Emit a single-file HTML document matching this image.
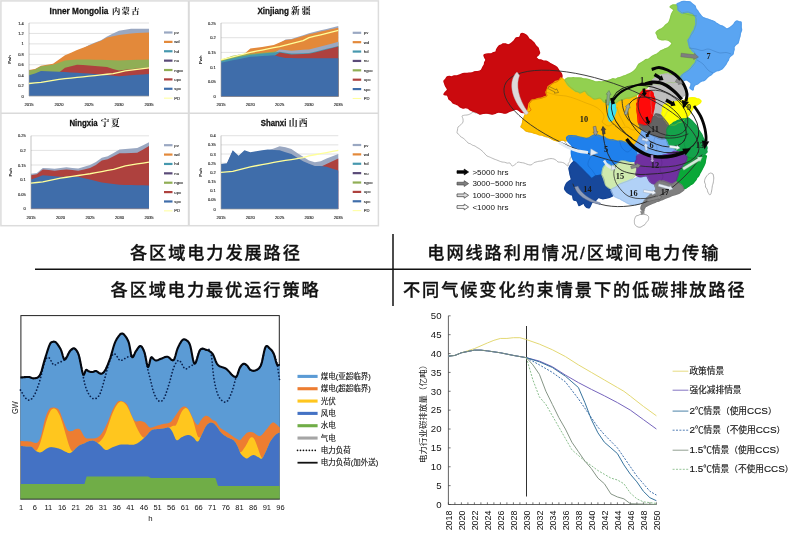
<!DOCTYPE html>
<html lang="zh"><head><meta charset="utf-8"><title>电力发展路径</title>
<style>
html,body{margin:0;padding:0;background:#fff;}
body{width:800px;height:549px;overflow:hidden;position:relative;font-family:"Liberation Sans", "Noto Sans CJK SC", sans-serif;}
svg{position:absolute;left:0;top:0;display:block;}
text{font-family:"Liberation Sans", "Noto Sans CJK SC", sans-serif;}
.ser{font-family:"Liberation Serif", "Noto Serif CJK SC", serif;}
</style></head><body>
<svg width="800" height="549" viewBox="0 0 800 549">
<rect x="0.9" y="0.9" width="377.5" height="224.8" fill="#fff" stroke="#dcdcdc" stroke-width="1.5"/>
<line x1="188.8" y1="0.9" x2="188.8" y2="225.7" stroke="#dadada" stroke-width="2"/>
<line x1="0.9" y1="113.2" x2="378.4" y2="113.2" stroke="#dadada" stroke-width="1.6"/>
<text x="49.6" y="13.7" font-size="9.3" font-weight="bold" fill="#111" stroke="#111" stroke-width="0.28" textLength="58.7" lengthAdjust="spacingAndGlyphs">Inner Mongolia</text>
<text class="ser" x="112" y="13.7" font-size="8.3" font-weight="bold" fill="#111" letter-spacing="1.3">内蒙古</text>
<line x1="29" y1="96" x2="149" y2="96" stroke="#cfcfcf" stroke-width="0.6"/>
<text x="23.7" y="97.5" text-anchor="end" font-size="4" fill="#222" stroke="#222" stroke-width="0.12">0</text>
<line x1="29" y1="85.57" x2="149" y2="85.57" stroke="#cfcfcf" stroke-width="0.6"/>
<text x="23.7" y="87.07" text-anchor="end" font-size="4" fill="#222" stroke="#222" stroke-width="0.12">0.2</text>
<line x1="29" y1="75.14" x2="149" y2="75.14" stroke="#cfcfcf" stroke-width="0.6"/>
<text x="23.7" y="76.64" text-anchor="end" font-size="4" fill="#222" stroke="#222" stroke-width="0.12">0.4</text>
<line x1="29" y1="64.71" x2="149" y2="64.71" stroke="#cfcfcf" stroke-width="0.6"/>
<text x="23.7" y="66.21" text-anchor="end" font-size="4" fill="#222" stroke="#222" stroke-width="0.12">0.6</text>
<line x1="29" y1="54.29" x2="149" y2="54.29" stroke="#cfcfcf" stroke-width="0.6"/>
<text x="23.7" y="55.79" text-anchor="end" font-size="4" fill="#222" stroke="#222" stroke-width="0.12">0.8</text>
<line x1="29" y1="43.86" x2="149" y2="43.86" stroke="#cfcfcf" stroke-width="0.6"/>
<text x="23.7" y="45.36" text-anchor="end" font-size="4" fill="#222" stroke="#222" stroke-width="0.12">1</text>
<line x1="29" y1="33.43" x2="149" y2="33.43" stroke="#cfcfcf" stroke-width="0.6"/>
<text x="23.7" y="34.93" text-anchor="end" font-size="4" fill="#222" stroke="#222" stroke-width="0.12">1.2</text>
<line x1="29" y1="23" x2="149" y2="23" stroke="#cfcfcf" stroke-width="0.6"/>
<text x="23.7" y="24.5" text-anchor="end" font-size="4" fill="#222" stroke="#222" stroke-width="0.12">1.4</text>
<polygon points="29,96 29,70.73 35,69.69 41,66.56 47,65.51 53,64.47 59,60.3 65,56.13 71,53.52 77,50.91 83,48.57 89,44.9 95,42.55 101,40.21 107,36.56 113,33.43 119,30.82 125,29.78 131,28.74 137,28.74 143,28.74 149,28.74 149,96" fill="#9AA8C2"/>
<polygon points="29,96 29,69.93 35,68.89 41,65.76 47,64.71 53,63.67 59,59.5 65,55.33 71,52.72 77,50.11 83,47.77 89,45.42 95,43.07 101,40.73 107,37.6 113,36.3 119,34.99 125,34.21 131,33.43 137,33.08 143,32.73 149,32.39 149,96" fill="#E3893A"/>
<polygon points="29,96 29,70.45 35,69.41 41,66.28 47,65.5 53,64.71 59,62.63 65,60.54 71,60.02 77,59.5 83,59.5 89,59.5 95,59.67 101,59.85 107,60.02 113,60.28 119,60.54 125,60.28 131,60.02 137,59.85 143,59.67 149,59.5 149,96" fill="#90AE55"/>
<polygon points="29,96 29,75.94 35,74.38 41,71.77 47,72.03 53,72.29 59,72.55 65,67.84 71,66.28 77,64.71 83,65.11 89,65.5 95,66.02 101,66.54 107,67.06 113,68.89 119,70.45 125,69.8 131,69.15 137,68.57 143,68 149,67.43 149,96" fill="#AE413E"/>
<polygon points="29,96 29,75.14 35,73.58 41,70.97 47,71.23 53,71.49 59,71.75 65,72.01 71,72.41 77,72.8 83,73.19 89,73.58 95,74.1 101,74.62 107,75.14 113,75.66 119,76.19 125,75.66 131,75.14 137,74.8 143,74.45 149,74.1 149,96" fill="#3F6DAA"/>
<line x1="29" y1="23" x2="29" y2="96" stroke="#9a9a9a" stroke-width="0.6"/>
<line x1="29" y1="96" x2="149" y2="96" stroke="#9a9a9a" stroke-width="0.6"/>
<polyline points="29,83.49 35,82.96 41,82.44 47,81.4 53,80.36 59,79.31 65,78.69 71,78.06 77,77.44 83,76.81 89,76.19 95,75.53 101,74.88 107,74.23 113,73.58 119,72.28 125,70.97 131,70.19 137,69.41 143,68.62 149,67.84" fill="none" stroke="#FFFF99" stroke-width="1.3" stroke-linejoin="round"/>
<text x="29" y="105.7" text-anchor="middle" font-size="4.1" fill="#222" stroke="#222" stroke-width="0.12">2015</text>
<text x="59" y="105.7" text-anchor="middle" font-size="4.1" fill="#222" stroke="#222" stroke-width="0.12">2020</text>
<text x="89" y="105.7" text-anchor="middle" font-size="4.1" fill="#222" stroke="#222" stroke-width="0.12">2025</text>
<text x="119" y="105.7" text-anchor="middle" font-size="4.1" fill="#222" stroke="#222" stroke-width="0.12">2030</text>
<text x="149" y="105.7" text-anchor="middle" font-size="4.1" fill="#222" stroke="#222" stroke-width="0.12">2035</text>
<text transform="translate(11,59.5) rotate(-90)" text-anchor="middle" font-size="4.2" font-weight="bold" fill="#111">Pwh</text>
<line x1="164" y1="32.5" x2="172.5" y2="32.5" stroke="#9AA8C2" stroke-width="2.2"/>
<text x="174.3" y="34" font-size="4.2" fill="#222" stroke="#222" stroke-width="0.1">pv</text>
<line x1="164" y1="41.88" x2="172.5" y2="41.88" stroke="#E3893A" stroke-width="2.2"/>
<text x="174.3" y="43.38" font-size="4.2" fill="#222" stroke="#222" stroke-width="0.1">wd</text>
<line x1="164" y1="51.26" x2="172.5" y2="51.26" stroke="#4698AE" stroke-width="2.2"/>
<text x="174.3" y="52.76" font-size="4.2" fill="#222" stroke="#222" stroke-width="0.1">hd</text>
<line x1="164" y1="60.64" x2="172.5" y2="60.64" stroke="#5A4A78" stroke-width="2.2"/>
<text x="174.3" y="62.14" font-size="4.2" fill="#222" stroke="#222" stroke-width="0.1">nu</text>
<line x1="164" y1="70.02" x2="172.5" y2="70.02" stroke="#90AE55" stroke-width="2.2"/>
<text x="174.3" y="71.52" font-size="4.2" fill="#222" stroke="#222" stroke-width="0.1">ngcc</text>
<line x1="164" y1="79.4" x2="172.5" y2="79.4" stroke="#AE413E" stroke-width="2.2"/>
<text x="174.3" y="80.9" font-size="4.2" fill="#222" stroke="#222" stroke-width="0.1">upc</text>
<line x1="164" y1="88.78" x2="172.5" y2="88.78" stroke="#3F6DAA" stroke-width="2.2"/>
<text x="174.3" y="90.28" font-size="4.2" fill="#222" stroke="#222" stroke-width="0.1">spc</text>
<line x1="164" y1="98.16" x2="172.5" y2="98.16" stroke="#FFFF99" stroke-width="1"/>
<text x="174.3" y="99.66" font-size="4.2" fill="#222" stroke="#222" stroke-width="0.1">PD</text>
<text x="257.4" y="13.5" font-size="9.3" font-weight="bold" fill="#111" stroke="#111" stroke-width="0.28" textLength="31.5" lengthAdjust="spacingAndGlyphs">Xinjiang</text>
<text class="ser" x="291" y="13.5" font-size="8.8" font-weight="bold" fill="#111" letter-spacing="1.9">新疆</text>
<line x1="221" y1="96.5" x2="338.3" y2="96.5" stroke="#cfcfcf" stroke-width="0.6"/>
<text x="215.7" y="98" text-anchor="end" font-size="4" fill="#222" stroke="#222" stroke-width="0.12">0</text>
<line x1="221" y1="81.8" x2="338.3" y2="81.8" stroke="#cfcfcf" stroke-width="0.6"/>
<text x="215.7" y="83.3" text-anchor="end" font-size="4" fill="#222" stroke="#222" stroke-width="0.12">0.05</text>
<line x1="221" y1="67.1" x2="338.3" y2="67.1" stroke="#cfcfcf" stroke-width="0.6"/>
<text x="215.7" y="68.6" text-anchor="end" font-size="4" fill="#222" stroke="#222" stroke-width="0.12">0.1</text>
<line x1="221" y1="52.4" x2="338.3" y2="52.4" stroke="#cfcfcf" stroke-width="0.6"/>
<text x="215.7" y="53.9" text-anchor="end" font-size="4" fill="#222" stroke="#222" stroke-width="0.12">0.15</text>
<line x1="221" y1="37.7" x2="338.3" y2="37.7" stroke="#cfcfcf" stroke-width="0.6"/>
<text x="215.7" y="39.2" text-anchor="end" font-size="4" fill="#222" stroke="#222" stroke-width="0.12">0.2</text>
<line x1="221" y1="23" x2="338.3" y2="23" stroke="#cfcfcf" stroke-width="0.6"/>
<text x="215.7" y="24.5" text-anchor="end" font-size="4" fill="#222" stroke="#222" stroke-width="0.12">0.25</text>
<polygon points="221,96.5 221,60.55 226.87,58.49 232.73,56.43 238.59,54.46 244.46,54.67 250.32,49.38 256.19,48.64 262.06,47.91 267.92,46.88 273.79,45.85 279.65,43.35 285.51,39.46 291.38,38.88 297.25,37.01 303.11,35.15 308.98,33.29 314.84,31.82 320.71,30.35 326.57,28.88 332.44,27.41 338.3,25.94 338.3,96.5" fill="#9AA8C2"/>
<polygon points="221,96.5 221,60.55 226.87,58.49 232.73,56.43 238.59,55.85 244.46,53.87 250.32,48.58 256.19,47.84 262.06,47.11 267.92,46.08 273.79,45.05 279.65,42.55 285.51,40.05 291.38,39.46 297.25,37.7 303.11,35.94 308.98,34.17 314.84,32.88 320.71,31.58 326.57,30.29 332.44,29 338.3,27.7 338.3,96.5" fill="#E3893A"/>
<polygon points="221,96.5 221,59.75 226.87,57.69 232.73,55.63 238.59,55.05 244.46,54.46 250.32,53.87 256.19,53.36 262.06,52.84 267.92,52.33 273.79,51.81 279.65,50.26 285.51,50.85 291.38,51.44 297.25,51.04 303.11,50.65 308.98,50.26 314.84,48.79 320.71,47.32 326.57,45.75 332.44,44.18 338.3,42.62 338.3,96.5" fill="#90AE55"/>
<polygon points="221,96.5 221,62.02 226.87,60.55 232.73,59.08 238.59,57.9 244.46,56.73 250.32,55.55 256.19,54.96 262.06,54.38 267.92,53.79 273.79,53.2 279.65,49.46 285.51,50.05 291.38,50.64 297.25,50.24 303.11,49.85 308.98,49.46 314.84,47.99 320.71,46.52 326.57,44.95 332.44,43.38 338.3,41.82 338.3,96.5" fill="#9AA8C2"/>
<polygon points="221,96.5 221,61.22 226.87,59.75 232.73,58.28 238.59,57.1 244.46,55.93 250.32,54.75 256.19,54.16 262.06,53.58 267.92,52.99 273.79,52.4 279.65,51.81 285.51,52.69 291.38,53.58 297.25,53.38 303.11,53.18 308.98,52.99 314.84,51.66 320.71,50.34 326.57,48.87 332.44,47.4 338.3,45.93 338.3,96.5" fill="#4698AE"/>
<polygon points="221,96.5 221,63.49 226.87,62.31 232.73,61.14 238.59,59.96 244.46,58.79 250.32,57.61 256.19,57.24 262.06,56.88 267.92,56.51 273.79,56.14 279.65,52.4 285.51,53.43 291.38,54.46 297.25,54.26 303.11,54.07 308.98,53.87 314.84,52.4 320.71,50.93 326.57,49.46 332.44,47.99 338.3,46.52 338.3,96.5" fill="#AE413E"/>
<polygon points="221,96.5 221,62.69 226.87,61.51 232.73,60.34 238.59,59.16 244.46,57.99 250.32,56.81 256.19,56.44 262.06,56.07 267.92,55.71 273.79,55.34 279.65,56.66 285.51,57.99 291.38,58.06 297.25,58.13 303.11,58.21 308.98,58.28 314.84,58.28 320.71,58.28 326.57,58.28 332.44,58.28 338.3,58.28 338.3,96.5" fill="#3F6DAA"/>
<line x1="221" y1="23" x2="221" y2="96.5" stroke="#9a9a9a" stroke-width="0.6"/>
<line x1="221" y1="96.5" x2="338.3" y2="96.5" stroke="#9a9a9a" stroke-width="0.6"/>
<polyline points="221,59.75 226.87,58.28 232.73,56.81 238.59,55.34 244.46,53.87 250.32,52.4 256.19,51.22 262.06,50.05 267.92,48.87 273.79,47.7 279.65,46.52 285.51,45.05 291.38,43.58 297.25,42.11 303.11,40.64 308.98,37.7 314.84,36.23 320.71,34.76 326.57,33.29 332.44,31.82 338.3,30.35" fill="none" stroke="#FFFF99" stroke-width="1.3" stroke-linejoin="round"/>
<text x="221" y="106.2" text-anchor="middle" font-size="4.1" fill="#222" stroke="#222" stroke-width="0.12">2015</text>
<text x="250.32" y="106.2" text-anchor="middle" font-size="4.1" fill="#222" stroke="#222" stroke-width="0.12">2020</text>
<text x="279.65" y="106.2" text-anchor="middle" font-size="4.1" fill="#222" stroke="#222" stroke-width="0.12">2025</text>
<text x="308.98" y="106.2" text-anchor="middle" font-size="4.1" fill="#222" stroke="#222" stroke-width="0.12">2030</text>
<text x="338.3" y="106.2" text-anchor="middle" font-size="4.1" fill="#222" stroke="#222" stroke-width="0.12">2035</text>
<text transform="translate(202,59.75) rotate(-90)" text-anchor="middle" font-size="4.2" font-weight="bold" fill="#111">Pwh</text>
<line x1="352.7" y1="32.8" x2="361.2" y2="32.8" stroke="#9AA8C2" stroke-width="2.2"/>
<text x="363.8" y="34.3" font-size="4.2" fill="#222" stroke="#222" stroke-width="0.1">pv</text>
<line x1="352.7" y1="42.18" x2="361.2" y2="42.18" stroke="#E3893A" stroke-width="2.2"/>
<text x="363.8" y="43.68" font-size="4.2" fill="#222" stroke="#222" stroke-width="0.1">wd</text>
<line x1="352.7" y1="51.56" x2="361.2" y2="51.56" stroke="#4698AE" stroke-width="2.2"/>
<text x="363.8" y="53.06" font-size="4.2" fill="#222" stroke="#222" stroke-width="0.1">hd</text>
<line x1="352.7" y1="60.94" x2="361.2" y2="60.94" stroke="#5A4A78" stroke-width="2.2"/>
<text x="363.8" y="62.44" font-size="4.2" fill="#222" stroke="#222" stroke-width="0.1">nu</text>
<line x1="352.7" y1="70.32" x2="361.2" y2="70.32" stroke="#90AE55" stroke-width="2.2"/>
<text x="363.8" y="71.82" font-size="4.2" fill="#222" stroke="#222" stroke-width="0.1">ngcc</text>
<line x1="352.7" y1="79.7" x2="361.2" y2="79.7" stroke="#AE413E" stroke-width="2.2"/>
<text x="363.8" y="81.2" font-size="4.2" fill="#222" stroke="#222" stroke-width="0.1">upc</text>
<line x1="352.7" y1="89.08" x2="361.2" y2="89.08" stroke="#3F6DAA" stroke-width="2.2"/>
<text x="363.8" y="90.58" font-size="4.2" fill="#222" stroke="#222" stroke-width="0.1">spc</text>
<line x1="352.7" y1="98.46" x2="361.2" y2="98.46" stroke="#FFFF99" stroke-width="1"/>
<text x="363.8" y="99.96" font-size="4.2" fill="#222" stroke="#222" stroke-width="0.1">PD</text>
<text x="69.4" y="126.1" font-size="9.3" font-weight="bold" fill="#111" stroke="#111" stroke-width="0.28" textLength="28.3" lengthAdjust="spacingAndGlyphs">Ningxia</text>
<text class="ser" x="100.8" y="126.1" font-size="8.6" font-weight="bold" fill="#111" letter-spacing="1.5">宁夏</text>
<line x1="31" y1="208.8" x2="149" y2="208.8" stroke="#cfcfcf" stroke-width="0.6"/>
<text x="25.7" y="210.3" text-anchor="end" font-size="4" fill="#222" stroke="#222" stroke-width="0.12">0</text>
<line x1="31" y1="194.2" x2="149" y2="194.2" stroke="#cfcfcf" stroke-width="0.6"/>
<text x="25.7" y="195.7" text-anchor="end" font-size="4" fill="#222" stroke="#222" stroke-width="0.12">0.05</text>
<line x1="31" y1="179.6" x2="149" y2="179.6" stroke="#cfcfcf" stroke-width="0.6"/>
<text x="25.7" y="181.1" text-anchor="end" font-size="4" fill="#222" stroke="#222" stroke-width="0.12">0.1</text>
<line x1="31" y1="165" x2="149" y2="165" stroke="#cfcfcf" stroke-width="0.6"/>
<text x="25.7" y="166.5" text-anchor="end" font-size="4" fill="#222" stroke="#222" stroke-width="0.12">0.15</text>
<line x1="31" y1="150.4" x2="149" y2="150.4" stroke="#cfcfcf" stroke-width="0.6"/>
<text x="25.7" y="151.9" text-anchor="end" font-size="4" fill="#222" stroke="#222" stroke-width="0.12">0.2</text>
<line x1="31" y1="135.8" x2="149" y2="135.8" stroke="#cfcfcf" stroke-width="0.6"/>
<text x="25.7" y="137.3" text-anchor="end" font-size="4" fill="#222" stroke="#222" stroke-width="0.12">0.25</text>
<polygon points="31,208.8 31,173.76 36.9,172.88 42.8,167.92 48.7,168.36 54.6,168.8 60.5,168.07 66.4,167.34 72.3,167.92 78.2,168.5 84.1,166.75 90,165 95.9,162.08 101.8,157.7 107.7,156.24 113.6,152.88 119.5,149.52 125.4,149.04 131.3,148.55 137.2,148.06 143.1,145.14 149,142.22 149,208.8" fill="#9AA8C2"/>
<polygon points="31,208.8 31,175.22 36.9,174.34 42.8,169.38 48.7,170.11 54.6,170.84 60.5,170.11 66.4,169.38 72.3,170.11 78.2,170.84 84.1,169.38 90,167.92 95.9,165 101.8,160.62 107.7,159.16 113.6,156.24 119.5,153.32 125.4,153.13 131.3,152.93 137.2,152.74 143.1,149.38 149,146.02 149,208.8" fill="#AE413E"/>
<polygon points="31,208.8 31,179.6 36.9,177.41 42.8,175.22 48.7,175.71 54.6,176.19 60.5,176.68 66.4,176.68 72.3,176.68 78.2,176.68 84.1,178.14 90,179.6 95.9,181.06 101.8,182.52 107.7,183.3 113.6,184.08 119.5,184.86 125.4,184.97 131.3,185.09 137.2,185.21 143.1,185.32 149,185.44 149,208.8" fill="#3F6DAA"/>
<line x1="31" y1="135.8" x2="31" y2="208.8" stroke="#9a9a9a" stroke-width="0.6"/>
<line x1="31" y1="208.8" x2="149" y2="208.8" stroke="#9a9a9a" stroke-width="0.6"/>
<polyline points="31,183.1 36.9,182.52 42.8,181.94 48.7,180.67 54.6,179.41 60.5,178.14 66.4,177.26 72.3,176.39 78.2,175.51 84.1,174.64 90,173.76 95.9,172.67 101.8,171.57 107.7,170.48 113.6,169.38 119.5,167.63 125.4,165.88 131.3,164.93 137.2,163.98 143.1,163.03 149,162.08" fill="none" stroke="#FFFF99" stroke-width="1.3" stroke-linejoin="round"/>
<text x="31" y="218.5" text-anchor="middle" font-size="4.1" fill="#222" stroke="#222" stroke-width="0.12">2015</text>
<text x="60.5" y="218.5" text-anchor="middle" font-size="4.1" fill="#222" stroke="#222" stroke-width="0.12">2020</text>
<text x="90" y="218.5" text-anchor="middle" font-size="4.1" fill="#222" stroke="#222" stroke-width="0.12">2025</text>
<text x="119.5" y="218.5" text-anchor="middle" font-size="4.1" fill="#222" stroke="#222" stroke-width="0.12">2030</text>
<text x="149" y="218.5" text-anchor="middle" font-size="4.1" fill="#222" stroke="#222" stroke-width="0.12">2035</text>
<text transform="translate(12,172.3) rotate(-90)" text-anchor="middle" font-size="4.2" font-weight="bold" fill="#111">Pwh</text>
<line x1="164" y1="145.2" x2="172.5" y2="145.2" stroke="#9AA8C2" stroke-width="2.2"/>
<text x="174.3" y="146.7" font-size="4.2" fill="#222" stroke="#222" stroke-width="0.1">pv</text>
<line x1="164" y1="154.58" x2="172.5" y2="154.58" stroke="#E3893A" stroke-width="2.2"/>
<text x="174.3" y="156.08" font-size="4.2" fill="#222" stroke="#222" stroke-width="0.1">wd</text>
<line x1="164" y1="163.96" x2="172.5" y2="163.96" stroke="#4698AE" stroke-width="2.2"/>
<text x="174.3" y="165.46" font-size="4.2" fill="#222" stroke="#222" stroke-width="0.1">hd</text>
<line x1="164" y1="173.34" x2="172.5" y2="173.34" stroke="#5A4A78" stroke-width="2.2"/>
<text x="174.3" y="174.84" font-size="4.2" fill="#222" stroke="#222" stroke-width="0.1">nu</text>
<line x1="164" y1="182.72" x2="172.5" y2="182.72" stroke="#90AE55" stroke-width="2.2"/>
<text x="174.3" y="184.22" font-size="4.2" fill="#222" stroke="#222" stroke-width="0.1">ngcc</text>
<line x1="164" y1="192.1" x2="172.5" y2="192.1" stroke="#AE413E" stroke-width="2.2"/>
<text x="174.3" y="193.6" font-size="4.2" fill="#222" stroke="#222" stroke-width="0.1">upc</text>
<line x1="164" y1="201.48" x2="172.5" y2="201.48" stroke="#3F6DAA" stroke-width="2.2"/>
<text x="174.3" y="202.98" font-size="4.2" fill="#222" stroke="#222" stroke-width="0.1">spc</text>
<line x1="164" y1="210.86" x2="172.5" y2="210.86" stroke="#FFFF99" stroke-width="1"/>
<text x="174.3" y="212.36" font-size="4.2" fill="#222" stroke="#222" stroke-width="0.1">PD</text>
<text x="260.8" y="126.1" font-size="9.3" font-weight="bold" fill="#111" stroke="#111" stroke-width="0.28" textLength="25.5" lengthAdjust="spacingAndGlyphs">Shanxi</text>
<text class="ser" x="288.7" y="126.1" font-size="8.8" font-weight="bold" fill="#111" letter-spacing="1.2">山西</text>
<line x1="221" y1="209" x2="338.3" y2="209" stroke="#cfcfcf" stroke-width="0.6"/>
<text x="215.7" y="210.5" text-anchor="end" font-size="4" fill="#222" stroke="#222" stroke-width="0.12">0</text>
<line x1="221" y1="199.84" x2="338.3" y2="199.84" stroke="#cfcfcf" stroke-width="0.6"/>
<text x="215.7" y="201.34" text-anchor="end" font-size="4" fill="#222" stroke="#222" stroke-width="0.12">0.05</text>
<line x1="221" y1="190.68" x2="338.3" y2="190.68" stroke="#cfcfcf" stroke-width="0.6"/>
<text x="215.7" y="192.18" text-anchor="end" font-size="4" fill="#222" stroke="#222" stroke-width="0.12">0.1</text>
<line x1="221" y1="181.51" x2="338.3" y2="181.51" stroke="#cfcfcf" stroke-width="0.6"/>
<text x="215.7" y="183.01" text-anchor="end" font-size="4" fill="#222" stroke="#222" stroke-width="0.12">0.15</text>
<line x1="221" y1="172.35" x2="338.3" y2="172.35" stroke="#cfcfcf" stroke-width="0.6"/>
<text x="215.7" y="173.85" text-anchor="end" font-size="4" fill="#222" stroke="#222" stroke-width="0.12">0.2</text>
<line x1="221" y1="163.19" x2="338.3" y2="163.19" stroke="#cfcfcf" stroke-width="0.6"/>
<text x="215.7" y="164.69" text-anchor="end" font-size="4" fill="#222" stroke="#222" stroke-width="0.12">0.25</text>
<line x1="221" y1="154.03" x2="338.3" y2="154.03" stroke="#cfcfcf" stroke-width="0.6"/>
<text x="215.7" y="155.53" text-anchor="end" font-size="4" fill="#222" stroke="#222" stroke-width="0.12">0.3</text>
<line x1="221" y1="144.86" x2="338.3" y2="144.86" stroke="#cfcfcf" stroke-width="0.6"/>
<text x="215.7" y="146.36" text-anchor="end" font-size="4" fill="#222" stroke="#222" stroke-width="0.12">0.35</text>
<line x1="221" y1="135.7" x2="338.3" y2="135.7" stroke="#cfcfcf" stroke-width="0.6"/>
<text x="215.7" y="137.2" text-anchor="end" font-size="4" fill="#222" stroke="#222" stroke-width="0.12">0.4</text>
<polygon points="221,209 221,164.9 226.87,163.99 232.73,151.16 238.59,156.66 244.46,151.16 250.32,152.99 256.19,152.08 262.06,151.16 267.92,150.24 273.79,148.53 279.65,146.33 285.51,147.24 291.38,149.08 297.25,152.93 303.11,156.77 308.98,160.44 314.84,162.27 320.71,161.35 326.57,158.61 332.44,156.32 338.3,154.03 338.3,209" fill="#9AA8C2"/>
<polygon points="221,209 221,164.9 226.87,163.99 232.73,151.16 238.59,156.66 244.46,151.16 250.32,152.99 256.19,152.08 262.06,151.16 267.92,150.24 273.79,150.7 279.65,151.16 285.51,152.99 291.38,154.82 297.25,158.49 303.11,162.16 308.98,164.45 314.84,166.74 320.71,166.74 326.57,164.1 332.44,161.35 338.3,158.61 338.3,209" fill="#AE413E"/>
<polygon points="221,209 221,164.1 226.87,163.19 232.73,150.36 238.59,155.86 244.46,150.36 250.32,152.19 256.19,151.28 262.06,150.36 267.92,149.44 273.79,149.9 279.65,150.36 285.51,152.19 291.38,154.03 297.25,157.69 303.11,161.35 308.98,163.65 314.84,165.94 320.71,165.94 326.57,166.85 332.44,168.69 338.3,170.52 338.3,209" fill="#3F6DAA"/>
<line x1="221" y1="135.7" x2="221" y2="209" stroke="#9a9a9a" stroke-width="0.6"/>
<line x1="221" y1="209" x2="338.3" y2="209" stroke="#9a9a9a" stroke-width="0.6"/>
<polyline points="221,172.35 226.87,171.89 232.73,171.43 238.59,169.91 244.46,168.38 250.32,166.85 256.19,165.75 262.06,164.65 267.92,163.55 273.79,162.45 279.65,161.35 285.51,160.44 291.38,159.52 297.25,158.61 303.11,157.69 308.98,155.86 314.84,154.76 320.71,153.66 326.57,152.56 332.44,151.46 338.3,150.36" fill="none" stroke="#FFFF99" stroke-width="1.3" stroke-linejoin="round"/>
<text x="221" y="218.7" text-anchor="middle" font-size="4.1" fill="#222" stroke="#222" stroke-width="0.12">2015</text>
<text x="250.32" y="218.7" text-anchor="middle" font-size="4.1" fill="#222" stroke="#222" stroke-width="0.12">2020</text>
<text x="279.65" y="218.7" text-anchor="middle" font-size="4.1" fill="#222" stroke="#222" stroke-width="0.12">2025</text>
<text x="308.98" y="218.7" text-anchor="middle" font-size="4.1" fill="#222" stroke="#222" stroke-width="0.12">2030</text>
<text x="338.3" y="218.7" text-anchor="middle" font-size="4.1" fill="#222" stroke="#222" stroke-width="0.12">2035</text>
<text transform="translate(202,172.35) rotate(-90)" text-anchor="middle" font-size="4.2" font-weight="bold" fill="#111">Pwh</text>
<line x1="352.7" y1="145" x2="361.2" y2="145" stroke="#9AA8C2" stroke-width="2.2"/>
<text x="363.8" y="146.5" font-size="4.2" fill="#222" stroke="#222" stroke-width="0.1">pv</text>
<line x1="352.7" y1="154.38" x2="361.2" y2="154.38" stroke="#E3893A" stroke-width="2.2"/>
<text x="363.8" y="155.88" font-size="4.2" fill="#222" stroke="#222" stroke-width="0.1">wd</text>
<line x1="352.7" y1="163.76" x2="361.2" y2="163.76" stroke="#4698AE" stroke-width="2.2"/>
<text x="363.8" y="165.26" font-size="4.2" fill="#222" stroke="#222" stroke-width="0.1">hd</text>
<line x1="352.7" y1="173.14" x2="361.2" y2="173.14" stroke="#5A4A78" stroke-width="2.2"/>
<text x="363.8" y="174.64" font-size="4.2" fill="#222" stroke="#222" stroke-width="0.1">nu</text>
<line x1="352.7" y1="182.52" x2="361.2" y2="182.52" stroke="#90AE55" stroke-width="2.2"/>
<text x="363.8" y="184.02" font-size="4.2" fill="#222" stroke="#222" stroke-width="0.1">ngcc</text>
<line x1="352.7" y1="191.9" x2="361.2" y2="191.9" stroke="#AE413E" stroke-width="2.2"/>
<text x="363.8" y="193.4" font-size="4.2" fill="#222" stroke="#222" stroke-width="0.1">upc</text>
<line x1="352.7" y1="201.28" x2="361.2" y2="201.28" stroke="#3F6DAA" stroke-width="2.2"/>
<text x="363.8" y="202.78" font-size="4.2" fill="#222" stroke="#222" stroke-width="0.1">spc</text>
<line x1="352.7" y1="210.66" x2="361.2" y2="210.66" stroke="#FFFF99" stroke-width="1"/>
<text x="363.8" y="212.16" font-size="4.2" fill="#222" stroke="#222" stroke-width="0.1">PD</text>
<g id="map">
<path d="M473,112C472.52,112.05 471.61,113.05 471.16,113.33C470.72,113.61 469.7,114.23 469.21,114.43C468.73,114.62 467.56,114.91 467,115C466.44,115.09 465.03,115.11 464.45,115.23C463.86,115.35 462.17,115.57 462,116C461.83,116.43 462.87,118.22 462.99,118.92C463.11,119.62 463.16,121.41 463,122C462.84,122.59 461.97,123.53 461.61,123.95C461.26,124.37 460.34,125.23 459.92,125.58C459.5,125.94 458.28,126.49 458,127C457.72,127.51 457.6,129.3 457.48,130C457.36,130.7 456.82,132.46 457,133C457.18,133.54 458.63,134.17 459.05,134.6C459.48,135.04 460.21,136.33 460.67,136.73C461.13,137.12 462.52,137.67 463,138C463.48,138.33 464.39,139.17 464.79,139.54C465.2,139.91 466.1,140.79 466.47,141.2C466.85,141.6 467.54,142.7 468,143C468.46,143.3 469.89,143.54 470.42,143.8C470.95,144.06 472.03,144.98 472.57,145.23C473.1,145.49 474.49,145.75 475,146C475.51,146.25 476.48,147.1 476.95,147.4C477.43,147.7 478.6,148.26 479.07,148.56C479.54,148.87 480.53,149.61 481,150C481.47,150.39 482.66,151.41 483.12,151.88C483.59,152.34 484.56,153.51 485.01,153.99C485.47,154.47 486.49,155.66 487,156C487.51,156.34 488.83,156.68 489.37,156.91C489.92,157.14 491.14,157.73 491.68,157.98C492.22,158.22 493.42,158.77 494,159C494.58,159.23 496.05,159.74 496.67,159.98C497.29,160.22 498.69,160.83 499.31,161.07C499.93,161.31 501.37,161.86 502,162C502.63,162.14 504.06,162.13 504.68,162.27C505.29,162.4 506.65,163.05 507.28,163.13C507.9,163.22 509.45,162.67 510,163C510.55,163.33 511.5,165.76 512,166C512.5,166.24 513.79,165.36 514.27,165.08C514.76,164.79 515.71,163.91 516.15,163.55C516.58,163.19 517.44,162.11 518,162C518.56,161.89 520.29,162.47 520.99,162.58C521.69,162.7 523.31,162.81 524,163C524.69,163.19 526.24,163.95 526.94,164.18C527.64,164.41 529.39,164.97 530,165C530.61,165.03 531.76,164.68 532.2,164.41C532.65,164.14 533.4,162.97 533.85,162.69C534.29,162.41 535.4,162.17 536,162C536.6,161.83 538.26,161.35 538.96,161.23C539.66,161.12 541.3,161.15 542,161C542.7,160.85 544.28,160.19 544.98,159.95C545.68,159.72 547.3,159.16 548,159C548.7,158.84 550.3,158.55 551,158.55C551.7,158.55 553.4,158.8 554,159C554.6,159.2 555.71,159.91 556.18,160.26C556.64,160.61 557.43,161.78 558,162C558.57,162.22 560.35,162.07 561.05,162.18C561.75,162.3 563.43,162.72 564,163C564.57,163.28 565.46,164.25 565.93,164.6C566.39,164.95 567.73,166.12 568,166C568.27,165.88 568.01,164.07 568.22,163.54C568.43,163.01 569.61,162 569.82,161.47C570.03,160.94 569.85,159.56 570,159C570.15,158.44 570.87,157.25 571.11,156.71C571.35,156.17 571.83,154.9 572.05,154.35C572.27,153.8 573.06,152.51 573,152C572.94,151.49 571.9,150.43 571.55,149.96C571.2,149.5 570.45,148.49 570,148C569.55,147.51 568.17,146.32 567.71,145.73C567.24,145.15 566.38,143.49 566,143C565.62,142.51 564.81,141.89 564.46,141.54C564.11,141.19 563.45,140.07 563,140C562.55,139.93 561.17,140.82 560.59,140.94C560,141.05 558.62,141.1 558,141C557.38,140.9 555.93,140.31 555.29,140.11C554.66,139.91 553.17,139.56 552.55,139.31C551.93,139.06 550.61,138.25 550,138C549.39,137.75 547.93,137.31 547.28,137.14C546.64,136.96 545.09,136.76 544.48,136.51C543.86,136.26 542.59,135.3 542,135C541.41,134.7 540.06,134.07 539.43,133.93C538.81,133.78 537.28,133.86 536.65,133.75C536.01,133.64 534.61,133.19 534,133C533.39,132.81 532.02,132.23 531.39,132.11C530.76,132 529.21,132.15 528.58,132.02C527.95,131.89 526.6,131.34 526,131C525.4,130.66 524.03,129.54 523.44,129.07C522.86,128.6 521.22,127.52 521,127C520.78,126.48 521.36,125.17 521.54,124.63C521.72,124.09 522.36,122.93 522.53,122.39C522.7,121.85 522.88,120.59 523,120C523.12,119.41 523.35,117.91 523.58,117.33C523.81,116.75 524.68,115.55 525,115C525.32,114.45 526.12,113.22 526.35,112.64C526.59,112.06 527.28,110.28 527,110C526.72,109.72 524.65,110.11 523.95,110.23C523.25,110.34 521.64,111.01 521,111C520.36,110.99 519.03,110.36 518.45,110.13C517.86,109.9 516.62,108.97 516,109C515.38,109.03 513.82,110.12 513.12,110.36C512.42,110.59 510.7,110.75 510,111C509.3,111.25 507.85,112.22 507.15,112.46C506.45,112.69 504.71,113.05 504,113C503.29,112.95 501.79,112.11 501.09,111.99C500.39,111.87 498.71,111.89 498,112C497.29,112.11 495.67,112.69 494.97,112.92C494.27,113.15 492.7,113.9 492,114C491.3,114.1 489.65,113.93 488.95,113.81C488.25,113.7 486.7,113.06 486,113C485.3,112.94 483.66,113.16 482.96,113.27C482.26,113.39 480.62,113.99 480,114C479.38,114.01 478.21,113.5 477.65,113.37C477.1,113.25 475.81,113.06 475.27,112.9C474.72,112.73 473.48,111.95 473,112Z" fill="#ffffff" stroke="#9a9a9a" stroke-width="0.7" stroke-linejoin="round"/>
<path d="M523,33.6C523.58,33.72 525.44,34.63 526,35C526.56,35.37 527.41,36.34 527.76,36.81C528.11,37.27 528.54,38.54 529,39C529.46,39.46 531.13,40.27 531.71,40.73C532.3,41.2 533.54,42.41 534,43C534.46,43.59 535.22,45.17 535.69,45.75C536.16,46.33 537.64,47.45 538,48C538.36,48.55 538.62,49.91 538.81,50.5C538.99,51.08 539.69,52.45 539.6,53C539.51,53.55 538.48,54.76 538.06,55.23C537.64,55.7 536.1,56.58 536,57C535.9,57.42 536.85,58.45 537.2,58.8C537.55,59.15 538.52,59.85 539,60C539.48,60.15 540.82,59.96 541.34,60.11C541.86,60.26 542.92,61.15 543.44,61.26C543.97,61.38 545.31,61.02 545.84,61.11C546.37,61.19 547.49,61.71 548,62C548.51,62.29 549.63,63.3 550.17,63.62C550.71,63.94 552.05,64.48 552.62,64.76C553.18,65.03 554.52,65.71 555,66C555.48,66.29 556.38,66.92 556.73,67.27C557.08,67.62 557.71,68.54 558,69C558.29,69.46 558.84,70.77 559.19,71.23C559.54,71.7 560.69,72.51 561,73C561.31,73.49 561.77,74.85 561.84,75.44C561.91,76.02 561.84,77.53 561.6,78C561.36,78.47 560.22,79.15 559.8,79.5C559.38,79.85 558.43,80.69 558,81C557.57,81.31 556.55,81.94 556.07,82.14C555.59,82.35 554.36,82.55 553.88,82.76C553.41,82.98 552.45,83.67 552,84C551.55,84.33 550.52,85.22 550.05,85.57C549.59,85.92 548.37,86.55 548,87C547.63,87.45 547.11,88.87 546.87,89.45C546.64,90.03 546.04,91.47 546,92C545.96,92.53 546.4,93.53 546.52,94C546.63,94.46 547.23,95.63 547,96C546.77,96.37 545.15,96.93 544.57,97.16C543.98,97.4 542.59,97.83 542,98C541.41,98.17 540.11,98.54 539.53,98.65C538.94,98.75 537.57,98.81 536.98,98.92C536.4,99.03 535.09,99.43 534.51,99.56C533.93,99.69 532.45,99.7 532,100C531.55,100.3 530.97,101.62 530.62,102.09C530.27,102.56 529.12,103.41 529,104C528.88,104.59 529.39,106.42 529.63,107.12C529.86,107.82 531.11,109.45 531,110C530.89,110.55 529.3,111.5 528.71,111.85C528.13,112.2 526.61,112.92 526,113C525.39,113.08 524.07,112.67 523.49,112.55C522.91,112.43 521.56,112.28 521,112C520.44,111.72 519.27,110.53 518.69,110.18C518.11,109.83 516.66,109 516,109C515.34,109 513.76,109.94 513.06,110.18C512.36,110.41 510.69,110.73 510,111C509.31,111.27 507.87,112.27 507.17,112.51C506.47,112.74 504.71,113.03 504,113C503.29,112.97 501.75,112.34 501.05,112.22C500.35,112.11 498.69,111.87 498,112C497.31,112.13 495.81,113.08 495.11,113.32C494.41,113.55 492.71,114.01 492,114C491.29,113.99 489.75,113.33 489.05,113.21C488.35,113.1 486.71,112.98 486,113C485.29,113.02 483.68,113.26 482.98,113.38C482.28,113.5 480.61,114.07 480,114C479.39,113.93 478.3,113.02 477.76,112.77C477.22,112.53 475.94,112.1 475.38,111.89C474.82,111.68 473.6,111.23 473,111C472.4,110.77 470.82,110.29 470.24,109.94C469.65,109.59 468.55,108.27 468,108C467.45,107.73 466.08,107.62 465.5,107.62C464.92,107.62 463.61,108.09 463,108C462.39,107.91 460.85,107.23 460.27,106.88C459.69,106.53 458.55,105.35 458,105C457.45,104.65 456.13,104.11 455.55,103.87C454.97,103.64 453.49,103.37 453,103C452.51,102.63 451.79,101.14 451.33,100.67C450.86,100.21 449.35,99.45 449,99C448.65,98.55 448.55,97.31 448.31,96.84C448.08,96.38 447.5,95.29 447,95C446.5,94.71 444.16,94.75 444,94.4C443.84,94.05 445.18,92.55 445.6,92.04C446.02,91.53 447.45,90.49 447.6,90C447.75,89.51 447.09,88.34 446.86,87.87C446.62,87.4 445.85,86.51 445.6,86C445.35,85.49 444.88,84.12 444.7,83.53C444.51,82.95 443.88,81.51 444,81C444.12,80.49 445.37,79.63 445.72,79.16C446.07,78.7 446.58,77.32 447,77C447.42,76.68 448.74,76.43 449.3,76.42C449.85,76.4 451.2,76.92 451.74,76.87C452.29,76.83 453.38,76.11 454,76C454.62,75.89 456.38,76.07 457.08,75.95C457.78,75.83 459.31,75.27 460,75C460.69,74.73 462.3,73.77 463,73.6C463.7,73.43 465.31,73.6 466.01,73.55C466.71,73.49 468.3,73.21 469,73.14C469.7,73.08 471.35,73.15 472,73C472.65,72.85 473.92,71.99 474.54,71.83C475.16,71.67 476.69,71.73 477.33,71.64C477.96,71.54 479.47,71.27 480,71C480.53,70.73 481.55,69.77 481.9,69.3C482.25,68.84 482.72,67.52 483,67C483.28,66.48 484.13,65.37 484.34,64.81C484.54,64.26 484.56,62.79 484.75,62.23C484.95,61.67 486,60.54 486,60C486,59.46 485.02,58.17 484.79,57.58C484.56,57 483.81,55.4 484,55C484.19,54.6 485.85,54.28 486.43,54.16C487.02,54.04 488.41,54.04 489,54C489.59,53.96 490.93,53.98 491.47,53.81C492.01,53.63 493.1,52.74 493.63,52.53C494.16,52.32 495.66,52.32 496,52C496.34,51.68 496.36,50.26 496.55,49.77C496.74,49.29 497.36,48.26 497.64,47.82C497.93,47.38 498.6,46.31 499,46C499.4,45.69 500.63,45.42 501.09,45.18C501.56,44.95 502.47,44.14 503,44C503.53,43.86 505.01,43.9 505.6,44.01C506.18,44.13 507.45,44.99 508,45C508.55,45.01 509.81,44.4 510.3,44.12C510.79,43.85 511.77,43 512.2,42.64C512.64,42.28 513.56,41.54 514,41C514.44,40.46 515.53,38.38 516,38C516.47,37.62 517.58,37.82 518.05,37.7C518.52,37.59 519.66,37.43 520,37C520.34,36.57 520.65,34.4 521,34C521.35,33.6 522.42,33.48 523,33.6Z" fill="#CB0A0E" stroke="#CB0A0E" stroke-width="1.4" stroke-linejoin="round"/>
<path d="M561,78C561.47,77.99 563.19,79.19 563.77,79.66C564.36,80.13 565.47,81.46 566,82C566.53,82.54 567.85,83.66 568.32,84.24C568.79,84.83 569.54,86.55 570,87C570.46,87.45 571.84,87.75 572.3,88.1C572.77,88.45 573.57,89.67 574,90C574.43,90.33 575.57,90.7 576.02,90.96C576.47,91.23 577.4,92.03 577.86,92.27C578.33,92.51 579.45,93.01 580,93C580.55,92.99 581.98,92.4 582.57,92.16C583.15,91.93 584.5,90.93 585,91C585.5,91.07 586.5,92.27 586.85,92.74C587.2,93.21 587.65,94.56 588,95C588.35,95.44 589.43,96.18 589.87,96.53C590.3,96.89 591.26,97.77 591.74,98.05C592.22,98.34 593.38,98.91 594,99C594.62,99.09 596.35,98.93 597.05,98.82C597.75,98.7 599.39,97.9 600,98C600.61,98.1 601.85,99.22 602.32,99.68C602.78,100.15 603.51,101.67 604,102C604.49,102.33 605.92,102.39 606.5,102.5C607.08,102.62 608.36,103.06 609,103C609.64,102.94 611.41,102.07 612,102C612.59,101.93 613.55,102.32 614.01,102.44C614.48,102.56 615.63,103.12 616,103C616.37,102.88 616.87,101.7 617.22,101.41C617.57,101.12 618.49,100.65 619,100.5C619.51,100.35 621.03,100.32 621.62,100.14C622.2,99.97 623.45,99.18 624,99C624.55,98.82 625.81,98.73 626.35,98.57C626.88,98.41 628.04,97.74 628.58,97.62C629.13,97.49 630.41,97.58 631,97.5C631.59,97.42 633.08,97.14 633.66,96.91C634.25,96.67 635.62,95.41 636,95.5C636.38,95.59 636.72,97.18 636.89,97.7C637.07,98.23 637.44,99.5 637.5,100C637.56,100.5 637.44,101.55 637.38,102.02C637.32,102.48 637,103.48 637,104C637,104.52 637.3,105.91 637.36,106.49C637.41,107.07 637.49,108.4 637.48,108.99C637.47,109.57 637.27,110.92 637.27,111.51C637.27,112.09 637.4,113.42 637.5,114C637.6,114.58 638.06,115.88 638.15,116.46C638.25,117.04 638.28,118.4 638.31,118.99C638.35,119.58 638.39,120.94 638.47,121.52C638.55,122.11 638.82,123.48 639,124C639.18,124.52 639.77,125.53 640.02,125.99C640.26,126.45 640.88,127.48 641.11,127.94C641.35,128.41 642.05,129.5 642,130C641.95,130.5 640.92,131.66 640.68,132.2C640.45,132.74 640.15,134.09 639.96,134.65C639.76,135.21 639.29,136.44 639,137C638.71,137.56 637.81,138.89 637.46,139.47C637.11,140.06 636.33,141.4 636,142C635.67,142.6 634.98,143.99 634.63,144.58C634.28,145.16 633.47,146.96 633,147C632.53,147.04 631.19,145.28 630.56,144.89C629.93,144.49 628.23,143.91 627.6,143.6C626.97,143.29 625.74,142.44 625.14,142.21C624.53,141.98 623.05,141.76 622.42,141.62C621.78,141.48 620.37,141.12 619.7,141C619.03,140.88 617.41,140.61 616.71,140.55C616.01,140.48 614.39,140.48 613.69,140.42C612.99,140.36 611.33,140.12 610.7,140C610.07,139.88 608.82,139.6 608.29,139.4C607.75,139.2 606.61,138.56 606.11,138.28C605.61,138 604.51,137.21 604,137C603.49,136.79 602.26,136.61 601.72,136.52C601.18,136.42 599.93,136.31 599.4,136.19C598.87,136.07 597.68,135.68 597.17,135.49C596.66,135.31 595.47,134.54 595,134.6C594.53,134.66 593.62,135.73 593.16,136.02C592.71,136.32 591.62,136.88 591.14,137.11C590.65,137.34 589.54,137.9 589,138C588.46,138.1 587.07,137.98 586.48,137.95C585.89,137.91 584.56,137.8 583.98,137.72C583.4,137.64 582.08,137.33 581.5,137.25C580.92,137.17 579.58,137.1 579,137C578.42,136.9 577.12,136.44 576.54,136.39C575.95,136.35 574.56,136.6 573.97,136.58C573.38,136.57 572.05,136.37 571.47,136.26C570.89,136.16 569.41,135.43 569,135.7C568.59,135.97 568.27,137.97 567.92,138.59C567.57,139.2 566.57,140.84 566,141C565.43,141.16 563.65,140.09 563,140C562.35,139.91 561.03,140.13 560.45,140.25C559.87,140.37 558.62,140.98 558,141C557.38,141.02 555.81,140.62 555.17,140.43C554.54,140.23 553.15,139.6 552.55,139.32C551.94,139.04 550.59,138.32 550,138C549.41,137.68 548.11,136.81 547.49,136.58C546.87,136.34 545.31,136.17 544.67,135.99C544.03,135.81 542.64,135.13 542,135C541.36,134.87 539.83,134.99 539.21,134.84C538.59,134.68 537.28,133.85 536.67,133.64C536.07,133.43 534.62,133.17 534,133C533.38,132.83 532,132.31 531.38,132.14C530.76,131.97 529.33,131.65 528.7,131.52C528.08,131.38 526.57,131.34 526,131C525.43,130.66 524.39,129.08 523.81,128.62C523.22,128.15 521.19,127.44 521,127C520.81,126.56 521.96,125.34 522.16,124.81C522.35,124.27 522.55,122.98 522.64,122.42C522.74,121.86 522.81,120.56 523,120C523.19,119.44 524.06,118.2 524.29,117.62C524.53,117.03 524.72,115.58 525,115C525.28,114.42 526.35,113.2 526.7,112.62C527.05,112.04 527.78,110.65 528,110C528.22,109.35 528.44,107.71 528.55,107.01C528.67,106.31 528.78,104.59 529,104C529.22,103.41 530.12,102.45 530.47,101.98C530.82,101.51 531.52,100.26 532,100C532.48,99.74 533.97,99.9 534.56,99.79C535.14,99.67 536.43,99.16 537,99.01C537.58,98.85 538.91,98.58 539.49,98.46C540.08,98.35 541.42,98.19 542,98C542.58,97.81 543.85,97.07 544.44,96.84C545.02,96.61 546.75,96.33 547,96C547.25,95.67 546.68,94.45 546.57,93.98C546.45,93.52 545.93,92.51 546,92C546.07,91.49 546.95,90.16 547.18,89.57C547.41,88.99 547.68,87.48 548,87C548.32,86.52 549.47,85.77 549.94,85.42C550.41,85.07 551.53,84.29 552,84C552.47,83.71 553.51,83.19 553.95,82.9C554.39,82.61 555.28,81.73 555.76,81.51C556.23,81.29 557.54,81.21 558,81C558.46,80.79 559.36,80.06 559.71,79.71C560.06,79.36 560.53,78.01 561,78Z" fill="#FFC000" stroke="#FFC000" stroke-width="1.4" stroke-linejoin="round"/>
<path d="M673,5C672.42,5.23 670.11,6.6 670,7C669.89,7.4 671.62,8.04 672.08,8.39C672.55,8.74 673.92,9.59 674,10C674.08,10.41 673.04,11.44 672.78,11.89C672.51,12.34 671.93,13.38 671.72,13.86C671.51,14.34 671.18,15.39 671,16C670.82,16.61 670.45,18.37 670.22,19.07C669.99,19.77 669.33,21.46 669,22C668.67,22.54 667.8,23.36 667.39,23.72C666.98,24.09 665.88,24.77 665.48,25.15C665.09,25.53 664.45,26.58 664,27C663.55,27.42 662.23,28.39 661.64,28.74C661.06,29.09 659.52,29.72 659,30C658.48,30.28 657.5,30.8 657.15,31.15C656.8,31.5 655.99,32.56 656,33C656.01,33.44 657,34.42 657.19,34.9C657.39,35.39 657.43,36.7 657.64,37.18C657.85,37.66 658.5,38.7 659,39C659.5,39.3 661.25,39.71 661.95,39.78C662.65,39.85 664.3,39.56 665.01,39.58C665.72,39.61 667.41,39.79 668,40C668.59,40.21 669.63,41.02 670.1,41.37C670.57,41.72 671.91,42.54 672,43C672.09,43.46 671.24,44.83 670.89,45.29C670.54,45.76 669.44,46.66 669,47C668.56,47.34 667.57,47.98 667.11,48.21C666.64,48.44 665.46,48.75 664.98,48.96C664.5,49.17 663.5,49.77 663,50C662.5,50.23 661.18,50.6 660.71,50.9C660.23,51.19 659.36,52.19 658.93,52.56C658.49,52.92 657.51,53.7 657,54C656.49,54.3 655.12,54.86 654.55,55.14C653.99,55.41 652.69,56.03 652.16,56.36C651.63,56.7 650.46,57.64 650,58C649.54,58.36 648.71,59.26 648.23,59.45C647.74,59.65 646.32,59.47 645.83,59.65C645.33,59.83 644.5,60.66 644,61C643.5,61.34 642.13,62.22 641.54,62.57C640.96,62.92 639.47,63.54 639,64C638.53,64.46 637.82,65.9 637.47,66.48C637.12,67.07 636.44,68.45 636,69C635.56,69.55 634.26,70.75 633.68,71.22C633.09,71.69 631.57,72.65 631,73C630.43,73.35 629.3,73.96 628.76,74.22C628.22,74.47 626.96,74.95 626.4,75.16C625.85,75.37 624.62,75.76 624,76C623.38,76.24 621.78,77 621.08,77.23C620.38,77.47 618.66,77.77 618,78C617.34,78.23 616.1,79.09 615.46,79.19C614.83,79.28 613.18,78.74 612.54,78.83C611.9,78.93 610.61,79.79 610,80C609.39,80.21 607.94,80.45 607.32,80.62C606.71,80.8 605.33,81.35 604.71,81.51C604.09,81.67 602.67,81.97 602,82C601.33,82.03 599.7,81.81 599,81.81C598.3,81.81 596.7,82.1 596,82C595.3,81.9 593.72,81.16 593.02,80.93C592.32,80.69 590.7,80.21 590,80C589.3,79.79 587.76,79.25 587.06,79.13C586.36,79.01 584.66,79.12 584,79C583.34,78.88 582.02,78.25 581.4,78.13C580.78,78.01 579.34,78.01 578.71,78C578.08,77.98 576.63,78.04 576,78C575.37,77.96 573.96,77.64 573.33,77.64C572.71,77.64 571.29,77.96 570.67,78C570.04,78.04 568.66,77.77 568,78C567.34,78.23 565.23,79.53 565,80C564.77,80.47 565.68,81.45 566,82C566.32,82.55 567.24,84.15 567.7,84.74C568.17,85.32 569.51,86.55 570,87C570.49,87.45 571.48,88.22 571.94,88.57C572.41,88.92 573.55,89.67 574,90C574.45,90.33 575.33,91.17 575.81,91.37C576.3,91.57 577.66,91.52 578.14,91.71C578.63,91.9 579.5,92.98 580,93C580.5,93.02 581.87,92.12 582.45,91.89C583.04,91.65 584.53,90.87 585,91C585.47,91.13 586.14,92.54 586.49,93.01C586.84,93.47 587.57,94.65 588,95C588.43,95.35 589.72,95.74 590.21,96.02C590.69,96.3 591.73,97.06 592.18,97.4C592.62,97.75 593.44,98.86 594,99C594.56,99.14 596.31,98.69 597.01,98.57C597.71,98.46 599.4,97.85 600,98C600.6,98.15 601.69,99.38 602.15,99.85C602.62,100.31 603.5,101.67 604,102C604.5,102.33 605.88,102.55 606.47,102.66C607.05,102.78 608.35,103.08 609,103C609.65,102.92 611.42,102.04 612,102C612.58,101.96 613.49,102.56 613.96,102.67C614.42,102.79 615.59,103.11 616,103C616.41,102.89 617.11,101.99 617.46,101.7C617.81,101.4 618.53,100.73 619,100.5C619.47,100.27 620.91,99.9 621.49,99.73C622.08,99.55 623.45,99.2 624,99C624.55,98.8 625.67,98.07 626.22,97.98C626.77,97.9 628.17,98.33 628.73,98.28C629.28,98.22 630.45,97.72 631,97.5C631.55,97.28 632.88,96.63 633.46,96.4C634.04,96.17 635.47,95.75 636,95.5C636.53,95.25 637.55,94.56 638.01,94.27C638.48,93.98 639.58,93.42 640,93C640.42,92.58 641.19,91.12 641.66,90.66C642.12,90.19 643.4,89.31 644,89C644.6,88.69 646.2,88.32 646.78,87.97C647.36,87.62 648.45,86.34 649,86C649.55,85.66 650.94,85.3 651.53,85.06C652.11,84.83 653.36,84.07 654,84C654.64,83.93 656.31,84.35 657.01,84.46C657.71,84.58 659.34,85.02 660,85C660.66,84.98 662.04,84.47 662.66,84.31C663.28,84.16 664.71,83.83 665.34,83.67C665.96,83.52 667.38,83.15 668,83C668.62,82.85 670,82.39 670.63,82.37C671.26,82.35 672.77,82.86 673.39,82.81C674.02,82.77 675.39,82.1 676,82C676.61,81.9 678,82.04 678.58,81.92C679.17,81.81 680.63,81.45 681,81C681.37,80.55 681.63,78.74 681.75,78.04C681.87,77.34 681.77,75.57 682,75C682.23,74.43 683.25,73.47 683.71,73.12C684.18,72.77 685.41,72.32 686,72C686.59,71.68 688.22,70.85 688.8,70.38C689.39,69.91 690.47,68.54 691,68C691.53,67.46 692.86,66.34 693.32,65.76C693.79,65.18 694.68,63.61 695,63C695.32,62.39 695.86,61.12 696.09,60.54C696.33,59.95 697.02,58.58 697,58C696.98,57.42 696.11,56.13 695.88,55.55C695.65,54.96 695.29,53.57 695,53C694.71,52.43 693.85,51.09 693.38,50.62C692.91,50.15 691.43,49.4 691,49C690.57,48.6 689.93,47.62 689.69,47.15C689.46,46.69 689.11,45.55 689,45C688.89,44.45 688.83,43.04 688.71,42.46C688.59,41.87 687.89,40.57 688,40C688.11,39.43 689.27,38.15 689.62,37.57C689.97,36.99 690.61,35.56 691,35C691.39,34.44 692.59,33.35 692.94,32.77C693.29,32.18 693.7,30.65 694,30C694.3,29.35 695.28,27.87 695.51,27.17C695.74,26.47 695.9,24.72 696,24C696.1,23.28 696.37,21.7 696.37,21C696.37,20.3 696.27,18.55 696,18C695.73,17.45 694.44,16.77 694.09,16.31C693.74,15.84 693.41,14.41 693,14C692.59,13.59 691.15,13.07 690.57,12.83C689.98,12.6 688.65,12.07 688,12C687.35,11.93 685.66,12.14 684.96,12.26C684.26,12.38 682.55,13.12 682,13C681.45,12.88 680.68,11.56 680.21,11.21C679.75,10.86 678.3,10.44 678,10C677.7,9.56 677.78,8.05 677.67,7.47C677.55,6.88 677.31,5.28 677,5C676.69,4.72 675.47,5.06 675,5.06C674.53,5.06 673.58,4.77 673,5Z" fill="#92D050" stroke="#92D050" stroke-width="1.4" stroke-linejoin="round"/>
<path d="M677,4C677.2,3.53 678.97,3.2 679.56,2.92C680.14,2.64 681.4,1.76 682,1.6C682.6,1.44 684.05,1.5 684.68,1.52C685.3,1.54 686.72,1.74 687.34,1.8C687.96,1.86 689.4,1.74 690,2C690.6,2.26 691.9,3.55 692.48,4.02C693.07,4.49 694.61,5.47 695,6C695.39,6.53 695.56,8.05 695.87,8.6C696.18,9.15 697.25,10.18 697.62,10.69C697.99,11.21 698.67,12.51 699,13C699.33,13.49 700.11,14.44 700.46,14.87C700.81,15.3 701.59,16.3 702,16.67C702.41,17.03 703.41,17.73 704,18C704.59,18.27 706.31,18.72 707.01,18.96C707.71,19.19 709.4,19.79 710,20C710.6,20.21 711.64,20.54 712.14,20.72C712.63,20.9 713.78,21.26 714.23,21.53C714.69,21.8 715.57,22.7 716,23C716.43,23.3 717.49,23.84 717.94,24.12C718.39,24.39 719.35,25.13 719.82,25.35C720.3,25.57 721.45,25.75 722,26C722.55,26.25 723.95,27.1 724.53,27.45C725.11,27.8 726.4,28.96 727,29C727.6,29.04 729.08,28.13 729.67,27.78C730.25,27.43 731.53,26.4 732,26C732.47,25.6 733.37,24.82 733.72,24.39C734.07,23.96 734.6,22.71 734.99,22.32C735.37,21.92 736.54,21.06 737,21C737.46,20.94 738.45,21.72 738.91,21.84C739.38,21.96 740.73,21.67 741,22C741.27,22.33 741.18,24.04 741.2,24.67C741.22,25.29 741.11,26.73 741.16,27.35C741.21,27.97 741.68,29.35 741.6,30C741.52,30.65 740.65,32.21 740.47,32.91C740.28,33.61 740.14,35.37 740,36C739.86,36.63 739.42,37.77 739.27,38.32C739.12,38.86 738.84,40.13 738.7,40.67C738.55,41.22 738.35,42.53 738,43C737.65,43.47 736.17,44.24 735.7,44.7C735.24,45.17 734.19,46.45 734,47C733.81,47.55 734.17,48.85 734.11,49.4C734.05,49.94 733.6,51.15 733.47,51.69C733.34,52.22 733.31,53.52 733,54C732.69,54.48 731.28,55.35 730.82,55.82C730.35,56.28 729.3,57.5 729,58C728.7,58.5 728.49,59.66 728.26,60.13C728.03,60.6 727.31,61.57 727.05,62.03C726.79,62.48 726.35,63.47 726,64C725.65,64.53 724.54,65.97 724.07,66.55C723.6,67.14 722.58,68.57 722,69C721.42,69.43 719.78,70.01 719.08,70.25C718.38,70.48 716.68,70.71 716,71C715.32,71.29 713.86,72.25 713.27,72.72C712.69,73.18 711.6,74.55 711,75C710.4,75.45 708.75,76.12 708.17,76.59C707.59,77.05 706.46,78.55 706,79C705.54,79.45 704.69,80.22 704.22,80.44C703.75,80.66 702.43,80.7 701.94,80.88C701.45,81.06 700.49,81.65 700,82C699.51,82.35 698.29,83.49 697.7,83.84C697.12,84.19 695.49,84.6 695,85C694.51,85.4 693.75,86.72 693.52,87.31C693.29,87.89 693.41,89.92 693,90C692.59,90.08 690.25,88.52 690,88C689.75,87.48 690.75,86.16 690.87,85.57C690.99,84.99 691.21,83.48 691,83C690.79,82.52 689.53,81.77 689.06,81.42C688.59,81.07 687.48,80.15 687,80C686.52,79.85 685.37,80.02 684.91,80.13C684.44,80.25 683.57,81.13 683,81C682.43,80.87 680.26,79.48 680,79C679.74,78.52 680.55,77.36 680.78,76.89C681.01,76.42 681.63,75.4 682,75C682.37,74.6 683.51,73.82 683.98,73.47C684.45,73.12 685.46,72.38 686,72C686.54,71.62 688.06,70.65 688.64,70.18C689.23,69.71 690.51,68.56 691,68C691.49,67.44 692.4,65.97 692.86,65.39C693.33,64.81 694.64,63.57 695,63C695.36,62.43 695.71,61.06 695.94,60.48C696.18,59.89 696.99,58.58 697,58C697.01,57.42 696.26,56.07 696.03,55.49C695.79,54.91 695.39,53.49 695,53C694.61,52.51 693.15,51.78 692.68,51.32C692.22,50.85 691.36,49.48 691,49C690.64,48.52 689.8,47.68 689.57,47.22C689.34,46.75 689.13,45.55 689,45C688.87,44.45 688.55,43.1 688.43,42.51C688.31,41.93 687.84,40.57 688,40C688.16,39.43 689.43,38.25 689.78,37.67C690.13,37.09 690.7,35.61 691,35C691.3,34.39 692.04,33.02 692.39,32.44C692.74,31.85 693.7,30.64 694,30C694.3,29.36 694.71,27.68 694.94,26.98C695.18,26.28 695.9,24.7 696,24C696.1,23.3 695.84,21.7 695.84,21C695.84,20.3 696.11,18.62 696,18C695.89,17.38 695.24,16.17 694.89,15.71C694.54,15.24 693.52,14.31 693,14C692.48,13.69 691.05,13.32 690.46,13.09C689.88,12.86 688.64,12.07 688,12C687.36,11.93 685.7,12.38 685,12.5C684.3,12.61 682.59,13.11 682,13C681.41,12.89 680.4,11.94 679.93,11.59C679.47,11.24 678.24,10.54 678,10C677.76,9.46 677.99,7.64 677.88,6.94C677.76,6.24 676.8,4.47 677,4Z" fill="#5AA5F2" stroke="#5AA5F2" stroke-width="1.4" stroke-linejoin="round"/>
<path d="M609,103C609.32,102.61 611.41,101.99 612,102C612.59,102.01 613.69,102.75 614.1,103.1C614.5,103.45 615.35,104.48 615.5,105C615.65,105.52 615.29,106.96 615.35,107.54C615.41,108.12 615.99,109.42 616,110C616.01,110.58 615.6,111.97 615.42,112.55C615.25,113.14 614.74,114.43 614.5,115C614.26,115.57 613.61,116.87 613.38,117.45C613.15,118.04 612.95,119.59 612.5,120C612.05,120.41 609.95,121.17 609.5,121C609.05,120.83 608.81,119.12 608.64,118.53C608.46,117.95 607.98,116.64 608,116C608.02,115.36 608.72,113.74 608.78,113.04C608.84,112.34 608.46,110.62 608.5,110C608.54,109.38 609.07,108.24 609.16,107.7C609.25,107.16 609.31,105.91 609.29,105.37C609.27,104.82 608.68,103.39 609,103Z" fill="#3FE3F2" stroke="#3FE3F2" stroke-width="1.4" stroke-linejoin="round"/>
<path d="M653,79.7C653.48,79.12 654.68,78.44 655.15,78.01C655.62,77.58 656.5,76.32 657,76C657.5,75.68 658.88,75.38 659.46,75.24C660.04,75.1 661.36,74.91 662,74.8C662.64,74.69 664.29,74.41 664.99,74.31C665.69,74.22 667.43,73.9 668,74C668.57,74.1 669.39,74.98 669.85,75.17C670.32,75.35 671.51,75.56 672,75.6C672.49,75.64 673.56,75.5 674.03,75.54C674.49,75.59 675.53,75.78 676,76C676.47,76.22 677.59,77.07 678.06,77.42C678.53,77.77 679.42,78.58 680,79C680.58,79.42 682.77,80.35 683,81C683.23,81.65 681.99,83.99 682,84.6C682.01,85.21 682.85,85.85 683.08,86.25C683.32,86.65 683.71,87.58 684,88C684.29,88.42 685.22,89.41 685.53,89.88C685.85,90.34 686.76,91.4 686.7,92C686.64,92.6 685.4,94.52 685,95C684.6,95.48 683.62,95.78 683.27,96.09C682.92,96.41 682.37,97.37 682,97.7C681.63,98.03 680.53,98.68 680.06,98.95C679.59,99.22 678.59,99.76 678,100C677.41,100.24 675.57,100.68 675,101C674.43,101.32 673.62,102.36 673.16,102.71C672.69,103.06 671.35,103.6 671,104C670.65,104.4 670.43,105.63 670.2,106.1C669.96,106.57 669.22,107.52 669,108C668.78,108.48 668.58,109.71 668.34,110.17C668.11,110.64 667.31,111.48 667,112C666.69,112.52 666.02,114.02 665.67,114.6C665.32,115.19 664.54,116.72 664,117C663.46,117.28 661.7,117.03 661,117.03C660.3,117.03 658.56,117.18 658,117C657.44,116.82 656.69,115.78 656.24,115.53C655.78,115.28 654.57,115.03 654.07,114.85C653.58,114.67 652.31,114.42 652,114C651.69,113.58 651.44,111.93 651.4,111.28C651.36,110.64 651.7,109.13 651.68,108.48C651.66,107.84 651.27,106.39 651.19,105.76C651.11,105.12 651.02,103.6 651,103C650.98,102.4 651.07,101.16 651.05,100.61C651.02,100.06 650.93,98.8 650.8,98.27C650.68,97.73 650.11,96.58 650,96C649.89,95.42 649.85,93.96 649.9,93.33C649.96,92.71 650.47,91.29 650.48,90.67C650.49,90.04 650.02,88.61 650,88C649.98,87.39 650.21,86.05 650.32,85.46C650.44,84.88 650.69,83.67 651,83C651.31,82.33 652.52,80.28 653,79.7Z" fill="#BFBFBF" stroke="#BFBFBF" stroke-width="1.4" stroke-linejoin="round"/>
<path d="M644,90C644.48,89.93 645.9,90.36 646.48,90.42C647.07,90.47 648.44,90.4 649,90.5C649.56,90.6 650.82,91 651.28,91.29C651.75,91.59 652.76,92.49 653,93C653.24,93.51 653.14,95.05 653.31,95.63C653.49,96.21 654.33,97.43 654.5,98C654.67,98.57 654.73,99.91 654.79,100.5C654.85,101.08 655.07,102.42 655,103C654.93,103.58 654.29,104.85 654.18,105.44C654.06,106.02 654.07,107.47 654,108C653.93,108.53 653.68,109.55 653.57,110.02C653.45,110.48 653.1,111.48 653,112C652.9,112.52 652.74,113.91 652.68,114.49C652.62,115.08 652.61,116.42 652.5,117C652.39,117.58 651.84,118.86 651.73,119.45C651.61,120.03 651.67,121.53 651.5,122C651.33,122.47 650.56,123.16 650.27,123.51C649.97,123.86 649.5,124.76 649,125C648.5,125.24 646.58,125.57 646,125.6C645.42,125.63 644.48,125.31 644.01,125.24C643.54,125.17 642.58,125.14 642,125C641.42,124.86 639.44,124.4 639,124C638.56,123.6 638.34,122.14 638.22,121.56C638.1,120.97 638.05,119.59 638,119C637.95,118.41 637.86,117.08 637.8,116.49C637.74,115.91 637.58,114.58 637.5,114C637.42,113.42 637.15,112.1 637.09,111.52C637.03,110.93 636.99,109.59 637,109C637.01,108.41 637.18,107.07 637.14,106.48C637.11,105.9 636.65,104.51 636.7,104C636.75,103.49 637.52,102.57 637.62,102.1C637.71,101.64 637.37,100.46 637.5,100C637.63,99.54 638.53,98.64 638.71,98.17C638.88,97.71 638.87,96.47 639,96C639.13,95.53 639.56,94.54 639.79,94.13C640.03,93.72 640.7,92.86 641,92.5C641.3,92.14 641.98,91.34 642.33,91.05C642.68,90.76 643.52,90.07 644,90Z" fill="#FF0A0A" stroke="#FF0A0A" stroke-width="1.4" stroke-linejoin="round"/>
<path d="M664,105C664.37,104.68 665.62,104.4 666.08,104.17C666.55,103.93 667.55,103.24 668,103C668.45,102.76 669.45,102.27 669.91,102.15C670.38,102.03 671.4,102.02 672,102C672.6,101.98 674.39,102.13 675.09,102.02C675.79,101.9 677.37,101.13 678,101C678.63,100.87 679.92,100.86 680.5,100.86C681.08,100.86 682.49,101.12 683,101C683.51,100.88 684.44,100.04 684.9,99.8C685.37,99.57 686.41,99.21 687,99C687.59,98.79 689.36,98.14 690,98C690.64,97.86 691.92,97.77 692.5,97.77C693.08,97.77 694.49,97.87 695,98C695.51,98.13 696.44,98.76 696.9,98.88C697.37,99 698.52,98.75 699,99C699.48,99.25 700.88,100.53 701,101C701.12,101.47 700.47,102.53 700,103C699.53,103.47 697.7,104.53 697,105C696.3,105.47 694.58,106.42 694,107C693.42,107.58 692.35,109.42 692,110C691.65,110.58 691.35,111.42 691,112C690.65,112.58 689.47,114.42 689,115C688.53,115.58 687.43,116.61 687,117C686.57,117.39 685.66,117.96 685.31,118.31C684.96,118.66 684.36,119.61 684,120C683.64,120.39 682.73,121.38 682.26,121.67C681.8,121.96 680.53,122.34 680,122.5C679.47,122.66 678.23,122.79 677.76,123.02C677.29,123.25 676.43,124.25 676,124.5C675.57,124.75 674.52,125.11 674.05,125.17C673.59,125.22 672.54,125.02 672,125C671.46,124.98 669.99,125.08 669.41,124.97C668.82,124.85 667.42,124.38 667,124C666.58,123.62 666.2,122.21 665.85,121.74C665.5,121.27 664.26,120.45 664,120C663.74,119.55 663.79,118.33 663.62,117.86C663.44,117.4 662.69,116.57 662.5,116C662.31,115.43 661.99,113.58 662,113C662.01,112.42 662.56,111.51 662.61,111.05C662.67,110.58 662.47,109.49 662.5,109C662.53,108.51 662.73,107.34 662.91,106.87C663.08,106.4 663.63,105.32 664,105Z" fill="#FFFF00" stroke="#FFFF00" stroke-width="1.4" stroke-linejoin="round"/>
<path d="M639,124C639.23,123.9 641.42,124.81 642,125C642.58,125.19 643.49,125.54 643.95,125.61C644.42,125.68 645.41,125.67 646,125.6C646.59,125.53 648.47,125.21 649,125C649.53,124.79 650.29,124.12 650.58,123.77C650.87,123.42 651.31,122.5 651.5,122C651.69,121.5 652.03,120.07 652.2,119.49C652.38,118.9 652.73,117.44 653,117C653.27,116.56 654.23,116.05 654.53,115.7C654.84,115.35 655.08,114.14 655.6,114C656.12,113.86 658.25,114.21 659,114.5C659.75,114.79 661.42,115.97 662,116.5C662.58,117.03 663.53,118.42 664,119C664.47,119.58 665.53,120.92 666,121.5C666.47,122.08 667.68,123.36 668,124C668.32,124.64 668.82,126.42 668.7,127C668.58,127.58 667.32,128.53 667,129C666.68,129.47 666,130.42 666,131C666,131.58 666.88,133.3 667,134C667.12,134.7 667.23,136.42 667,137C666.77,137.58 665.58,138.71 665,139C664.42,139.29 662.58,139.51 662,139.5C661.42,139.49 660.5,138.99 660.03,138.87C659.57,138.76 658.52,138.72 658,138.5C657.48,138.28 656.09,137.26 655.6,137C655.11,136.74 654.2,136.47 653.78,136.3C653.36,136.12 652.56,135.79 652,135.5C651.44,135.21 649.57,134.13 649,133.8C648.43,133.47 647.58,132.86 647.11,132.65C646.64,132.44 645.54,132.25 645,132C644.46,131.75 643.08,130.97 642.5,130.5C641.92,130.03 640.29,128.54 640,128C639.71,127.46 640.15,126.33 640.03,125.87C639.91,125.4 638.77,124.1 639,124Z" fill="#636363" stroke="#636363" stroke-width="1.4" stroke-linejoin="round"/>
<path d="M667,129C667.26,128.36 668.42,126.58 669,126C669.58,125.42 671.44,124.41 672,124C672.56,123.59 673.35,122.75 673.82,122.46C674.29,122.17 675.53,121.74 676,121.5C676.47,121.26 677.41,120.6 677.88,120.43C678.35,120.25 679.53,120.15 680,120C680.47,119.85 681.44,119.26 681.91,119.14C682.38,119.02 683.52,119.06 684,119C684.48,118.94 685.56,118.71 686.02,118.59C686.49,118.48 687.42,117.84 688,118C688.58,118.16 690.42,119.53 691,120C691.58,120.47 692.58,121.57 693,122C693.42,122.43 694.24,123.26 694.59,123.67C694.94,124.08 695.68,125.11 696,125.5C696.32,125.89 697.12,126.64 697.35,127.05C697.58,127.46 697.69,128.42 698,129C698.31,129.58 699.53,131.3 700,132C700.47,132.7 701.67,134.38 702,135C702.33,135.62 702.59,136.8 702.82,137.33C703.05,137.85 703.74,138.99 704,139.5C704.26,140.01 704.81,141.21 705.04,141.73C705.27,142.26 705.83,143.5 706,144C706.17,144.5 706.41,145.53 706.53,145.99C706.65,146.46 707,147.53 707,148C707,148.47 706.57,149.53 706.57,150C706.57,150.47 707.15,151.55 707,152C706.85,152.45 705.62,153.36 705.27,153.82C704.92,154.29 704.41,155.52 704,156C703.59,156.48 702.33,157.56 701.75,157.91C701.16,158.26 699.67,158.99 699,159C698.33,159.01 696.66,158.11 696,158C695.34,157.89 693.93,158.1 693.3,158.1C692.67,158.1 691.34,158.13 690.6,158C689.87,157.87 687.65,157.33 687,157C686.35,156.67 685.51,155.53 685.01,155.14C684.51,154.76 683.23,154.07 682.7,153.7C682.17,153.33 681.01,152.31 680.46,151.94C679.91,151.56 678.53,150.73 678,150.5C677.47,150.27 676.4,150.1 675.94,149.92C675.47,149.75 674.45,149.25 674,149C673.55,148.75 672.59,147.99 672.12,147.76C671.65,147.53 670.48,147.32 670,147C669.52,146.68 668.35,145.58 668,145C667.65,144.42 667.23,142.76 667,142C666.77,141.24 666.1,139.18 666,138.5C665.9,137.82 666.02,136.69 666.14,136.17C666.26,135.64 666.93,134.54 667,134C667.07,133.46 666.74,132.08 666.74,131.5C666.74,130.92 666.74,129.64 667,129Z" fill="#14A24B" stroke="#14A24B" stroke-width="1.4" stroke-linejoin="round"/>
<path d="M687,157C687.48,156.77 689.87,157.86 690.6,158C691.34,158.14 692.67,158.17 693.3,158.17C693.93,158.17 695.34,157.9 696,158C696.66,158.1 698.34,159.03 699,159C699.66,158.97 701.08,158.13 701.67,157.78C702.25,157.43 703.45,156.21 704,156C704.55,155.79 706.18,155.77 706.4,156C706.62,156.23 705.98,157.52 705.87,157.98C705.77,158.45 705.6,159.41 705.5,160C705.4,160.59 705.23,162.24 705,163C704.77,163.76 703.85,165.74 703.5,166.5C703.15,167.26 702.3,168.95 702,169.5C701.7,170.05 701.2,170.82 700.97,171.23C700.74,171.64 700.29,172.44 700,173C699.71,173.56 698.86,175.47 698.5,176C698.14,176.53 697.24,177.12 696.94,177.53C696.65,177.94 696.34,178.98 696,179.5C695.66,180.02 694.38,181.53 694,182C693.62,182.47 693.1,183.26 692.75,183.55C692.4,183.84 691.51,184.17 691,184.5C690.49,184.83 688.98,185.99 688.4,186.4C687.82,186.81 686.52,187.74 686,188C685.48,188.26 684.23,188.77 683.9,188.6C683.57,188.43 683.4,186.97 683.14,186.55C682.87,186.13 682.08,185.41 681.6,185C681.12,184.59 679.6,183.47 679,183C678.4,182.53 676.73,181.58 676.5,181C676.27,180.42 676.83,178.7 677,178C677.17,177.3 677.77,175.76 678,175C678.23,174.24 678.71,172.27 679,171.5C679.29,170.73 680.09,169.1 680.5,168.4C680.91,167.7 681.98,166.16 682.5,165.5C683.02,164.84 684.53,163.34 685,162.7C685.47,162.06 686.27,160.66 686.5,160C686.73,159.34 686.52,157.23 687,157Z" fill="#0AA838" stroke="#0AA838" stroke-width="1.4" stroke-linejoin="round"/>
<path d="M633,147C633.02,146.51 634.35,145.25 634.77,144.73C635.19,144.2 636.24,143.08 636.6,142.5C636.96,141.92 637.6,140.43 637.88,139.78C638.16,139.14 638.7,137.55 639,137C639.3,136.45 640.21,135.54 640.46,135.05C640.71,134.55 640.97,133.26 641.15,132.73C641.33,132.2 641.55,130.59 642,130.5C642.45,130.41 644.39,131.77 645,132C645.61,132.23 646.72,132.27 647.19,132.48C647.66,132.69 648.44,133.45 649,133.8C649.56,134.15 651.45,135.19 652,135.5C652.55,135.81 653.3,136.26 653.72,136.44C654.14,136.61 655.1,136.76 655.6,137C656.1,137.24 657.48,138.28 658,138.5C658.52,138.72 659.56,138.76 660.03,138.88C660.5,138.99 661.42,139.49 662,139.5C662.58,139.51 664.42,138.71 665,139C665.58,139.29 666.65,141.3 667,142C667.35,142.7 667.65,144.42 668,145C668.35,145.58 669.55,146.61 670,147C670.45,147.39 671.35,148.14 671.82,148.37C672.28,148.6 673.51,148.63 674,149C674.49,149.37 676.01,151.17 676,151.5C675.99,151.83 674.42,151.68 673.95,151.8C673.48,151.91 672.58,152.28 672,152.5C671.42,152.72 669.63,153.45 669,153.7C668.37,153.95 667.15,154.47 666.57,154.63C665.99,154.78 664.52,154.85 664,155C663.48,155.15 662.57,155.81 662.11,155.92C661.64,156.04 660.54,155.99 660,156C659.46,156.01 658.08,156.04 657.5,156.04C656.92,156.04 655.52,156 655,156C654.48,156 653.47,156.06 653,156.06C652.53,156.06 651.51,156.12 651,156C650.49,155.88 649.17,155.19 648.59,155.07C648,154.95 646.55,155.03 646,155C645.45,154.97 644.31,154.97 643.85,154.82C643.38,154.67 642.57,153.74 642,153.7C641.43,153.66 639.63,154.29 639,154.5C638.37,154.71 636.94,155.64 636.6,155.5C636.26,155.36 636.11,153.81 636.04,153.28C635.97,152.76 636.16,151.51 636,151C635.84,150.49 634.99,149.36 634.64,148.89C634.29,148.43 632.98,147.49 633,147Z" fill="#77ACF2" stroke="#77ACF2" stroke-width="1.4" stroke-linejoin="round"/>
<path d="M569,135.7C569.58,135.43 570.93,135.66 571.51,135.7C572.09,135.73 573.41,135.94 574,136C574.59,136.06 575.97,136.14 576.55,136.25C577.13,136.37 578.42,136.85 579,137C579.58,137.15 580.91,137.39 581.5,137.51C582.08,137.63 583.42,137.88 584,138C584.58,138.12 585.92,138.52 586.5,138.52C587.08,138.52 588.36,138.29 589,138C589.64,137.71 591.3,136.4 592,136C592.7,135.6 594.41,134.72 595,134.6C595.59,134.48 596.56,134.83 597.02,134.94C597.49,135.04 598.48,135.33 599,135.5C599.52,135.67 600.86,136.25 601.45,136.43C602.03,136.6 603.35,136.7 604,137C604.65,137.3 606.22,138.65 607,139C607.78,139.35 610.01,139.9 610.7,140C611.39,140.1 612.39,139.81 612.89,139.87C613.4,139.93 614.49,140.34 615,140.5C615.51,140.66 616.75,141.2 617.3,141.26C617.84,141.32 619.16,141 619.7,141C620.24,141 621.41,141.12 621.91,141.24C622.41,141.35 623.54,141.83 624,142C624.46,142.17 625.44,142.48 625.86,142.67C626.28,142.85 627.12,143.33 627.6,143.6C628.08,143.87 629.37,144.6 630,145C630.63,145.4 632.48,146.53 633,147C633.52,147.47 634.09,148.58 634.44,149.04C634.79,149.51 635.75,150.46 636,151C636.25,151.54 636.53,153 636.6,153.7C636.67,154.4 636.73,156.21 636.6,157C636.47,157.79 635.88,159.98 635.5,160.5C635.12,161.02 633.88,161.37 633.36,161.48C632.83,161.6 631.67,161.49 631,161.5C630.33,161.51 628.31,161.7 627.6,161.6C626.89,161.5 625.54,160.75 624.88,160.62C624.23,160.5 622.63,160.34 622,160.5C621.37,160.66 620.02,161.6 619.5,162C618.98,162.4 618.08,163.55 617.5,163.9C616.92,164.25 615.15,164.75 614.5,165C613.85,165.25 612.54,166.06 611.9,166C611.26,165.94 609.69,164.75 609,164.5C608.31,164.25 606.58,163.72 606,163.9C605.42,164.08 604.36,165.47 604,166C603.64,166.53 603.13,167.82 602.9,168.4C602.67,168.98 602.14,170.35 602,171C601.86,171.65 602.05,173.47 601.7,174C601.35,174.53 599.66,175.27 599,175.5C598.34,175.73 596.58,175.82 596,176C595.42,176.18 594.51,176.71 594,177C593.49,177.29 592.18,178.62 591.6,178.5C591.02,178.38 589.54,176.53 589,176C588.46,175.47 587.52,174.53 587,174C586.48,173.47 585.01,172.03 584.5,171.5C583.99,170.97 583.12,170.03 582.6,169.5C582.08,168.97 580.54,167.53 580,167C579.46,166.47 578.52,165.53 578,165C577.48,164.47 576.01,163.03 575.5,162.5C574.99,161.97 574.01,161.14 573.6,160.5C573.19,159.86 572.26,157.79 572,157C571.74,156.21 571.46,154.52 571.4,153.7C571.34,152.88 571.37,150.78 571.5,150C571.63,149.22 572.62,147.7 572.5,147C572.38,146.3 571.02,144.65 570.5,144C569.98,143.35 568.47,142.1 568,141.4C567.53,140.7 566.38,138.66 566.5,138C566.62,137.34 568.42,135.97 569,135.7Z" fill="#1F80EC" stroke="#1F80EC" stroke-width="1.4" stroke-linejoin="round"/>
<path d="M573.6,161.6C574.08,161.44 574.99,162.1 575.5,162.5C576.01,162.9 577.48,164.47 578,165C578.52,165.53 579.46,166.47 580,167C580.54,167.53 582.08,168.97 582.6,169.5C583.12,170.03 583.99,170.97 584.5,171.5C585.01,172.03 586.48,173.47 587,174C587.52,174.53 588.46,175.47 589,176C589.54,176.53 591.02,178.38 591.6,178.5C592.18,178.62 593.49,177.29 594,177C594.51,176.71 595.42,176.18 596,176C596.58,175.82 598.34,175.62 599,175.5C599.66,175.38 601.23,174.82 601.7,175C602.17,175.18 602.73,176.46 603,177C603.27,177.54 603.83,179.02 604,179.6C604.17,180.18 604.38,181.37 604.5,182C604.62,182.63 604.8,184.46 605,185C605.2,185.54 605.84,186.33 606.19,186.62C606.54,186.91 607.47,187.14 608,187.5C608.53,187.86 610.23,189.12 610.7,189.7C611.17,190.28 611.73,191.84 612,192.5C612.27,193.16 613.17,194.9 613,195.4C612.83,195.9 611.02,196.54 610.5,196.8C609.98,197.06 609.08,197.42 608.5,197.6C607.92,197.78 606.15,198.17 605.5,198.3C604.85,198.43 603.48,198.73 602.9,198.7C602.32,198.66 601.02,198.13 600.5,198C599.98,197.87 598.87,197.42 598.4,197.6C597.93,197.78 596.9,199.1 596.5,199.5C596.1,199.9 595.37,200.71 595,201C594.63,201.29 593.7,201.77 593.3,202C592.9,202.23 591.93,202.59 591.6,203C591.27,203.41 590.76,204.95 590.5,205.5C590.24,206.05 589.75,207.47 589.4,207.7C589.05,207.93 587.9,207.63 587.5,207.5C587.1,207.37 586.33,206.89 586,206.6C585.67,206.31 584.97,205.42 584.7,205C584.43,204.58 584.1,203.06 583.7,203C583.3,202.94 581.85,204.21 581.3,204.5C580.75,204.79 579.38,205.68 579,205.5C578.62,205.32 578.23,203.53 578,203C577.77,202.47 577.32,201.31 577,201C576.68,200.69 575.7,200.43 575.3,200.3C574.9,200.17 573.87,200.23 573.6,199.9C573.33,199.57 573.13,198.03 573,197.5C572.87,196.97 572.82,195.77 572.5,195.4C572.18,195.03 570.82,194.58 570.3,194.3C569.77,194.02 568.5,193.38 568,193C567.5,192.62 566.4,191.51 566,191C565.6,190.49 564.66,189.24 564.6,188.6C564.54,187.96 565.23,186.15 565.5,185.5C565.77,184.85 566.49,183.49 566.9,183C567.31,182.51 568.48,181.7 569,181.3C569.52,180.9 571.19,180.1 571.4,179.6C571.61,179.1 570.96,177.65 570.8,177C570.64,176.35 570.15,174.7 570,174C569.85,173.3 569.62,171.65 569.5,171C569.38,170.35 568.94,168.98 569,168.4C569.06,167.82 569.72,166.53 570,166C570.28,165.47 570.98,164.41 571.4,163.9C571.82,163.39 573.12,161.76 573.6,161.6Z" fill="#17489B" stroke="#17489B" stroke-width="1.4" stroke-linejoin="round"/>
<path d="M617.5,163.9C618.08,163.49 618.98,162.34 619.5,162C620.02,161.66 621.36,161.08 622,161C622.64,160.92 624.35,161.18 625,161.3C625.65,161.42 626.9,161.82 627.6,162C628.3,162.18 630.21,162.58 631,162.8C631.79,163.02 633.84,163.53 634.4,163.9C634.96,164.27 635.54,165.47 635.8,166C636.06,166.53 636.54,167.7 636.6,168.4C636.66,169.1 636.43,171.23 636.3,172C636.17,172.77 635.83,174.36 635.5,175C635.17,175.64 634.02,176.96 633.5,177.5C632.98,178.04 631.64,179.19 631,179.6C630.36,180.01 628.65,180.73 628,181C627.35,181.27 626.04,181.67 625.4,181.9C624.76,182.13 623.16,182.75 622.5,183C621.84,183.25 620.31,183.67 619.7,184C619.09,184.33 617.85,185.39 617.3,185.8C616.75,186.21 615.5,187.21 615,187.5C614.5,187.79 613.5,188.17 613,188.3C612.5,188.43 611.28,188.72 610.7,188.6C610.12,188.48 608.57,187.72 608,187.3C607.43,186.88 606.17,185.58 605.8,185C605.43,184.42 605.01,182.93 604.8,182.3C604.59,181.67 604.21,180.22 604,179.6C603.79,178.98 603.23,177.57 603,177C602.77,176.43 602.08,175.34 602,174.7C601.92,174.06 602.18,172.23 602.3,171.5C602.42,170.77 602.74,169.04 603,168.4C603.26,167.76 604.07,166.51 604.5,166C604.93,165.49 606.14,164.14 606.7,164C607.26,163.86 608.69,164.5 609.3,164.8C609.91,165.1 611.29,166.52 611.9,166.6C612.51,166.68 613.85,165.81 614.5,165.5C615.15,165.19 616.92,164.31 617.5,163.9Z" fill="#CFEAAE" stroke="#CFEAAE" stroke-width="1.4" stroke-linejoin="round"/>
<path d="M615,187.5C615.53,187.2 616.75,186.21 617.3,185.8C617.85,185.39 619.09,184.33 619.7,184C620.31,183.67 621.84,183.25 622.5,183C623.16,182.75 624.76,182.13 625.4,181.9C626.04,181.67 627.35,181.27 628,181C628.65,180.73 630.38,179.8 631,179.6C631.62,179.4 632.82,179.44 633.35,179.29C633.87,179.13 635,178.53 635.5,178.3C636,178.07 637.12,177.45 637.65,177.35C638.17,177.24 639.32,177.5 640,177.4C640.68,177.3 642.72,176.66 643.5,176.5C644.28,176.34 646.12,175.71 646.7,176C647.28,176.29 648.12,178.31 648.5,179C648.88,179.69 649.59,181.38 650,181.9C650.41,182.43 651.46,183.14 652,183.5C652.54,183.86 654.19,184.56 654.6,185C655.01,185.44 655.37,186.75 655.5,187.3C655.63,187.85 655.93,189.15 655.7,189.7C655.47,190.25 654.05,191.5 653.5,192C652.95,192.5 651.52,193.56 651,194C650.48,194.44 649.5,195.38 649,195.8C648.5,196.22 647.17,197.13 646.7,197.6C646.23,198.07 645.38,199.29 645,199.8C644.62,200.31 643.92,201.58 643.4,202C642.88,202.42 641.16,203.12 640.5,203.4C639.84,203.68 638.42,204.26 637.7,204.4C636.98,204.54 635.08,204.6 634.3,204.6C633.52,204.6 631.74,204.54 631,204.4C630.26,204.26 628.65,203.68 628,203.4C627.35,203.12 626.04,202.34 625.4,202C624.76,201.66 623.16,200.88 622.5,200.5C621.84,200.12 620.37,199.05 619.7,198.7C619.04,198.35 617.46,197.81 616.8,197.5C616.13,197.19 614.52,196.53 614,196C613.48,195.47 612.65,193.7 612.3,193C611.95,192.3 610.95,190.54 611,190C611.05,189.46 612.3,188.67 612.77,188.38C613.24,188.09 614.47,187.8 615,187.5Z" fill="#B1D1F7" stroke="#B1D1F7" stroke-width="1.4" stroke-linejoin="round"/>
<path d="M636.6,156C636.88,155.43 638.37,154.77 639,154.5C639.63,154.23 641.42,153.71 642,153.7C642.58,153.69 643.51,154.28 643.97,154.44C644.44,154.59 645.48,154.85 646,155C646.52,155.15 647.87,155.6 648.46,155.72C649.04,155.83 650.47,155.94 651,156C651.53,156.06 652.53,156.22 653,156.22C653.47,156.22 654.48,155.97 655,156C655.52,156.03 656.92,156.51 657.5,156.51C658.08,156.51 659.48,156.13 660,156C660.52,155.87 661.51,155.52 661.98,155.41C662.44,155.29 663.47,155.11 664,155C664.53,154.89 665.94,154.59 666.52,154.43C667.11,154.28 668.36,153.93 669,153.7C669.64,153.47 671.43,152.75 672,152.5C672.57,152.25 673.41,151.64 673.88,151.52C674.35,151.4 675.4,151.41 676,151.5C676.6,151.59 678.45,152.09 679,152.3C679.55,152.51 680.32,153.1 680.75,153.27C681.18,153.43 682.2,153.5 682.7,153.7C683.2,153.9 684.5,154.62 685,155C685.5,155.38 686.83,156.42 687,157C687.17,157.58 686.73,159.34 686.5,160C686.27,160.66 685.47,162.06 685,162.7C684.53,163.34 683.02,164.84 682.5,165.5C681.98,166.16 680.91,167.7 680.5,168.4C680.09,169.1 679.29,170.73 679,171.5C678.71,172.27 678.23,174.24 678,175C677.77,175.76 677.23,177.34 677,178C676.77,178.66 676.38,180.17 676,180.7C675.62,181.22 674.23,182.12 673.7,182.5C673.18,182.88 672.11,183.94 671.5,184C670.89,184.06 669.15,183.25 668.5,183C667.85,182.75 666.54,182.13 665.9,181.9C665.26,181.67 663.69,181.14 663,181C662.31,180.86 660.7,180.55 660,180.7C659.3,180.85 657.63,181.92 657,182.3C656.37,182.69 655.18,183.88 654.6,184C654.02,184.12 652.54,183.55 652,183.3C651.46,183.06 650.43,182.4 650,181.9C649.57,181.4 648.68,179.69 648.3,179C647.91,178.31 647.28,176.31 646.7,176C646.12,175.69 644.08,176.22 643.3,176.3C642.52,176.38 640.64,176.73 640,176.7C639.36,176.66 638.27,176.2 637.8,176C637.33,175.8 636.15,175.53 636,175C635.85,174.47 636.39,172.27 636.5,171.5C636.61,170.73 636.96,169.1 636.9,168.4C636.84,167.7 636.22,166.13 636,165.5C635.78,164.87 635.02,163.53 635,163C634.98,162.47 635.61,161.42 635.8,161C635.99,160.58 636.51,159.98 636.6,159.4C636.69,158.82 636.32,156.57 636.6,156Z" fill="#7030A0" stroke="#7030A0" stroke-width="1.4" stroke-linejoin="round"/>
<path d="M654.6,185C654.77,184.44 656.37,183 657,182.5C657.63,182 659.3,180.88 660,180.7C660.7,180.52 662.31,180.86 663,181C663.69,181.14 665.26,181.67 665.9,181.9C666.54,182.13 667.85,182.75 668.5,183C669.15,183.25 670.89,183.98 671.5,184C672.11,184.02 673.18,183.44 673.7,183.2C674.23,182.95 675.38,181.89 676,181.9C676.62,181.91 678.35,182.94 679,183.3C679.65,183.66 681.13,184.53 681.6,185C682.07,185.47 682.73,186.75 683,187.3C683.27,187.85 684.04,189.21 683.9,189.7C683.76,190.19 682.32,191.12 681.8,191.5C681.27,191.88 680.08,192.67 679.4,193C678.72,193.33 676.79,194.02 676,194.3C675.21,194.58 673.32,195.14 672.6,195.4C671.88,195.66 670.45,196.24 669.8,196.5C669.15,196.76 667.68,197.33 667,197.6C666.32,197.87 664.65,198.53 664,198.8C663.35,199.07 662.04,199.64 661.4,199.9C660.76,200.16 659.16,200.75 658.5,201C657.84,201.25 656.37,201.74 655.7,202C655.04,202.26 653.46,202.92 652.8,203.2C652.13,203.48 650.6,204.13 650,204.4C649.4,204.67 648.21,205.24 647.7,205.5C647.19,205.76 645.97,206.27 645.6,206.6C645.23,206.93 644.76,207.84 644.5,208.3C644.24,208.76 643.72,210.3 643.4,210.5C643.08,210.7 642.08,210.19 641.8,210C641.52,209.81 641.06,209.31 641,208.9C640.94,208.49 641.15,207.03 641.3,206.5C641.45,205.97 642.05,204.83 642.3,204.4C642.55,203.97 643.24,203.2 643.48,202.8C643.71,202.41 643.92,201.56 644.3,201C644.68,200.44 646.15,198.58 646.7,198C647.25,197.42 648.5,196.47 649,196C649.5,195.53 650.48,194.47 651,194C651.52,193.53 652.95,192.5 653.5,192C654.05,191.5 655.47,190.25 655.7,189.7C655.93,189.15 655.63,187.85 655.5,187.3C655.37,186.75 654.43,185.56 654.6,185Z" fill="#7F7F7F" stroke="#7F7F7F" stroke-width="1.4" stroke-linejoin="round"/>
<path d="M636,216C636.42,215.53 637.63,215.67 638.09,215.5C638.56,215.32 639.49,214.62 640,214.5C640.51,214.38 641.92,214.45 642.5,214.45C643.08,214.45 644.48,214.42 645,214.5C645.52,214.58 646.57,214.87 646.98,215.1C647.39,215.33 648.3,216.1 648.5,216.5C648.7,216.9 648.71,218.08 648.65,218.55C648.6,219.02 648.27,220.06 648,220.5C647.73,220.94 646.67,221.9 646.32,222.36C645.97,222.83 645.39,224.11 645,224.5C644.61,224.89 643.44,225.42 642.97,225.71C642.51,226 641.47,226.82 641,227C640.53,227.18 639.4,227.32 638.94,227.26C638.47,227.21 637.42,226.73 637,226.5C636.58,226.27 635.67,225.66 635.38,225.31C635.08,224.96 634.62,223.94 634.5,223.5C634.38,223.06 634.38,221.97 634.38,221.5C634.38,221.03 634.31,220.14 634.5,219.5C634.69,218.86 635.58,216.47 636,216Z" fill="#ffffff" stroke="#8f8f8f" stroke-width="0.7" stroke-linejoin="round"/>
<path d="M710.5,173C711.08,172.94 712.65,173.65 713,174C713.35,174.35 713.39,175.52 713.48,175.98C713.58,176.45 713.79,177.47 713.8,178C713.81,178.53 713.61,179.92 713.54,180.5C713.47,181.09 713.33,182.39 713.2,183C713.07,183.61 712.52,185.06 712.38,185.7C712.24,186.34 712.09,187.88 712,188.5C711.91,189.12 711.69,190.43 711.58,191.02C711.46,191.6 711.21,193.04 711,193.5C710.79,193.96 710.17,195.18 709.8,195C709.43,194.82 708.11,192.67 707.8,192C707.49,191.33 707.41,189.86 707.14,189.27C706.87,188.69 705.69,187.57 705.5,187C705.31,186.43 705.61,184.98 705.5,184.4C705.38,183.82 704.57,182.59 704.5,182C704.43,181.41 704.68,179.97 704.86,179.38C705.03,178.8 705.63,177.57 706,177C706.37,176.43 707.48,174.97 708,174.5C708.52,174.03 709.92,173.06 710.5,173Z" fill="#ffffff" stroke="#8f8f8f" stroke-width="0.7" stroke-linejoin="round"/>
<path d="M523,33.6C523.58,33.72 525.44,34.63 526,35C526.56,35.37 527.41,36.34 527.76,36.81C528.11,37.27 528.54,38.54 529,39C529.46,39.46 531.13,40.27 531.71,40.73C532.3,41.2 533.54,42.41 534,43C534.46,43.59 535.22,45.17 535.69,45.75C536.16,46.33 537.64,47.45 538,48C538.36,48.55 538.62,49.91 538.81,50.5C538.99,51.08 539.69,52.45 539.6,53C539.51,53.55 538.48,54.76 538.06,55.23C537.64,55.7 536.1,56.58 536,57C535.9,57.42 536.85,58.45 537.2,58.8C537.55,59.15 538.52,59.85 539,60C539.48,60.15 540.82,59.96 541.34,60.11C541.86,60.26 542.92,61.15 543.44,61.26C543.97,61.38 545.31,61.02 545.84,61.11C546.37,61.19 547.49,61.71 548,62C548.51,62.29 549.63,63.3 550.17,63.62C550.71,63.94 552.05,64.48 552.62,64.76C553.18,65.03 554.52,65.71 555,66C555.48,66.29 556.38,66.92 556.73,67.27C557.08,67.62 557.71,68.54 558,69C558.29,69.46 558.84,70.77 559.19,71.23C559.54,71.7 560.69,72.51 561,73C561.31,73.49 561.77,74.85 561.84,75.44C561.91,76.02 561.84,77.53 561.6,78C561.36,78.47 560.22,79.15 559.8,79.5C559.38,79.85 558.43,80.69 558,81C557.57,81.31 556.55,81.94 556.07,82.14C555.59,82.35 554.36,82.55 553.88,82.76C553.41,82.98 552.45,83.67 552,84C551.55,84.33 550.52,85.22 550.05,85.57C549.59,85.92 548.37,86.55 548,87C547.63,87.45 547.11,88.87 546.87,89.45C546.64,90.03 546.04,91.47 546,92C545.96,92.53 546.4,93.53 546.52,94C546.63,94.46 547.23,95.63 547,96C546.77,96.37 545.15,96.93 544.57,97.16C543.98,97.4 542.59,97.83 542,98C541.41,98.17 540.11,98.54 539.53,98.65C538.94,98.75 537.57,98.81 536.98,98.92C536.4,99.03 535.09,99.43 534.51,99.56C533.93,99.69 532.45,99.7 532,100C531.55,100.3 530.97,101.62 530.62,102.09C530.27,102.56 529.12,103.41 529,104C528.88,104.59 529.39,106.42 529.63,107.12C529.86,107.82 531.11,109.45 531,110C530.89,110.55 529.3,111.5 528.71,111.85C528.13,112.2 526.61,112.92 526,113C525.39,113.08 524.07,112.67 523.49,112.55C522.91,112.43 521.56,112.28 521,112C520.44,111.72 519.27,110.53 518.69,110.18C518.11,109.83 516.66,109 516,109C515.34,109 513.76,109.94 513.06,110.18C512.36,110.41 510.69,110.73 510,111C509.31,111.27 507.87,112.27 507.17,112.51C506.47,112.74 504.71,113.03 504,113C503.29,112.97 501.75,112.34 501.05,112.22C500.35,112.11 498.69,111.87 498,112C497.31,112.13 495.81,113.08 495.11,113.32C494.41,113.55 492.71,114.01 492,114C491.29,113.99 489.75,113.33 489.05,113.21C488.35,113.1 486.71,112.98 486,113C485.29,113.02 483.68,113.26 482.98,113.38C482.28,113.5 480.61,114.07 480,114C479.39,113.93 478.3,113.02 477.76,112.77C477.22,112.53 475.94,112.1 475.38,111.89C474.82,111.68 473.6,111.23 473,111C472.4,110.77 470.82,110.29 470.24,109.94C469.65,109.59 468.55,108.27 468,108C467.45,107.73 466.08,107.62 465.5,107.62C464.92,107.62 463.61,108.09 463,108C462.39,107.91 460.85,107.23 460.27,106.88C459.69,106.53 458.55,105.35 458,105C457.45,104.65 456.13,104.11 455.55,103.87C454.97,103.64 453.49,103.37 453,103C452.51,102.63 451.79,101.14 451.33,100.67C450.86,100.21 449.35,99.45 449,99C448.65,98.55 448.55,97.31 448.31,96.84C448.08,96.38 447.5,95.29 447,95C446.5,94.71 444.16,94.75 444,94.4C443.84,94.05 445.18,92.55 445.6,92.04C446.02,91.53 447.45,90.49 447.6,90C447.75,89.51 447.09,88.34 446.86,87.87C446.62,87.4 445.85,86.51 445.6,86C445.35,85.49 444.88,84.12 444.7,83.53C444.51,82.95 443.88,81.51 444,81C444.12,80.49 445.37,79.63 445.72,79.16C446.07,78.7 446.58,77.32 447,77C447.42,76.68 448.74,76.43 449.3,76.42C449.85,76.4 451.2,76.92 451.74,76.87C452.29,76.83 453.38,76.11 454,76C454.62,75.89 456.38,76.07 457.08,75.95C457.78,75.83 459.31,75.27 460,75C460.69,74.73 462.3,73.77 463,73.6C463.7,73.43 465.31,73.6 466.01,73.55C466.71,73.49 468.3,73.21 469,73.14C469.7,73.08 471.35,73.15 472,73C472.65,72.85 473.92,71.99 474.54,71.83C475.16,71.67 476.69,71.73 477.33,71.64C477.96,71.54 479.47,71.27 480,71C480.53,70.73 481.55,69.77 481.9,69.3C482.25,68.84 482.72,67.52 483,67C483.28,66.48 484.13,65.37 484.34,64.81C484.54,64.26 484.56,62.79 484.75,62.23C484.95,61.67 486,60.54 486,60C486,59.46 485.02,58.17 484.79,57.58C484.56,57 483.81,55.4 484,55C484.19,54.6 485.85,54.28 486.43,54.16C487.02,54.04 488.41,54.04 489,54C489.59,53.96 490.93,53.98 491.47,53.81C492.01,53.63 493.1,52.74 493.63,52.53C494.16,52.32 495.66,52.32 496,52C496.34,51.68 496.36,50.26 496.55,49.77C496.74,49.29 497.36,48.26 497.64,47.82C497.93,47.38 498.6,46.31 499,46C499.4,45.69 500.63,45.42 501.09,45.18C501.56,44.95 502.47,44.14 503,44C503.53,43.86 505.01,43.9 505.6,44.01C506.18,44.13 507.45,44.99 508,45C508.55,45.01 509.81,44.4 510.3,44.12C510.79,43.85 511.77,43 512.2,42.64C512.64,42.28 513.56,41.54 514,41C514.44,40.46 515.53,38.38 516,38C516.47,37.62 517.58,37.82 518.05,37.7C518.52,37.59 519.66,37.43 520,37C520.34,36.57 520.65,34.4 521,34C521.35,33.6 522.42,33.48 523,33.6Z" fill="none" stroke="#B00008" stroke-width="0.45" stroke-linejoin="round" opacity="0.8"/>
<path d="M561,78C561.47,77.99 563.19,79.19 563.77,79.66C564.36,80.13 565.47,81.46 566,82C566.53,82.54 567.85,83.66 568.32,84.24C568.79,84.83 569.54,86.55 570,87C570.46,87.45 571.84,87.75 572.3,88.1C572.77,88.45 573.57,89.67 574,90C574.43,90.33 575.57,90.7 576.02,90.96C576.47,91.23 577.4,92.03 577.86,92.27C578.33,92.51 579.45,93.01 580,93C580.55,92.99 581.98,92.4 582.57,92.16C583.15,91.93 584.5,90.93 585,91C585.5,91.07 586.5,92.27 586.85,92.74C587.2,93.21 587.65,94.56 588,95C588.35,95.44 589.43,96.18 589.87,96.53C590.3,96.89 591.26,97.77 591.74,98.05C592.22,98.34 593.38,98.91 594,99C594.62,99.09 596.35,98.93 597.05,98.82C597.75,98.7 599.39,97.9 600,98C600.61,98.1 601.85,99.22 602.32,99.68C602.78,100.15 603.51,101.67 604,102C604.49,102.33 605.92,102.39 606.5,102.5C607.08,102.62 608.36,103.06 609,103C609.64,102.94 611.41,102.07 612,102C612.59,101.93 613.55,102.32 614.01,102.44C614.48,102.56 615.63,103.12 616,103C616.37,102.88 616.87,101.7 617.22,101.41C617.57,101.12 618.49,100.65 619,100.5C619.51,100.35 621.03,100.32 621.62,100.14C622.2,99.97 623.45,99.18 624,99C624.55,98.82 625.81,98.73 626.35,98.57C626.88,98.41 628.04,97.74 628.58,97.62C629.13,97.49 630.41,97.58 631,97.5C631.59,97.42 633.08,97.14 633.66,96.91C634.25,96.67 635.62,95.41 636,95.5C636.38,95.59 636.72,97.18 636.89,97.7C637.07,98.23 637.44,99.5 637.5,100C637.56,100.5 637.44,101.55 637.38,102.02C637.32,102.48 637,103.48 637,104C637,104.52 637.3,105.91 637.36,106.49C637.41,107.07 637.49,108.4 637.48,108.99C637.47,109.57 637.27,110.92 637.27,111.51C637.27,112.09 637.4,113.42 637.5,114C637.6,114.58 638.06,115.88 638.15,116.46C638.25,117.04 638.28,118.4 638.31,118.99C638.35,119.58 638.39,120.94 638.47,121.52C638.55,122.11 638.82,123.48 639,124C639.18,124.52 639.77,125.53 640.02,125.99C640.26,126.45 640.88,127.48 641.11,127.94C641.35,128.41 642.05,129.5 642,130C641.95,130.5 640.92,131.66 640.68,132.2C640.45,132.74 640.15,134.09 639.96,134.65C639.76,135.21 639.29,136.44 639,137C638.71,137.56 637.81,138.89 637.46,139.47C637.11,140.06 636.33,141.4 636,142C635.67,142.6 634.98,143.99 634.63,144.58C634.28,145.16 633.47,146.96 633,147C632.53,147.04 631.19,145.28 630.56,144.89C629.93,144.49 628.23,143.91 627.6,143.6C626.97,143.29 625.74,142.44 625.14,142.21C624.53,141.98 623.05,141.76 622.42,141.62C621.78,141.48 620.37,141.12 619.7,141C619.03,140.88 617.41,140.61 616.71,140.55C616.01,140.48 614.39,140.48 613.69,140.42C612.99,140.36 611.33,140.12 610.7,140C610.07,139.88 608.82,139.6 608.29,139.4C607.75,139.2 606.61,138.56 606.11,138.28C605.61,138 604.51,137.21 604,137C603.49,136.79 602.26,136.61 601.72,136.52C601.18,136.42 599.93,136.31 599.4,136.19C598.87,136.07 597.68,135.68 597.17,135.49C596.66,135.31 595.47,134.54 595,134.6C594.53,134.66 593.62,135.73 593.16,136.02C592.71,136.32 591.62,136.88 591.14,137.11C590.65,137.34 589.54,137.9 589,138C588.46,138.1 587.07,137.98 586.48,137.95C585.89,137.91 584.56,137.8 583.98,137.72C583.4,137.64 582.08,137.33 581.5,137.25C580.92,137.17 579.58,137.1 579,137C578.42,136.9 577.12,136.44 576.54,136.39C575.95,136.35 574.56,136.6 573.97,136.58C573.38,136.57 572.05,136.37 571.47,136.26C570.89,136.16 569.41,135.43 569,135.7C568.59,135.97 568.27,137.97 567.92,138.59C567.57,139.2 566.57,140.84 566,141C565.43,141.16 563.65,140.09 563,140C562.35,139.91 561.03,140.13 560.45,140.25C559.87,140.37 558.62,140.98 558,141C557.38,141.02 555.81,140.62 555.17,140.43C554.54,140.23 553.15,139.6 552.55,139.32C551.94,139.04 550.59,138.32 550,138C549.41,137.68 548.11,136.81 547.49,136.58C546.87,136.34 545.31,136.17 544.67,135.99C544.03,135.81 542.64,135.13 542,135C541.36,134.87 539.83,134.99 539.21,134.84C538.59,134.68 537.28,133.85 536.67,133.64C536.07,133.43 534.62,133.17 534,133C533.38,132.83 532,132.31 531.38,132.14C530.76,131.97 529.33,131.65 528.7,131.52C528.08,131.38 526.57,131.34 526,131C525.43,130.66 524.39,129.08 523.81,128.62C523.22,128.15 521.19,127.44 521,127C520.81,126.56 521.96,125.34 522.16,124.81C522.35,124.27 522.55,122.98 522.64,122.42C522.74,121.86 522.81,120.56 523,120C523.19,119.44 524.06,118.2 524.29,117.62C524.53,117.03 524.72,115.58 525,115C525.28,114.42 526.35,113.2 526.7,112.62C527.05,112.04 527.78,110.65 528,110C528.22,109.35 528.44,107.71 528.55,107.01C528.67,106.31 528.78,104.59 529,104C529.22,103.41 530.12,102.45 530.47,101.98C530.82,101.51 531.52,100.26 532,100C532.48,99.74 533.97,99.9 534.56,99.79C535.14,99.67 536.43,99.16 537,99.01C537.58,98.85 538.91,98.58 539.49,98.46C540.08,98.35 541.42,98.19 542,98C542.58,97.81 543.85,97.07 544.44,96.84C545.02,96.61 546.75,96.33 547,96C547.25,95.67 546.68,94.45 546.57,93.98C546.45,93.52 545.93,92.51 546,92C546.07,91.49 546.95,90.16 547.18,89.57C547.41,88.99 547.68,87.48 548,87C548.32,86.52 549.47,85.77 549.94,85.42C550.41,85.07 551.53,84.29 552,84C552.47,83.71 553.51,83.19 553.95,82.9C554.39,82.61 555.28,81.73 555.76,81.51C556.23,81.29 557.54,81.21 558,81C558.46,80.79 559.36,80.06 559.71,79.71C560.06,79.36 560.53,78.01 561,78Z" fill="none" stroke="#E0A000" stroke-width="0.45" stroke-linejoin="round" opacity="0.8"/>
<path d="M673,5C672.42,5.23 670.11,6.6 670,7C669.89,7.4 671.62,8.04 672.08,8.39C672.55,8.74 673.92,9.59 674,10C674.08,10.41 673.04,11.44 672.78,11.89C672.51,12.34 671.93,13.38 671.72,13.86C671.51,14.34 671.18,15.39 671,16C670.82,16.61 670.45,18.37 670.22,19.07C669.99,19.77 669.33,21.46 669,22C668.67,22.54 667.8,23.36 667.39,23.72C666.98,24.09 665.88,24.77 665.48,25.15C665.09,25.53 664.45,26.58 664,27C663.55,27.42 662.23,28.39 661.64,28.74C661.06,29.09 659.52,29.72 659,30C658.48,30.28 657.5,30.8 657.15,31.15C656.8,31.5 655.99,32.56 656,33C656.01,33.44 657,34.42 657.19,34.9C657.39,35.39 657.43,36.7 657.64,37.18C657.85,37.66 658.5,38.7 659,39C659.5,39.3 661.25,39.71 661.95,39.78C662.65,39.85 664.3,39.56 665.01,39.58C665.72,39.61 667.41,39.79 668,40C668.59,40.21 669.63,41.02 670.1,41.37C670.57,41.72 671.91,42.54 672,43C672.09,43.46 671.24,44.83 670.89,45.29C670.54,45.76 669.44,46.66 669,47C668.56,47.34 667.57,47.98 667.11,48.21C666.64,48.44 665.46,48.75 664.98,48.96C664.5,49.17 663.5,49.77 663,50C662.5,50.23 661.18,50.6 660.71,50.9C660.23,51.19 659.36,52.19 658.93,52.56C658.49,52.92 657.51,53.7 657,54C656.49,54.3 655.12,54.86 654.55,55.14C653.99,55.41 652.69,56.03 652.16,56.36C651.63,56.7 650.46,57.64 650,58C649.54,58.36 648.71,59.26 648.23,59.45C647.74,59.65 646.32,59.47 645.83,59.65C645.33,59.83 644.5,60.66 644,61C643.5,61.34 642.13,62.22 641.54,62.57C640.96,62.92 639.47,63.54 639,64C638.53,64.46 637.82,65.9 637.47,66.48C637.12,67.07 636.44,68.45 636,69C635.56,69.55 634.26,70.75 633.68,71.22C633.09,71.69 631.57,72.65 631,73C630.43,73.35 629.3,73.96 628.76,74.22C628.22,74.47 626.96,74.95 626.4,75.16C625.85,75.37 624.62,75.76 624,76C623.38,76.24 621.78,77 621.08,77.23C620.38,77.47 618.66,77.77 618,78C617.34,78.23 616.1,79.09 615.46,79.19C614.83,79.28 613.18,78.74 612.54,78.83C611.9,78.93 610.61,79.79 610,80C609.39,80.21 607.94,80.45 607.32,80.62C606.71,80.8 605.33,81.35 604.71,81.51C604.09,81.67 602.67,81.97 602,82C601.33,82.03 599.7,81.81 599,81.81C598.3,81.81 596.7,82.1 596,82C595.3,81.9 593.72,81.16 593.02,80.93C592.32,80.69 590.7,80.21 590,80C589.3,79.79 587.76,79.25 587.06,79.13C586.36,79.01 584.66,79.12 584,79C583.34,78.88 582.02,78.25 581.4,78.13C580.78,78.01 579.34,78.01 578.71,78C578.08,77.98 576.63,78.04 576,78C575.37,77.96 573.96,77.64 573.33,77.64C572.71,77.64 571.29,77.96 570.67,78C570.04,78.04 568.66,77.77 568,78C567.34,78.23 565.23,79.53 565,80C564.77,80.47 565.68,81.45 566,82C566.32,82.55 567.24,84.15 567.7,84.74C568.17,85.32 569.51,86.55 570,87C570.49,87.45 571.48,88.22 571.94,88.57C572.41,88.92 573.55,89.67 574,90C574.45,90.33 575.33,91.17 575.81,91.37C576.3,91.57 577.66,91.52 578.14,91.71C578.63,91.9 579.5,92.98 580,93C580.5,93.02 581.87,92.12 582.45,91.89C583.04,91.65 584.53,90.87 585,91C585.47,91.13 586.14,92.54 586.49,93.01C586.84,93.47 587.57,94.65 588,95C588.43,95.35 589.72,95.74 590.21,96.02C590.69,96.3 591.73,97.06 592.18,97.4C592.62,97.75 593.44,98.86 594,99C594.56,99.14 596.31,98.69 597.01,98.57C597.71,98.46 599.4,97.85 600,98C600.6,98.15 601.69,99.38 602.15,99.85C602.62,100.31 603.5,101.67 604,102C604.5,102.33 605.88,102.55 606.47,102.66C607.05,102.78 608.35,103.08 609,103C609.65,102.92 611.42,102.04 612,102C612.58,101.96 613.49,102.56 613.96,102.67C614.42,102.79 615.59,103.11 616,103C616.41,102.89 617.11,101.99 617.46,101.7C617.81,101.4 618.53,100.73 619,100.5C619.47,100.27 620.91,99.9 621.49,99.73C622.08,99.55 623.45,99.2 624,99C624.55,98.8 625.67,98.07 626.22,97.98C626.77,97.9 628.17,98.33 628.73,98.28C629.28,98.22 630.45,97.72 631,97.5C631.55,97.28 632.88,96.63 633.46,96.4C634.04,96.17 635.47,95.75 636,95.5C636.53,95.25 637.55,94.56 638.01,94.27C638.48,93.98 639.58,93.42 640,93C640.42,92.58 641.19,91.12 641.66,90.66C642.12,90.19 643.4,89.31 644,89C644.6,88.69 646.2,88.32 646.78,87.97C647.36,87.62 648.45,86.34 649,86C649.55,85.66 650.94,85.3 651.53,85.06C652.11,84.83 653.36,84.07 654,84C654.64,83.93 656.31,84.35 657.01,84.46C657.71,84.58 659.34,85.02 660,85C660.66,84.98 662.04,84.47 662.66,84.31C663.28,84.16 664.71,83.83 665.34,83.67C665.96,83.52 667.38,83.15 668,83C668.62,82.85 670,82.39 670.63,82.37C671.26,82.35 672.77,82.86 673.39,82.81C674.02,82.77 675.39,82.1 676,82C676.61,81.9 678,82.04 678.58,81.92C679.17,81.81 680.63,81.45 681,81C681.37,80.55 681.63,78.74 681.75,78.04C681.87,77.34 681.77,75.57 682,75C682.23,74.43 683.25,73.47 683.71,73.12C684.18,72.77 685.41,72.32 686,72C686.59,71.68 688.22,70.85 688.8,70.38C689.39,69.91 690.47,68.54 691,68C691.53,67.46 692.86,66.34 693.32,65.76C693.79,65.18 694.68,63.61 695,63C695.32,62.39 695.86,61.12 696.09,60.54C696.33,59.95 697.02,58.58 697,58C696.98,57.42 696.11,56.13 695.88,55.55C695.65,54.96 695.29,53.57 695,53C694.71,52.43 693.85,51.09 693.38,50.62C692.91,50.15 691.43,49.4 691,49C690.57,48.6 689.93,47.62 689.69,47.15C689.46,46.69 689.11,45.55 689,45C688.89,44.45 688.83,43.04 688.71,42.46C688.59,41.87 687.89,40.57 688,40C688.11,39.43 689.27,38.15 689.62,37.57C689.97,36.99 690.61,35.56 691,35C691.39,34.44 692.59,33.35 692.94,32.77C693.29,32.18 693.7,30.65 694,30C694.3,29.35 695.28,27.87 695.51,27.17C695.74,26.47 695.9,24.72 696,24C696.1,23.28 696.37,21.7 696.37,21C696.37,20.3 696.27,18.55 696,18C695.73,17.45 694.44,16.77 694.09,16.31C693.74,15.84 693.41,14.41 693,14C692.59,13.59 691.15,13.07 690.57,12.83C689.98,12.6 688.65,12.07 688,12C687.35,11.93 685.66,12.14 684.96,12.26C684.26,12.38 682.55,13.12 682,13C681.45,12.88 680.68,11.56 680.21,11.21C679.75,10.86 678.3,10.44 678,10C677.7,9.56 677.78,8.05 677.67,7.47C677.55,6.88 677.31,5.28 677,5C676.69,4.72 675.47,5.06 675,5.06C674.53,5.06 673.58,4.77 673,5Z" fill="none" stroke="#7DBB3C" stroke-width="0.45" stroke-linejoin="round" opacity="0.8"/>
<path d="M677,4C677.2,3.53 678.97,3.2 679.56,2.92C680.14,2.64 681.4,1.76 682,1.6C682.6,1.44 684.05,1.5 684.68,1.52C685.3,1.54 686.72,1.74 687.34,1.8C687.96,1.86 689.4,1.74 690,2C690.6,2.26 691.9,3.55 692.48,4.02C693.07,4.49 694.61,5.47 695,6C695.39,6.53 695.56,8.05 695.87,8.6C696.18,9.15 697.25,10.18 697.62,10.69C697.99,11.21 698.67,12.51 699,13C699.33,13.49 700.11,14.44 700.46,14.87C700.81,15.3 701.59,16.3 702,16.67C702.41,17.03 703.41,17.73 704,18C704.59,18.27 706.31,18.72 707.01,18.96C707.71,19.19 709.4,19.79 710,20C710.6,20.21 711.64,20.54 712.14,20.72C712.63,20.9 713.78,21.26 714.23,21.53C714.69,21.8 715.57,22.7 716,23C716.43,23.3 717.49,23.84 717.94,24.12C718.39,24.39 719.35,25.13 719.82,25.35C720.3,25.57 721.45,25.75 722,26C722.55,26.25 723.95,27.1 724.53,27.45C725.11,27.8 726.4,28.96 727,29C727.6,29.04 729.08,28.13 729.67,27.78C730.25,27.43 731.53,26.4 732,26C732.47,25.6 733.37,24.82 733.72,24.39C734.07,23.96 734.6,22.71 734.99,22.32C735.37,21.92 736.54,21.06 737,21C737.46,20.94 738.45,21.72 738.91,21.84C739.38,21.96 740.73,21.67 741,22C741.27,22.33 741.18,24.04 741.2,24.67C741.22,25.29 741.11,26.73 741.16,27.35C741.21,27.97 741.68,29.35 741.6,30C741.52,30.65 740.65,32.21 740.47,32.91C740.28,33.61 740.14,35.37 740,36C739.86,36.63 739.42,37.77 739.27,38.32C739.12,38.86 738.84,40.13 738.7,40.67C738.55,41.22 738.35,42.53 738,43C737.65,43.47 736.17,44.24 735.7,44.7C735.24,45.17 734.19,46.45 734,47C733.81,47.55 734.17,48.85 734.11,49.4C734.05,49.94 733.6,51.15 733.47,51.69C733.34,52.22 733.31,53.52 733,54C732.69,54.48 731.28,55.35 730.82,55.82C730.35,56.28 729.3,57.5 729,58C728.7,58.5 728.49,59.66 728.26,60.13C728.03,60.6 727.31,61.57 727.05,62.03C726.79,62.48 726.35,63.47 726,64C725.65,64.53 724.54,65.97 724.07,66.55C723.6,67.14 722.58,68.57 722,69C721.42,69.43 719.78,70.01 719.08,70.25C718.38,70.48 716.68,70.71 716,71C715.32,71.29 713.86,72.25 713.27,72.72C712.69,73.18 711.6,74.55 711,75C710.4,75.45 708.75,76.12 708.17,76.59C707.59,77.05 706.46,78.55 706,79C705.54,79.45 704.69,80.22 704.22,80.44C703.75,80.66 702.43,80.7 701.94,80.88C701.45,81.06 700.49,81.65 700,82C699.51,82.35 698.29,83.49 697.7,83.84C697.12,84.19 695.49,84.6 695,85C694.51,85.4 693.75,86.72 693.52,87.31C693.29,87.89 693.41,89.92 693,90C692.59,90.08 690.25,88.52 690,88C689.75,87.48 690.75,86.16 690.87,85.57C690.99,84.99 691.21,83.48 691,83C690.79,82.52 689.53,81.77 689.06,81.42C688.59,81.07 687.48,80.15 687,80C686.52,79.85 685.37,80.02 684.91,80.13C684.44,80.25 683.57,81.13 683,81C682.43,80.87 680.26,79.48 680,79C679.74,78.52 680.55,77.36 680.78,76.89C681.01,76.42 681.63,75.4 682,75C682.37,74.6 683.51,73.82 683.98,73.47C684.45,73.12 685.46,72.38 686,72C686.54,71.62 688.06,70.65 688.64,70.18C689.23,69.71 690.51,68.56 691,68C691.49,67.44 692.4,65.97 692.86,65.39C693.33,64.81 694.64,63.57 695,63C695.36,62.43 695.71,61.06 695.94,60.48C696.18,59.89 696.99,58.58 697,58C697.01,57.42 696.26,56.07 696.03,55.49C695.79,54.91 695.39,53.49 695,53C694.61,52.51 693.15,51.78 692.68,51.32C692.22,50.85 691.36,49.48 691,49C690.64,48.52 689.8,47.68 689.57,47.22C689.34,46.75 689.13,45.55 689,45C688.87,44.45 688.55,43.1 688.43,42.51C688.31,41.93 687.84,40.57 688,40C688.16,39.43 689.43,38.25 689.78,37.67C690.13,37.09 690.7,35.61 691,35C691.3,34.39 692.04,33.02 692.39,32.44C692.74,31.85 693.7,30.64 694,30C694.3,29.36 694.71,27.68 694.94,26.98C695.18,26.28 695.9,24.7 696,24C696.1,23.3 695.84,21.7 695.84,21C695.84,20.3 696.11,18.62 696,18C695.89,17.38 695.24,16.17 694.89,15.71C694.54,15.24 693.52,14.31 693,14C692.48,13.69 691.05,13.32 690.46,13.09C689.88,12.86 688.64,12.07 688,12C687.36,11.93 685.7,12.38 685,12.5C684.3,12.61 682.59,13.11 682,13C681.41,12.89 680.4,11.94 679.93,11.59C679.47,11.24 678.24,10.54 678,10C677.76,9.46 677.99,7.64 677.88,6.94C677.76,6.24 676.8,4.47 677,4Z" fill="none" stroke="#4A90DA" stroke-width="0.45" stroke-linejoin="round" opacity="0.8"/>
<path d="M609,103C609.32,102.61 611.41,101.99 612,102C612.59,102.01 613.69,102.75 614.1,103.1C614.5,103.45 615.35,104.48 615.5,105C615.65,105.52 615.29,106.96 615.35,107.54C615.41,108.12 615.99,109.42 616,110C616.01,110.58 615.6,111.97 615.42,112.55C615.25,113.14 614.74,114.43 614.5,115C614.26,115.57 613.61,116.87 613.38,117.45C613.15,118.04 612.95,119.59 612.5,120C612.05,120.41 609.95,121.17 609.5,121C609.05,120.83 608.81,119.12 608.64,118.53C608.46,117.95 607.98,116.64 608,116C608.02,115.36 608.72,113.74 608.78,113.04C608.84,112.34 608.46,110.62 608.5,110C608.54,109.38 609.07,108.24 609.16,107.7C609.25,107.16 609.31,105.91 609.29,105.37C609.27,104.82 608.68,103.39 609,103Z" fill="none" stroke="#30C0D0" stroke-width="0.45" stroke-linejoin="round" opacity="0.8"/>
<path d="M653,79.7C653.48,79.12 654.68,78.44 655.15,78.01C655.62,77.58 656.5,76.32 657,76C657.5,75.68 658.88,75.38 659.46,75.24C660.04,75.1 661.36,74.91 662,74.8C662.64,74.69 664.29,74.41 664.99,74.31C665.69,74.22 667.43,73.9 668,74C668.57,74.1 669.39,74.98 669.85,75.17C670.32,75.35 671.51,75.56 672,75.6C672.49,75.64 673.56,75.5 674.03,75.54C674.49,75.59 675.53,75.78 676,76C676.47,76.22 677.59,77.07 678.06,77.42C678.53,77.77 679.42,78.58 680,79C680.58,79.42 682.77,80.35 683,81C683.23,81.65 681.99,83.99 682,84.6C682.01,85.21 682.85,85.85 683.08,86.25C683.32,86.65 683.71,87.58 684,88C684.29,88.42 685.22,89.41 685.53,89.88C685.85,90.34 686.76,91.4 686.7,92C686.64,92.6 685.4,94.52 685,95C684.6,95.48 683.62,95.78 683.27,96.09C682.92,96.41 682.37,97.37 682,97.7C681.63,98.03 680.53,98.68 680.06,98.95C679.59,99.22 678.59,99.76 678,100C677.41,100.24 675.57,100.68 675,101C674.43,101.32 673.62,102.36 673.16,102.71C672.69,103.06 671.35,103.6 671,104C670.65,104.4 670.43,105.63 670.2,106.1C669.96,106.57 669.22,107.52 669,108C668.78,108.48 668.58,109.71 668.34,110.17C668.11,110.64 667.31,111.48 667,112C666.69,112.52 666.02,114.02 665.67,114.6C665.32,115.19 664.54,116.72 664,117C663.46,117.28 661.7,117.03 661,117.03C660.3,117.03 658.56,117.18 658,117C657.44,116.82 656.69,115.78 656.24,115.53C655.78,115.28 654.57,115.03 654.07,114.85C653.58,114.67 652.31,114.42 652,114C651.69,113.58 651.44,111.93 651.4,111.28C651.36,110.64 651.7,109.13 651.68,108.48C651.66,107.84 651.27,106.39 651.19,105.76C651.11,105.12 651.02,103.6 651,103C650.98,102.4 651.07,101.16 651.05,100.61C651.02,100.06 650.93,98.8 650.8,98.27C650.68,97.73 650.11,96.58 650,96C649.89,95.42 649.85,93.96 649.9,93.33C649.96,92.71 650.47,91.29 650.48,90.67C650.49,90.04 650.02,88.61 650,88C649.98,87.39 650.21,86.05 650.32,85.46C650.44,84.88 650.69,83.67 651,83C651.31,82.33 652.52,80.28 653,79.7Z" fill="none" stroke="#A8A8A8" stroke-width="0.45" stroke-linejoin="round" opacity="0.8"/>
<path d="M644,90C644.48,89.93 645.9,90.36 646.48,90.42C647.07,90.47 648.44,90.4 649,90.5C649.56,90.6 650.82,91 651.28,91.29C651.75,91.59 652.76,92.49 653,93C653.24,93.51 653.14,95.05 653.31,95.63C653.49,96.21 654.33,97.43 654.5,98C654.67,98.57 654.73,99.91 654.79,100.5C654.85,101.08 655.07,102.42 655,103C654.93,103.58 654.29,104.85 654.18,105.44C654.06,106.02 654.07,107.47 654,108C653.93,108.53 653.68,109.55 653.57,110.02C653.45,110.48 653.1,111.48 653,112C652.9,112.52 652.74,113.91 652.68,114.49C652.62,115.08 652.61,116.42 652.5,117C652.39,117.58 651.84,118.86 651.73,119.45C651.61,120.03 651.67,121.53 651.5,122C651.33,122.47 650.56,123.16 650.27,123.51C649.97,123.86 649.5,124.76 649,125C648.5,125.24 646.58,125.57 646,125.6C645.42,125.63 644.48,125.31 644.01,125.24C643.54,125.17 642.58,125.14 642,125C641.42,124.86 639.44,124.4 639,124C638.56,123.6 638.34,122.14 638.22,121.56C638.1,120.97 638.05,119.59 638,119C637.95,118.41 637.86,117.08 637.8,116.49C637.74,115.91 637.58,114.58 637.5,114C637.42,113.42 637.15,112.1 637.09,111.52C637.03,110.93 636.99,109.59 637,109C637.01,108.41 637.18,107.07 637.14,106.48C637.11,105.9 636.65,104.51 636.7,104C636.75,103.49 637.52,102.57 637.62,102.1C637.71,101.64 637.37,100.46 637.5,100C637.63,99.54 638.53,98.64 638.71,98.17C638.88,97.71 638.87,96.47 639,96C639.13,95.53 639.56,94.54 639.79,94.13C640.03,93.72 640.7,92.86 641,92.5C641.3,92.14 641.98,91.34 642.33,91.05C642.68,90.76 643.52,90.07 644,90Z" fill="none" stroke="#E00000" stroke-width="0.45" stroke-linejoin="round" opacity="0.8"/>
<path d="M664,105C664.37,104.68 665.62,104.4 666.08,104.17C666.55,103.93 667.55,103.24 668,103C668.45,102.76 669.45,102.27 669.91,102.15C670.38,102.03 671.4,102.02 672,102C672.6,101.98 674.39,102.13 675.09,102.02C675.79,101.9 677.37,101.13 678,101C678.63,100.87 679.92,100.86 680.5,100.86C681.08,100.86 682.49,101.12 683,101C683.51,100.88 684.44,100.04 684.9,99.8C685.37,99.57 686.41,99.21 687,99C687.59,98.79 689.36,98.14 690,98C690.64,97.86 691.92,97.77 692.5,97.77C693.08,97.77 694.49,97.87 695,98C695.51,98.13 696.44,98.76 696.9,98.88C697.37,99 698.52,98.75 699,99C699.48,99.25 700.88,100.53 701,101C701.12,101.47 700.47,102.53 700,103C699.53,103.47 697.7,104.53 697,105C696.3,105.47 694.58,106.42 694,107C693.42,107.58 692.35,109.42 692,110C691.65,110.58 691.35,111.42 691,112C690.65,112.58 689.47,114.42 689,115C688.53,115.58 687.43,116.61 687,117C686.57,117.39 685.66,117.96 685.31,118.31C684.96,118.66 684.36,119.61 684,120C683.64,120.39 682.73,121.38 682.26,121.67C681.8,121.96 680.53,122.34 680,122.5C679.47,122.66 678.23,122.79 677.76,123.02C677.29,123.25 676.43,124.25 676,124.5C675.57,124.75 674.52,125.11 674.05,125.17C673.59,125.22 672.54,125.02 672,125C671.46,124.98 669.99,125.08 669.41,124.97C668.82,124.85 667.42,124.38 667,124C666.58,123.62 666.2,122.21 665.85,121.74C665.5,121.27 664.26,120.45 664,120C663.74,119.55 663.79,118.33 663.62,117.86C663.44,117.4 662.69,116.57 662.5,116C662.31,115.43 661.99,113.58 662,113C662.01,112.42 662.56,111.51 662.61,111.05C662.67,110.58 662.47,109.49 662.5,109C662.53,108.51 662.73,107.34 662.91,106.87C663.08,106.4 663.63,105.32 664,105Z" fill="none" stroke="#E6E600" stroke-width="0.45" stroke-linejoin="round" opacity="0.8"/>
<path d="M639,124C639.23,123.9 641.42,124.81 642,125C642.58,125.19 643.49,125.54 643.95,125.61C644.42,125.68 645.41,125.67 646,125.6C646.59,125.53 648.47,125.21 649,125C649.53,124.79 650.29,124.12 650.58,123.77C650.87,123.42 651.31,122.5 651.5,122C651.69,121.5 652.03,120.07 652.2,119.49C652.38,118.9 652.73,117.44 653,117C653.27,116.56 654.23,116.05 654.53,115.7C654.84,115.35 655.08,114.14 655.6,114C656.12,113.86 658.25,114.21 659,114.5C659.75,114.79 661.42,115.97 662,116.5C662.58,117.03 663.53,118.42 664,119C664.47,119.58 665.53,120.92 666,121.5C666.47,122.08 667.68,123.36 668,124C668.32,124.64 668.82,126.42 668.7,127C668.58,127.58 667.32,128.53 667,129C666.68,129.47 666,130.42 666,131C666,131.58 666.88,133.3 667,134C667.12,134.7 667.23,136.42 667,137C666.77,137.58 665.58,138.71 665,139C664.42,139.29 662.58,139.51 662,139.5C661.42,139.49 660.5,138.99 660.03,138.87C659.57,138.76 658.52,138.72 658,138.5C657.48,138.28 656.09,137.26 655.6,137C655.11,136.74 654.2,136.47 653.78,136.3C653.36,136.12 652.56,135.79 652,135.5C651.44,135.21 649.57,134.13 649,133.8C648.43,133.47 647.58,132.86 647.11,132.65C646.64,132.44 645.54,132.25 645,132C644.46,131.75 643.08,130.97 642.5,130.5C641.92,130.03 640.29,128.54 640,128C639.71,127.46 640.15,126.33 640.03,125.87C639.91,125.4 638.77,124.1 639,124Z" fill="none" stroke="#555555" stroke-width="0.45" stroke-linejoin="round" opacity="0.8"/>
<path d="M667,129C667.26,128.36 668.42,126.58 669,126C669.58,125.42 671.44,124.41 672,124C672.56,123.59 673.35,122.75 673.82,122.46C674.29,122.17 675.53,121.74 676,121.5C676.47,121.26 677.41,120.6 677.88,120.43C678.35,120.25 679.53,120.15 680,120C680.47,119.85 681.44,119.26 681.91,119.14C682.38,119.02 683.52,119.06 684,119C684.48,118.94 685.56,118.71 686.02,118.59C686.49,118.48 687.42,117.84 688,118C688.58,118.16 690.42,119.53 691,120C691.58,120.47 692.58,121.57 693,122C693.42,122.43 694.24,123.26 694.59,123.67C694.94,124.08 695.68,125.11 696,125.5C696.32,125.89 697.12,126.64 697.35,127.05C697.58,127.46 697.69,128.42 698,129C698.31,129.58 699.53,131.3 700,132C700.47,132.7 701.67,134.38 702,135C702.33,135.62 702.59,136.8 702.82,137.33C703.05,137.85 703.74,138.99 704,139.5C704.26,140.01 704.81,141.21 705.04,141.73C705.27,142.26 705.83,143.5 706,144C706.17,144.5 706.41,145.53 706.53,145.99C706.65,146.46 707,147.53 707,148C707,148.47 706.57,149.53 706.57,150C706.57,150.47 707.15,151.55 707,152C706.85,152.45 705.62,153.36 705.27,153.82C704.92,154.29 704.41,155.52 704,156C703.59,156.48 702.33,157.56 701.75,157.91C701.16,158.26 699.67,158.99 699,159C698.33,159.01 696.66,158.11 696,158C695.34,157.89 693.93,158.1 693.3,158.1C692.67,158.1 691.34,158.13 690.6,158C689.87,157.87 687.65,157.33 687,157C686.35,156.67 685.51,155.53 685.01,155.14C684.51,154.76 683.23,154.07 682.7,153.7C682.17,153.33 681.01,152.31 680.46,151.94C679.91,151.56 678.53,150.73 678,150.5C677.47,150.27 676.4,150.1 675.94,149.92C675.47,149.75 674.45,149.25 674,149C673.55,148.75 672.59,147.99 672.12,147.76C671.65,147.53 670.48,147.32 670,147C669.52,146.68 668.35,145.58 668,145C667.65,144.42 667.23,142.76 667,142C666.77,141.24 666.1,139.18 666,138.5C665.9,137.82 666.02,136.69 666.14,136.17C666.26,135.64 666.93,134.54 667,134C667.07,133.46 666.74,132.08 666.74,131.5C666.74,130.92 666.74,129.64 667,129Z" fill="none" stroke="#0E8C3E" stroke-width="0.45" stroke-linejoin="round" opacity="0.8"/>
<path d="M687,157C687.48,156.77 689.87,157.86 690.6,158C691.34,158.14 692.67,158.17 693.3,158.17C693.93,158.17 695.34,157.9 696,158C696.66,158.1 698.34,159.03 699,159C699.66,158.97 701.08,158.13 701.67,157.78C702.25,157.43 703.45,156.21 704,156C704.55,155.79 706.18,155.77 706.4,156C706.62,156.23 705.98,157.52 705.87,157.98C705.77,158.45 705.6,159.41 705.5,160C705.4,160.59 705.23,162.24 705,163C704.77,163.76 703.85,165.74 703.5,166.5C703.15,167.26 702.3,168.95 702,169.5C701.7,170.05 701.2,170.82 700.97,171.23C700.74,171.64 700.29,172.44 700,173C699.71,173.56 698.86,175.47 698.5,176C698.14,176.53 697.24,177.12 696.94,177.53C696.65,177.94 696.34,178.98 696,179.5C695.66,180.02 694.38,181.53 694,182C693.62,182.47 693.1,183.26 692.75,183.55C692.4,183.84 691.51,184.17 691,184.5C690.49,184.83 688.98,185.99 688.4,186.4C687.82,186.81 686.52,187.74 686,188C685.48,188.26 684.23,188.77 683.9,188.6C683.57,188.43 683.4,186.97 683.14,186.55C682.87,186.13 682.08,185.41 681.6,185C681.12,184.59 679.6,183.47 679,183C678.4,182.53 676.73,181.58 676.5,181C676.27,180.42 676.83,178.7 677,178C677.17,177.3 677.77,175.76 678,175C678.23,174.24 678.71,172.27 679,171.5C679.29,170.73 680.09,169.1 680.5,168.4C680.91,167.7 681.98,166.16 682.5,165.5C683.02,164.84 684.53,163.34 685,162.7C685.47,162.06 686.27,160.66 686.5,160C686.73,159.34 686.52,157.23 687,157Z" fill="none" stroke="#089030" stroke-width="0.45" stroke-linejoin="round" opacity="0.8"/>
<path d="M633,147C633.02,146.51 634.35,145.25 634.77,144.73C635.19,144.2 636.24,143.08 636.6,142.5C636.96,141.92 637.6,140.43 637.88,139.78C638.16,139.14 638.7,137.55 639,137C639.3,136.45 640.21,135.54 640.46,135.05C640.71,134.55 640.97,133.26 641.15,132.73C641.33,132.2 641.55,130.59 642,130.5C642.45,130.41 644.39,131.77 645,132C645.61,132.23 646.72,132.27 647.19,132.48C647.66,132.69 648.44,133.45 649,133.8C649.56,134.15 651.45,135.19 652,135.5C652.55,135.81 653.3,136.26 653.72,136.44C654.14,136.61 655.1,136.76 655.6,137C656.1,137.24 657.48,138.28 658,138.5C658.52,138.72 659.56,138.76 660.03,138.88C660.5,138.99 661.42,139.49 662,139.5C662.58,139.51 664.42,138.71 665,139C665.58,139.29 666.65,141.3 667,142C667.35,142.7 667.65,144.42 668,145C668.35,145.58 669.55,146.61 670,147C670.45,147.39 671.35,148.14 671.82,148.37C672.28,148.6 673.51,148.63 674,149C674.49,149.37 676.01,151.17 676,151.5C675.99,151.83 674.42,151.68 673.95,151.8C673.48,151.91 672.58,152.28 672,152.5C671.42,152.72 669.63,153.45 669,153.7C668.37,153.95 667.15,154.47 666.57,154.63C665.99,154.78 664.52,154.85 664,155C663.48,155.15 662.57,155.81 662.11,155.92C661.64,156.04 660.54,155.99 660,156C659.46,156.01 658.08,156.04 657.5,156.04C656.92,156.04 655.52,156 655,156C654.48,156 653.47,156.06 653,156.06C652.53,156.06 651.51,156.12 651,156C650.49,155.88 649.17,155.19 648.59,155.07C648,154.95 646.55,155.03 646,155C645.45,154.97 644.31,154.97 643.85,154.82C643.38,154.67 642.57,153.74 642,153.7C641.43,153.66 639.63,154.29 639,154.5C638.37,154.71 636.94,155.64 636.6,155.5C636.26,155.36 636.11,153.81 636.04,153.28C635.97,152.76 636.16,151.51 636,151C635.84,150.49 634.99,149.36 634.64,148.89C634.29,148.43 632.98,147.49 633,147Z" fill="none" stroke="#5E96E0" stroke-width="0.45" stroke-linejoin="round" opacity="0.8"/>
<path d="M569,135.7C569.58,135.43 570.93,135.66 571.51,135.7C572.09,135.73 573.41,135.94 574,136C574.59,136.06 575.97,136.14 576.55,136.25C577.13,136.37 578.42,136.85 579,137C579.58,137.15 580.91,137.39 581.5,137.51C582.08,137.63 583.42,137.88 584,138C584.58,138.12 585.92,138.52 586.5,138.52C587.08,138.52 588.36,138.29 589,138C589.64,137.71 591.3,136.4 592,136C592.7,135.6 594.41,134.72 595,134.6C595.59,134.48 596.56,134.83 597.02,134.94C597.49,135.04 598.48,135.33 599,135.5C599.52,135.67 600.86,136.25 601.45,136.43C602.03,136.6 603.35,136.7 604,137C604.65,137.3 606.22,138.65 607,139C607.78,139.35 610.01,139.9 610.7,140C611.39,140.1 612.39,139.81 612.89,139.87C613.4,139.93 614.49,140.34 615,140.5C615.51,140.66 616.75,141.2 617.3,141.26C617.84,141.32 619.16,141 619.7,141C620.24,141 621.41,141.12 621.91,141.24C622.41,141.35 623.54,141.83 624,142C624.46,142.17 625.44,142.48 625.86,142.67C626.28,142.85 627.12,143.33 627.6,143.6C628.08,143.87 629.37,144.6 630,145C630.63,145.4 632.48,146.53 633,147C633.52,147.47 634.09,148.58 634.44,149.04C634.79,149.51 635.75,150.46 636,151C636.25,151.54 636.53,153 636.6,153.7C636.67,154.4 636.73,156.21 636.6,157C636.47,157.79 635.88,159.98 635.5,160.5C635.12,161.02 633.88,161.37 633.36,161.48C632.83,161.6 631.67,161.49 631,161.5C630.33,161.51 628.31,161.7 627.6,161.6C626.89,161.5 625.54,160.75 624.88,160.62C624.23,160.5 622.63,160.34 622,160.5C621.37,160.66 620.02,161.6 619.5,162C618.98,162.4 618.08,163.55 617.5,163.9C616.92,164.25 615.15,164.75 614.5,165C613.85,165.25 612.54,166.06 611.9,166C611.26,165.94 609.69,164.75 609,164.5C608.31,164.25 606.58,163.72 606,163.9C605.42,164.08 604.36,165.47 604,166C603.64,166.53 603.13,167.82 602.9,168.4C602.67,168.98 602.14,170.35 602,171C601.86,171.65 602.05,173.47 601.7,174C601.35,174.53 599.66,175.27 599,175.5C598.34,175.73 596.58,175.82 596,176C595.42,176.18 594.51,176.71 594,177C593.49,177.29 592.18,178.62 591.6,178.5C591.02,178.38 589.54,176.53 589,176C588.46,175.47 587.52,174.53 587,174C586.48,173.47 585.01,172.03 584.5,171.5C583.99,170.97 583.12,170.03 582.6,169.5C582.08,168.97 580.54,167.53 580,167C579.46,166.47 578.52,165.53 578,165C577.48,164.47 576.01,163.03 575.5,162.5C574.99,161.97 574.01,161.14 573.6,160.5C573.19,159.86 572.26,157.79 572,157C571.74,156.21 571.46,154.52 571.4,153.7C571.34,152.88 571.37,150.78 571.5,150C571.63,149.22 572.62,147.7 572.5,147C572.38,146.3 571.02,144.65 570.5,144C569.98,143.35 568.47,142.1 568,141.4C567.53,140.7 566.38,138.66 566.5,138C566.62,137.34 568.42,135.97 569,135.7Z" fill="none" stroke="#176AD0" stroke-width="0.45" stroke-linejoin="round" opacity="0.8"/>
<path d="M573.6,161.6C574.08,161.44 574.99,162.1 575.5,162.5C576.01,162.9 577.48,164.47 578,165C578.52,165.53 579.46,166.47 580,167C580.54,167.53 582.08,168.97 582.6,169.5C583.12,170.03 583.99,170.97 584.5,171.5C585.01,172.03 586.48,173.47 587,174C587.52,174.53 588.46,175.47 589,176C589.54,176.53 591.02,178.38 591.6,178.5C592.18,178.62 593.49,177.29 594,177C594.51,176.71 595.42,176.18 596,176C596.58,175.82 598.34,175.62 599,175.5C599.66,175.38 601.23,174.82 601.7,175C602.17,175.18 602.73,176.46 603,177C603.27,177.54 603.83,179.02 604,179.6C604.17,180.18 604.38,181.37 604.5,182C604.62,182.63 604.8,184.46 605,185C605.2,185.54 605.84,186.33 606.19,186.62C606.54,186.91 607.47,187.14 608,187.5C608.53,187.86 610.23,189.12 610.7,189.7C611.17,190.28 611.73,191.84 612,192.5C612.27,193.16 613.17,194.9 613,195.4C612.83,195.9 611.02,196.54 610.5,196.8C609.98,197.06 609.08,197.42 608.5,197.6C607.92,197.78 606.15,198.17 605.5,198.3C604.85,198.43 603.48,198.73 602.9,198.7C602.32,198.66 601.02,198.13 600.5,198C599.98,197.87 598.87,197.42 598.4,197.6C597.93,197.78 596.9,199.1 596.5,199.5C596.1,199.9 595.37,200.71 595,201C594.63,201.29 593.7,201.77 593.3,202C592.9,202.23 591.93,202.59 591.6,203C591.27,203.41 590.76,204.95 590.5,205.5C590.24,206.05 589.75,207.47 589.4,207.7C589.05,207.93 587.9,207.63 587.5,207.5C587.1,207.37 586.33,206.89 586,206.6C585.67,206.31 584.97,205.42 584.7,205C584.43,204.58 584.1,203.06 583.7,203C583.3,202.94 581.85,204.21 581.3,204.5C580.75,204.79 579.38,205.68 579,205.5C578.62,205.32 578.23,203.53 578,203C577.77,202.47 577.32,201.31 577,201C576.68,200.69 575.7,200.43 575.3,200.3C574.9,200.17 573.87,200.23 573.6,199.9C573.33,199.57 573.13,198.03 573,197.5C572.87,196.97 572.82,195.77 572.5,195.4C572.18,195.03 570.82,194.58 570.3,194.3C569.77,194.02 568.5,193.38 568,193C567.5,192.62 566.4,191.51 566,191C565.6,190.49 564.66,189.24 564.6,188.6C564.54,187.96 565.23,186.15 565.5,185.5C565.77,184.85 566.49,183.49 566.9,183C567.31,182.51 568.48,181.7 569,181.3C569.52,180.9 571.19,180.1 571.4,179.6C571.61,179.1 570.96,177.65 570.8,177C570.64,176.35 570.15,174.7 570,174C569.85,173.3 569.62,171.65 569.5,171C569.38,170.35 568.94,168.98 569,168.4C569.06,167.82 569.72,166.53 570,166C570.28,165.47 570.98,164.41 571.4,163.9C571.82,163.39 573.12,161.76 573.6,161.6Z" fill="none" stroke="#103A86" stroke-width="0.45" stroke-linejoin="round" opacity="0.8"/>
<path d="M617.5,163.9C618.08,163.49 618.98,162.34 619.5,162C620.02,161.66 621.36,161.08 622,161C622.64,160.92 624.35,161.18 625,161.3C625.65,161.42 626.9,161.82 627.6,162C628.3,162.18 630.21,162.58 631,162.8C631.79,163.02 633.84,163.53 634.4,163.9C634.96,164.27 635.54,165.47 635.8,166C636.06,166.53 636.54,167.7 636.6,168.4C636.66,169.1 636.43,171.23 636.3,172C636.17,172.77 635.83,174.36 635.5,175C635.17,175.64 634.02,176.96 633.5,177.5C632.98,178.04 631.64,179.19 631,179.6C630.36,180.01 628.65,180.73 628,181C627.35,181.27 626.04,181.67 625.4,181.9C624.76,182.13 623.16,182.75 622.5,183C621.84,183.25 620.31,183.67 619.7,184C619.09,184.33 617.85,185.39 617.3,185.8C616.75,186.21 615.5,187.21 615,187.5C614.5,187.79 613.5,188.17 613,188.3C612.5,188.43 611.28,188.72 610.7,188.6C610.12,188.48 608.57,187.72 608,187.3C607.43,186.88 606.17,185.58 605.8,185C605.43,184.42 605.01,182.93 604.8,182.3C604.59,181.67 604.21,180.22 604,179.6C603.79,178.98 603.23,177.57 603,177C602.77,176.43 602.08,175.34 602,174.7C601.92,174.06 602.18,172.23 602.3,171.5C602.42,170.77 602.74,169.04 603,168.4C603.26,167.76 604.07,166.51 604.5,166C604.93,165.49 606.14,164.14 606.7,164C607.26,163.86 608.69,164.5 609.3,164.8C609.91,165.1 611.29,166.52 611.9,166.6C612.51,166.68 613.85,165.81 614.5,165.5C615.15,165.19 616.92,164.31 617.5,163.9Z" fill="none" stroke="#AFD08C" stroke-width="0.45" stroke-linejoin="round" opacity="0.8"/>
<path d="M615,187.5C615.53,187.2 616.75,186.21 617.3,185.8C617.85,185.39 619.09,184.33 619.7,184C620.31,183.67 621.84,183.25 622.5,183C623.16,182.75 624.76,182.13 625.4,181.9C626.04,181.67 627.35,181.27 628,181C628.65,180.73 630.38,179.8 631,179.6C631.62,179.4 632.82,179.44 633.35,179.29C633.87,179.13 635,178.53 635.5,178.3C636,178.07 637.12,177.45 637.65,177.35C638.17,177.24 639.32,177.5 640,177.4C640.68,177.3 642.72,176.66 643.5,176.5C644.28,176.34 646.12,175.71 646.7,176C647.28,176.29 648.12,178.31 648.5,179C648.88,179.69 649.59,181.38 650,181.9C650.41,182.43 651.46,183.14 652,183.5C652.54,183.86 654.19,184.56 654.6,185C655.01,185.44 655.37,186.75 655.5,187.3C655.63,187.85 655.93,189.15 655.7,189.7C655.47,190.25 654.05,191.5 653.5,192C652.95,192.5 651.52,193.56 651,194C650.48,194.44 649.5,195.38 649,195.8C648.5,196.22 647.17,197.13 646.7,197.6C646.23,198.07 645.38,199.29 645,199.8C644.62,200.31 643.92,201.58 643.4,202C642.88,202.42 641.16,203.12 640.5,203.4C639.84,203.68 638.42,204.26 637.7,204.4C636.98,204.54 635.08,204.6 634.3,204.6C633.52,204.6 631.74,204.54 631,204.4C630.26,204.26 628.65,203.68 628,203.4C627.35,203.12 626.04,202.34 625.4,202C624.76,201.66 623.16,200.88 622.5,200.5C621.84,200.12 620.37,199.05 619.7,198.7C619.04,198.35 617.46,197.81 616.8,197.5C616.13,197.19 614.52,196.53 614,196C613.48,195.47 612.65,193.7 612.3,193C611.95,192.3 610.95,190.54 611,190C611.05,189.46 612.3,188.67 612.77,188.38C613.24,188.09 614.47,187.8 615,187.5Z" fill="none" stroke="#90B4E0" stroke-width="0.45" stroke-linejoin="round" opacity="0.8"/>
<path d="M636.6,156C636.88,155.43 638.37,154.77 639,154.5C639.63,154.23 641.42,153.71 642,153.7C642.58,153.69 643.51,154.28 643.97,154.44C644.44,154.59 645.48,154.85 646,155C646.52,155.15 647.87,155.6 648.46,155.72C649.04,155.83 650.47,155.94 651,156C651.53,156.06 652.53,156.22 653,156.22C653.47,156.22 654.48,155.97 655,156C655.52,156.03 656.92,156.51 657.5,156.51C658.08,156.51 659.48,156.13 660,156C660.52,155.87 661.51,155.52 661.98,155.41C662.44,155.29 663.47,155.11 664,155C664.53,154.89 665.94,154.59 666.52,154.43C667.11,154.28 668.36,153.93 669,153.7C669.64,153.47 671.43,152.75 672,152.5C672.57,152.25 673.41,151.64 673.88,151.52C674.35,151.4 675.4,151.41 676,151.5C676.6,151.59 678.45,152.09 679,152.3C679.55,152.51 680.32,153.1 680.75,153.27C681.18,153.43 682.2,153.5 682.7,153.7C683.2,153.9 684.5,154.62 685,155C685.5,155.38 686.83,156.42 687,157C687.17,157.58 686.73,159.34 686.5,160C686.27,160.66 685.47,162.06 685,162.7C684.53,163.34 683.02,164.84 682.5,165.5C681.98,166.16 680.91,167.7 680.5,168.4C680.09,169.1 679.29,170.73 679,171.5C678.71,172.27 678.23,174.24 678,175C677.77,175.76 677.23,177.34 677,178C676.77,178.66 676.38,180.17 676,180.7C675.62,181.22 674.23,182.12 673.7,182.5C673.18,182.88 672.11,183.94 671.5,184C670.89,184.06 669.15,183.25 668.5,183C667.85,182.75 666.54,182.13 665.9,181.9C665.26,181.67 663.69,181.14 663,181C662.31,180.86 660.7,180.55 660,180.7C659.3,180.85 657.63,181.92 657,182.3C656.37,182.69 655.18,183.88 654.6,184C654.02,184.12 652.54,183.55 652,183.3C651.46,183.06 650.43,182.4 650,181.9C649.57,181.4 648.68,179.69 648.3,179C647.91,178.31 647.28,176.31 646.7,176C646.12,175.69 644.08,176.22 643.3,176.3C642.52,176.38 640.64,176.73 640,176.7C639.36,176.66 638.27,176.2 637.8,176C637.33,175.8 636.15,175.53 636,175C635.85,174.47 636.39,172.27 636.5,171.5C636.61,170.73 636.96,169.1 636.9,168.4C636.84,167.7 636.22,166.13 636,165.5C635.78,164.87 635.02,163.53 635,163C634.98,162.47 635.61,161.42 635.8,161C635.99,160.58 636.51,159.98 636.6,159.4C636.69,158.82 636.32,156.57 636.6,156Z" fill="none" stroke="#5E2688" stroke-width="0.45" stroke-linejoin="round" opacity="0.8"/>
<path d="M654.6,185C654.77,184.44 656.37,183 657,182.5C657.63,182 659.3,180.88 660,180.7C660.7,180.52 662.31,180.86 663,181C663.69,181.14 665.26,181.67 665.9,181.9C666.54,182.13 667.85,182.75 668.5,183C669.15,183.25 670.89,183.98 671.5,184C672.11,184.02 673.18,183.44 673.7,183.2C674.23,182.95 675.38,181.89 676,181.9C676.62,181.91 678.35,182.94 679,183.3C679.65,183.66 681.13,184.53 681.6,185C682.07,185.47 682.73,186.75 683,187.3C683.27,187.85 684.04,189.21 683.9,189.7C683.76,190.19 682.32,191.12 681.8,191.5C681.27,191.88 680.08,192.67 679.4,193C678.72,193.33 676.79,194.02 676,194.3C675.21,194.58 673.32,195.14 672.6,195.4C671.88,195.66 670.45,196.24 669.8,196.5C669.15,196.76 667.68,197.33 667,197.6C666.32,197.87 664.65,198.53 664,198.8C663.35,199.07 662.04,199.64 661.4,199.9C660.76,200.16 659.16,200.75 658.5,201C657.84,201.25 656.37,201.74 655.7,202C655.04,202.26 653.46,202.92 652.8,203.2C652.13,203.48 650.6,204.13 650,204.4C649.4,204.67 648.21,205.24 647.7,205.5C647.19,205.76 645.97,206.27 645.6,206.6C645.23,206.93 644.76,207.84 644.5,208.3C644.24,208.76 643.72,210.3 643.4,210.5C643.08,210.7 642.08,210.19 641.8,210C641.52,209.81 641.06,209.31 641,208.9C640.94,208.49 641.15,207.03 641.3,206.5C641.45,205.97 642.05,204.83 642.3,204.4C642.55,203.97 643.24,203.2 643.48,202.8C643.71,202.41 643.92,201.56 644.3,201C644.68,200.44 646.15,198.58 646.7,198C647.25,197.42 648.5,196.47 649,196C649.5,195.53 650.48,194.47 651,194C651.52,193.53 652.95,192.5 653.5,192C654.05,191.5 655.47,190.25 655.7,189.7C655.93,189.15 655.63,187.85 655.5,187.3C655.37,186.75 654.43,185.56 654.6,185Z" fill="none" stroke="#6C6C6C" stroke-width="0.45" stroke-linejoin="round" opacity="0.8"/>
</g>
<path d="M689,48C690.17,48.17 693.83,48.58 696,49C698.17,49.42 700,50.5 702,50.5C704,50.5 706,48.92 708,49C710,49.08 712,50.33 714,51C716,51.67 718,52.75 720,53C722,53.25 724.17,52.33 726,52.5C727.83,52.67 730.17,53.75 731,54" fill="none" stroke="#1d4f8c" stroke-width="0.35" opacity="0.7"/>
<path d="M697,60C698,60.67 701.17,62.33 703,64C704.83,65.67 706.33,68.5 708,70C709.67,71.5 712.17,72.5 713,73" fill="none" stroke="#1d4f8c" stroke-width="0.35" opacity="0.7"/>
<path d="M683,13C684.17,13.33 687.67,14.5 690,15C692.33,15.5 695.83,15.83 697,16" fill="none" stroke="#4c8a2a" stroke-width="0.35" opacity="0.7"/>
<path d="M546,92C547.67,92.5 552.67,94.33 556,95C559.33,95.67 562.67,95.33 566,96C569.33,96.67 572.67,97.83 576,99C579.33,100.17 583,101.83 586,103C589,104.17 591.67,104.83 594,106C596.33,107.17 598.33,108.33 600,110C601.67,111.67 603.67,114 604,116C604.33,118 602.33,121 602,122" fill="none" stroke="#a87800" stroke-width="0.35" opacity="0.7"/>
<path d="M602,122C603,122.67 606,125.67 608,126C610,126.33 612,123.67 614,124C616,124.33 617.83,127.5 620,128C622.17,128.5 624.83,126.67 627,127C629.17,127.33 630.83,129.83 633,130C635.17,130.17 638.83,128.33 640,128" fill="none" stroke="#a87800" stroke-width="0.35" opacity="0.7"/>
<path d="M617,107C617.33,108.17 618.17,111.83 619,114C619.83,116.17 621,118 622,120C623,122 624.5,125 625,126" fill="none" stroke="#a87800" stroke-width="0.35" opacity="0.7"/>
<path d="M655,137C654.83,137.83 653.67,140.33 654,142C654.33,143.67 656.67,145.33 657,147C657.33,148.67 656.17,151.17 656,152" fill="none" stroke="#3060a0" stroke-width="0.35" opacity="0.7"/>
<path d="M660,156C660.33,157.17 662,160.67 662,163C662,165.33 659.83,167.83 660,170C660.17,172.17 662.83,174.17 663,176C663.17,177.83 661.33,180.17 661,181" fill="none" stroke="#4a1870" stroke-width="0.35" opacity="0.7"/>
<path d="M686,118C685.83,119.33 684.83,123.33 685,126C685.17,128.67 687.17,131.33 687,134C686.83,136.67 684.17,139.33 684,142C683.83,144.67 685.67,148.67 686,150" fill="none" stroke="#0a6a30" stroke-width="0.35" opacity="0.7"/>
<path d="M596,176C595.33,175 593.33,171.83 592,170C590.67,168.17 588.33,167 588,165C587.67,163 588.67,160.17 590,158C591.33,155.83 595,153 596,152" fill="none" stroke="#0a4aa0" stroke-width="0.35" opacity="0.7"/>
<path d="M619.7,141C620.08,142.17 620.62,146.17 622,148C623.38,149.83 626.17,152.17 628,152C629.83,151.83 632.17,147.83 633,147" fill="none" stroke="#0a4aa0" stroke-width="0.35" opacity="0.7"/>
<g fill="none" stroke-linecap="round">
<ellipse cx="601.5" cy="118.7" rx="102.4" ry="37.3" transform="rotate(19 601.5 118.7)" stroke="#2a2a2a" stroke-width="0.8"/>
<ellipse cx="655" cy="119" rx="47" ry="29" transform="rotate(28 655 119)" stroke="#1c1c1c" stroke-width="0.9"/>
<ellipse cx="657" cy="122" rx="33" ry="20" transform="rotate(35 657 122)" stroke="#1c1c1c" stroke-width="0.8"/>
<ellipse cx="663" cy="113" rx="28" ry="19" transform="rotate(38 663 113)" stroke="#222" stroke-width="0.7"/>
<path d="M573,184C573.5,185 574.17,187.75 576,190C577.83,192.25 580.83,195.42 584,197.5C587.17,199.58 591.33,201.17 595,202.5C598.67,203.83 602.25,204.82 606,205.5C609.75,206.18 613.67,206.52 617.5,206.6C621.33,206.68 625.25,206.43 629,206C632.75,205.57 636.17,205.08 640,204C643.83,202.92 648.25,201.17 652,199.5C655.75,197.83 658.83,196.25 662.5,194C666.17,191.75 670.25,189 674,186C677.75,183 681.67,179.33 685,176C688.33,172.67 691.37,169.17 694,166C696.63,162.83 699.67,158.5 700.8,157" stroke="#2a2a2a" stroke-width="0.9"/>
<path d="M603,127C603.08,128.83 603,134.33 603.5,138C604,141.67 604.92,145.67 606,149C607.08,152.33 608.5,155.33 610,158C611.5,160.67 613.17,163 615,165C616.83,167 618.67,168.67 621,170C623.33,171.33 625.83,172.25 629,173C632.17,173.75 636.33,174.33 640,174.5C643.67,174.67 647,174.25 651,174C655,173.75 659.83,173.57 664,173C668.17,172.43 672.33,171.77 676,170.6C679.67,169.43 683,167.68 686,166C689,164.32 691.33,162.33 694,160.5C696.67,158.67 700.67,155.92 702,155" stroke="#222" stroke-width="0.9"/>
<path d="M616,166C615.67,166.83 614.33,169.33 614,171C613.67,172.67 613.75,174.25 614,176C614.25,177.75 614.83,179.83 615.5,181.5C616.17,183.17 616.83,184.33 618,186C619.17,187.67 620.83,189.83 622.5,191.5C624.17,193.17 625.75,194.87 628,196C630.25,197.13 633.33,197.88 636,198.3C638.67,198.72 641.67,198.58 644,198.5C646.33,198.42 648,198.22 650,197.8C652,197.38 655,196.3 656,196" stroke="#333" stroke-width="0.8"/>
<path d="M606,100C606.08,101.33 606.17,105.33 606.5,108C606.83,110.67 607.08,113.58 608,116C608.92,118.42 610.33,120.5 612,122.5C613.67,124.5 615.83,126.17 618,128C620.17,129.83 622.67,131.83 625,133.5C627.33,135.17 630.83,137.25 632,138" stroke="#222" stroke-width="0.8"/>
<path d="M622,100C622.17,101.33 622.33,105.33 623,108C623.67,110.67 624.83,113.75 626,116C627.17,118.25 628.33,119.83 630,121.5C631.67,123.17 633.83,124.5 636,126C638.17,127.5 640.67,129.17 643,130.5C645.33,131.83 647,132.83 650,134C653,135.17 657.33,136.83 661,137.5C664.67,138.17 668.83,138.12 672,138C675.17,137.88 677.33,137.47 680,136.8C682.67,136.13 686.67,134.47 688,134" stroke="#222" stroke-width="0.8"/>
</g>
<path d="M651.7,69.5C652.92,69.17 656.37,67.42 659,67.5C661.63,67.58 664.83,68.83 667.5,70C670.17,71.17 672.75,72.75 675,74.5C677.25,76.25 679.33,78.42 681,80.5C682.67,82.58 684,84.75 685,87C686,89.25 686.83,91.67 687,94C687.17,96.33 686.17,99.83 686,101" fill="none" stroke="#050505" stroke-width="3.0" stroke-linecap="butt"/>
<polygon points="683.3,108.8 681.75,100.1 688.99,102.04" fill="#050505"/>
<path d="M645,83.8C646.17,83.53 649.5,82.38 652,82.2C654.5,82.02 657.58,82.15 660,82.7C662.42,83.25 664.5,84.37 666.5,85.5C668.5,86.63 670.25,88.08 672,89.5C673.75,90.92 675.38,92.33 677,94C678.62,95.67 680.92,98.58 681.7,99.5" fill="none" stroke="#050505" stroke-width="3.2" stroke-linecap="butt"/>
<path d="M612.5,101C613.25,100.08 615.33,97.17 617,95.5C618.67,93.83 620.33,92.33 622.5,91C624.67,89.67 627.5,88.5 630,87.5C632.5,86.5 635,85.58 637.5,85C640,84.42 642.5,84.13 645,84C647.5,83.87 651.25,84.17 652.5,84.2" fill="none" stroke="#050505" stroke-width="2.3" stroke-linecap="butt"/>
<polygon points="615.02,103.49 613.05,97.59 613.05,97.59 611.5,98 610.01,98.6 610.01,98.6 611.98,104.51" fill="#050505"/>
<path d="M694,106C694.58,106.83 696.42,109.33 697.5,111C698.58,112.67 699.58,114.17 700.5,116C701.42,117.83 702.25,119.83 703,122C703.75,124.17 704.5,126.67 705,129C705.5,131.33 705.83,134 706,136C706.17,138 706,140.17 706,141" fill="none" stroke="#050505" stroke-width="2.8" stroke-linecap="butt"/>
<polygon points="704.5,149.5 701.81,140.61 709.26,141.52" fill="#050505"/>
<path d="M626.5,139C627.25,139.92 629.25,142.75 631,144.5C632.75,146.25 634.75,147.97 637,149.5C639.25,151.03 641.83,152.57 644.5,153.7C647.17,154.83 650,155.75 653,156.3C656,156.85 659.33,157.05 662.5,157C665.67,156.95 669,156.55 672,156C675,155.45 678.33,154.45 680.5,153.7C682.67,152.95 684.25,151.87 685,151.5" fill="none" stroke="#050505" stroke-width="3.4" stroke-linecap="butt"/>
<polygon points="691,148.3 685.7,155.37 682.18,148.74" fill="#050505"/>
<polygon points="653.61,75.95 659.2,79.36 658.42,80.64 663.5,80 661.76,75.18 660.97,76.46 655.39,73.05" fill="#050505"/>
<polygon points="642.51,88.63 642.95,93.05 641.56,93.19 644.6,96.5 646.93,92.65 645.54,92.79 645.09,88.37" fill="#050505"/>
<polygon points="665.2,101.38 671.24,104.88 670.49,106.18 675.5,105.5 673.59,100.81 672.84,102.11 666.8,98.62" fill="#050505"/>
<polygon points="645.36,117.38 646.79,121.65 645.55,122.07 649,124.5 650.3,120.48 649.06,120.9 647.64,116.62" fill="#050505"/>
<polygon points="649.06,130.42 646.64,134.37 645.61,133.74 646,137.5 649.53,136.15 648.51,135.52 650.94,131.58" fill="#111"/>
<polygon points="680.8,56.79 693.82,58.28 693.68,59.57 698.5,57 694.38,53.41 694.23,54.7 681.2,53.21" fill="#7f7f7f" stroke="#5a5a5a" stroke-width="0.4"/>
<polygon points="675.37,81.86 678.78,83.44 678.28,84.53 682.5,83.5 680.54,79.62 680.04,80.71 676.63,79.14" fill="#8a8a8a" stroke="#555" stroke-width="0.4"/>
<polygon points="608.79,105.13 609.88,94.61 611.08,94.74 609,90.5 606.1,94.22 607.3,94.34 606.21,104.87" fill="#8aa88a" stroke="#4a6a4a" stroke-width="0.4"/>
<polygon points="626.74,114.89 629.03,107.71 630.17,108.07 629,103.5 625.4,106.55 626.55,106.92 624.26,114.11" fill="#9aa89a" stroke="#556" stroke-width="0.4"/>
<polygon points="593.12,126.73 594.03,132.18 592.84,132.38 596,135.5 597.97,131.52 596.79,131.72 595.88,126.27" fill="#9a9a9a" stroke="#444" stroke-width="0.4"/>
<polygon points="605.19,133.84 604.64,129.71 605.83,129.55 603,126.5 601.07,130.19 602.26,130.03 602.81,134.16" fill="#444" stroke="#222" stroke-width="0.4"/>
<polygon points="631.36,168.85 637.37,167.27 637.71,168.53 640.5,165 636.33,163.31 636.66,164.56 630.64,166.15" fill="#8a8a8a" stroke="#555" stroke-width="0.4"/>
<polygon points="647.36,201.85 658.69,198.83 659.02,200.09 662,196.5 657.63,194.87 657.97,196.13 646.64,199.15" fill="#8a8a8a" stroke="#555" stroke-width="0.4"/>
<polygon points="642.4,209.51 641.46,211.64 640.45,211.19 641.5,214.5 644.66,213.06 643.65,212.61 644.6,210.49" fill="#8a8a8a" stroke="#666" stroke-width="0.4"/>
<path d="M517,72 C508.5,80 509.5,98 526,115 L528.5,113 C517.5,98 516,84 519.5,75.5 Z" fill="#dedada" stroke="#b4a8a8" stroke-width="0.4"/>
<polygon points="547.96,88.57 554.92,92.05 554.34,93.22 558.5,92.5 556.58,88.74 556,89.91 549.04,86.43" fill="#FFC000" stroke="#5a4a20" stroke-width="0.5"/>
<path d="M559,142.5C560.5,143.33 564.83,146.08 568,147.5C571.17,148.92 574.67,150.17 578,151C581.33,151.83 586.33,152.25 588,152.5" fill="none" stroke="#e4ecf4" stroke-width="3.0" stroke-linecap="butt"/>
<polygon points="598,153 590.22,155.83 590.83,148.86" fill="#e4ecf4" stroke="#9ab" stroke-width="0.4"/>
<path d="M604,160.5C604.5,161.25 605.83,163.75 607,165C608.17,166.25 610.33,167.5 611,168" fill="none" stroke="#dfe9f2" stroke-width="2.6" stroke-linecap="butt"/>
<polygon points="616.5,168.5 611.09,170.39 612.06,164.87" fill="#dfe9f2" stroke="#9ab" stroke-width="0.4"/>
<polygon points="641.75,140.17 645.62,141 645.37,142.18 649,140.5 646.37,137.48 646.12,138.66 642.25,137.83" fill="#d6e4f6" stroke="#7890b0" stroke-width="0.4"/>
<polygon points="647.69,150.34 647.11,146.01 648.3,145.85 645.5,143 643.54,146.49 644.73,146.33 645.31,150.66" fill="#d6e4f6" stroke="#7890b0" stroke-width="0.4"/>
<polygon points="669.33,147.69 676.46,148.71 676.29,149.9 680,148 676.97,145.14 676.8,146.33 669.67,145.31" fill="#f4f8fb" stroke="#8aa" stroke-width="0.4"/>
<polygon points="683.79,170.28 699.37,160.69 700.05,161.8 702.5,157 697.11,157.03 697.8,158.13 682.21,167.72" fill="#d2ecd8" stroke="#6a9a7a" stroke-width="0.4"/>
<polygon points="643.29,192.28 652.24,193.71 652.05,194.9 656,193 652.84,189.96 652.65,191.15 643.71,189.72" fill="#f2f6fb" stroke="#8a9ab0" stroke-width="0.4"/>
<polygon points="658.15,186.25 668.99,189.24 668.67,190.4 673,189 670,185.58 669.68,186.74 658.85,183.75" fill="#e8eef4" stroke="#8a9ab0" stroke-width="0.4"/>
<path d="M574.5,187 C577,195 586,201.5 600,204.5 L600.5,203 C589,199 581,193.5 578,186 Z" fill="#8d9cb8" stroke="#4a5a80" stroke-width="0.4"/>
<polygon points="650.8,155.07 651.1,159.88 649.91,159.96 652.5,163 654.7,159.66 653.5,159.73 653.2,154.93" fill="#b49ad0" stroke="#4a2a70" stroke-width="0.4"/>
<text class="ser" x="642" y="82.7" text-anchor="middle" font-size="8.3" font-weight="bold" fill="#1a1a1a">1</text>
<text class="ser" x="708.5" y="58.9" text-anchor="middle" font-size="8.3" font-weight="bold" fill="#1a1a1a">7</text>
<text class="ser" x="584" y="121.5" text-anchor="middle" font-size="8.3" font-weight="bold" fill="#1a1a1a">10</text>
<text class="ser" x="689" y="109.5" text-anchor="middle" font-size="8.3" font-weight="bold" fill="#1a1a1a">9</text>
<text class="ser" x="655" y="131.9" text-anchor="middle" font-size="8.3" font-weight="bold" fill="#1a1a1a">11</text>
<text class="ser" x="606" y="152.1" text-anchor="middle" font-size="8.3" font-weight="bold" fill="#1a1a1a">5</text>
<text class="ser" x="651.5" y="148.1" text-anchor="middle" font-size="8.3" font-weight="bold" fill="#1a1a1a">6</text>
<text class="ser" x="700" y="148.1" text-anchor="middle" font-size="8.3" font-weight="bold" fill="#1a1a1a">13</text>
<text class="ser" x="655" y="168.1" text-anchor="middle" font-size="8.3" font-weight="bold" fill="#1a1a1a">12</text>
<text class="ser" x="620" y="179.1" text-anchor="middle" font-size="8.3" font-weight="bold" fill="#1a1a1a">15</text>
<text class="ser" x="587.5" y="192.1" text-anchor="middle" font-size="8.3" font-weight="bold" fill="#1a1a1a">14</text>
<text class="ser" x="633.5" y="195.6" text-anchor="middle" font-size="8.3" font-weight="bold" fill="#1a1a1a">16</text>
<text class="ser" x="665" y="194.6" text-anchor="middle" font-size="8.3" font-weight="bold" fill="#1a1a1a">17</text>
<polygon points="457,173.35 464.2,173.35 464.2,174.9 468.6,172 464.2,169.1 464.2,170.65 457,170.65" fill="#050505" stroke="#050505" stroke-width="0.7"/>
<text x="472.4" y="174.8" font-size="8.05" fill="#111">&gt;5000 hrs</text>
<polygon points="457,184.95 464.2,184.95 464.2,186.5 468.6,183.6 464.2,180.7 464.2,182.25 457,182.25" fill="#7f7f7f" stroke="#4a4a4a" stroke-width="0.7"/>
<text x="472.4" y="186.4" font-size="8.05" fill="#111">3000~5000 hrs</text>
<polygon points="457,196.65 464.2,196.65 464.2,198.2 468.6,195.3 464.2,192.4 464.2,193.95 457,193.95" fill="#d9d9d9" stroke="#3a3a3a" stroke-width="0.7"/>
<text x="472.4" y="198.1" font-size="8.05" fill="#111">1000~3000 hrs</text>
<polygon points="457,208.35 464.2,208.35 464.2,209.9 468.6,207 464.2,204.1 464.2,205.65 457,205.65" fill="#ffffff" stroke="#333" stroke-width="0.7"/>
<text x="472.4" y="209.8" font-size="8.05" fill="#111">&lt;1000 hrs</text>
<line x1="35" y1="269.3" x2="751" y2="269.3" stroke="#111" stroke-width="1.5"/>
<line x1="393" y1="234" x2="393" y2="306" stroke="#111" stroke-width="1.5"/>
<text x="130" y="259.3" font-size="17.2" font-weight="500" fill="#111" stroke="#111" stroke-width="0.3" letter-spacing="1.9">各区域电力发展路径</text>
<text x="110.6" y="296.3" font-size="17.2" font-weight="500" fill="#111" stroke="#111" stroke-width="0.3" letter-spacing="1.9">各区域电力最优运行策略</text>
<text x="427.3" y="259.3" font-size="17.2" font-weight="500" fill="#111" stroke="#111" stroke-width="0.3" letter-spacing="1.9">电网线路利用情况/区域间电力传输</text>
<text x="403" y="296.3" font-size="17.2" font-weight="500" fill="#111" stroke="#111" stroke-width="0.3" letter-spacing="1.9">不同气候变化约束情景下的低碳排放路径</text>
<rect x="20.9" y="315.6" width="258.4" height="183.4" fill="#fff" stroke="#222" stroke-width="1"/>
<polygon points="20.4,499 20.4,377.5 21.08,377.48 21.77,377.42 22.45,377.36 23.13,377.29 23.81,377.22 24.5,377.15 25.18,377.09 25.86,377.03 26.54,376.99 27.23,376.97 27.91,376.97 28.59,376.99 29.27,377.07 29.96,377.27 30.64,377.54 31.32,377.83 32,378.09 32.69,378.28 33.37,378.34 34.05,378.25 34.74,378.18 35.42,378.13 36.1,378.05 36.78,377.9 37.47,377.64 38.15,377.22 38.83,376.61 39.51,375.77 40.2,374.63 40.88,373.03 41.56,370.99 42.24,368.65 42.93,366.14 43.61,363.58 44.29,361.1 44.97,358.83 45.66,356.67 46.34,354.47 47.02,352.27 47.71,350.13 48.39,348.09 49.07,346.21 49.75,344.54 50.44,343.21 51.12,342.44 51.8,342.07 52.48,341.91 53.17,341.76 53.85,341.65 54.53,341.68 55.21,341.9 55.9,342.4 56.58,343.12 57.26,343.94 57.94,344.84 58.63,345.83 59.31,346.92 59.99,348.09 60.68,349.36 61.36,350.85 62.04,353.02 62.72,355.48 63.41,357.71 64.09,359.19 64.77,359.48 65.45,359.07 66.14,358.22 66.82,357.06 67.5,355.7 68.18,354.27 68.87,352.88 69.55,351.66 70.23,350.71 70.91,349.96 71.6,349.36 72.28,348.88 72.96,348.52 73.65,348.27 74.33,348.28 75.01,348.76 75.69,349.5 76.38,350.27 77.06,351.19 77.74,352.4 78.42,354.03 79.11,356.25 79.79,359.17 80.47,362.56 81.15,366.12 81.84,369.56 82.52,372.58 83.2,374.64 83.88,374.87 84.57,373.39 85.25,371.4 85.93,370.05 86.62,369.87 87.3,370.22 87.98,370.81 88.66,371.34 89.35,371.6 90.03,371.78 90.71,371.91 91.39,371.99 92.08,372.02 92.76,371.96 93.44,371.75 94.12,371.44 94.81,371.14 95.49,370.98 96.17,371.04 96.85,371.34 97.54,371.79 98.22,372.32 98.9,372.85 99.59,373.31 100.27,373.64 100.95,373.75 101.63,373.65 102.32,373.38 103,372.93 103.68,372.3 104.36,371.47 105.05,370.42 105.73,369.19 106.41,367.81 107.09,366.29 107.78,364.66 108.46,362.93 109.14,361.11 109.82,359.24 110.51,357.25 111.19,355.02 111.87,352.63 112.56,350.19 113.24,347.8 113.92,345.54 114.6,343.53 115.29,341.83 115.97,340.38 116.65,339.13 117.33,338.03 118.02,337.05 118.7,336.14 119.38,335.28 120.06,334.42 120.75,333.84 121.43,333.63 122.11,333.6 122.79,333.66 123.48,333.97 124.16,334.71 124.84,335.57 125.53,336.44 126.21,337.37 126.89,338.43 127.57,339.69 128.26,341.2 128.94,343.1 129.62,346.18 130.3,350.01 130.99,353.7 131.67,356.35 132.35,357.25 133.03,356.93 133.72,355.83 134.4,354.31 135.08,352.7 135.76,351.34 136.45,350.38 137.13,349.35 137.81,348.31 138.5,347.34 139.18,346.57 139.86,346.09 140.54,346.01 141.23,346.35 141.91,347.05 142.59,348.1 143.27,349.44 143.96,351.05 144.64,352.92 145.32,355.76 146,359.32 146.69,362.88 147.37,365.69 148.05,367.03 148.73,366.09 149.42,363.46 150.1,360.34 150.78,357.93 151.47,357.15 152.15,357.5 152.83,358.33 153.51,359.01 154.2,359.51 154.88,360.04 155.56,360.43 156.24,360.48 156.93,360.37 157.61,360.16 158.29,359.9 158.97,359.6 159.66,359.29 160.34,358.99 161.02,358.74 161.7,358.5 162.39,358.21 163.07,357.91 163.75,357.61 164.44,357.33 165.12,357.08 165.8,356.89 166.48,356.77 167.17,356.73 167.85,356.82 168.53,357.17 169.21,357.71 169.9,358.36 170.58,359.03 171.26,359.64 171.94,360.11 172.63,360.34 173.31,360.26 173.99,359.73 174.67,358.26 175.36,356.05 176.04,353.5 176.72,351.01 177.41,348.98 178.09,347.43 178.77,345.97 179.45,344.61 180.14,343.35 180.82,342.21 181.5,341.2 182.18,340.34 182.87,339.67 183.55,339.32 184.23,339.26 184.91,339.42 185.6,339.75 186.28,340.18 186.96,340.61 187.64,341.11 188.33,341.8 189.01,342.79 189.69,344.2 190.38,346.24 191.06,349.26 191.74,352.87 192.42,356.6 193.11,359.97 193.79,362.5 194.47,363.73 195.15,363.56 195.84,362.41 196.52,360.56 197.2,358.28 197.88,355.83 198.57,353.47 199.25,351.47 199.93,350.09 200.61,349.34 201.3,348.88 201.98,348.66 202.66,348.64 203.35,348.77 204.03,348.98 204.71,349.23 205.39,349.47 206.08,349.67 206.76,349.88 207.44,350.12 208.12,350.38 208.81,350.69 209.49,351.07 210.17,351.51 210.85,352.04 211.54,352.67 212.22,353.41 212.9,354.34 213.58,355.68 214.27,357.3 214.95,359.08 215.63,360.85 216.32,362.48 217,363.8 217.68,364.7 218.36,365.34 219.05,365.86 219.73,366.28 220.41,366.61 221.09,366.87 221.78,367.1 222.46,367.29 223.14,367.49 223.82,367.7 224.51,367.96 225.19,368.27 225.87,368.67 226.55,369.16 227.24,369.75 227.92,370.42 228.6,371.14 229.29,371.9 229.97,372.68 230.65,373.45 231.33,374.19 232.02,374.89 232.7,375.52 233.38,376.07 234.06,376.51 234.75,376.82 235.43,376.99 236.11,376.97 236.79,376.2 237.48,374.61 238.16,372.56 238.84,370.41 239.52,368.5 240.21,367.15 240.89,366.11 241.57,365.24 242.26,364.56 242.94,364.07 243.62,363.78 244.3,363.74 244.99,363.96 245.67,364.38 246.35,364.94 247.03,365.57 247.72,366.23 248.4,367.25 249.08,368.41 249.76,369.31 250.45,369.76 251.13,370.12 251.81,370.41 252.49,370.63 253.18,370.75 253.86,370.77 254.54,370.65 255.23,370.41 255.91,370.15 256.59,369.89 257.27,369.57 257.96,369.15 258.64,368.6 259.32,367.86 260,366.9 260.69,365.67 261.37,364.01 262.05,361.47 262.73,358.32 263.42,354.93 264.1,351.67 264.78,348.93 265.46,347.07 266.15,346.18 266.83,345.95 267.51,346.22 268.2,346.82 268.88,347.58 269.56,348.34 270.24,348.95 270.93,349.56 271.61,350.26 272.29,351.13 272.97,352.2 273.66,353.54 274.34,355.4 275.02,357.88 275.7,360.53 276.39,362.93 277.07,364.63 277.75,365.3 278.43,365.27 279.12,365.03 279.8,365 279.8,499" fill="#5B9BD5"/>
<polygon points="20.4,499 20.4,441 21.08,441 21.77,441.04 22.45,441.07 23.13,441.1 23.81,441.13 24.5,441.16 25.18,441.2 25.86,441.23 26.54,441.26 27.23,441.3 27.91,441.34 28.59,441.39 29.27,441.44 29.96,441.5 30.64,441.59 31.32,441.76 32,441.97 32.69,442.2 33.37,442.43 34.05,442.64 34.74,442.8 35.42,442.89 36.1,442.89 36.78,442.77 37.47,442.52 38.15,442 38.83,441.12 39.51,439.88 40.2,438.29 40.88,436.37 41.56,434.01 42.24,431.12 42.93,427.94 43.61,424.71 44.29,421.67 44.97,419.08 45.66,416.93 46.34,415.01 47.02,413.31 47.71,411.81 48.39,410.51 49.07,409.39 49.75,408.58 50.44,408.08 51.12,407.79 51.8,407.63 52.48,407.5 53.17,407.41 53.85,407.43 54.53,407.54 55.21,407.72 55.9,407.96 56.58,408.19 57.26,408.4 57.94,408.76 58.63,409.44 59.31,410.57 59.99,412.07 60.68,413.8 61.36,415.67 62.04,417.55 62.72,419.33 63.41,420.98 64.09,422.7 64.77,424.44 65.45,426.13 66.14,427.67 66.82,428.99 67.5,430 68.18,430.67 68.87,431.06 69.55,431.24 70.23,431.25 70.91,431.17 71.6,431.06 72.28,430.95 72.96,430.68 73.65,430.27 74.33,429.81 75.01,429.39 75.69,429.08 76.38,428.92 77.06,428.78 77.74,428.69 78.42,428.71 79.11,428.9 79.79,429.32 80.47,430.03 81.15,431.06 81.84,432.29 82.52,433.62 83.2,434.93 83.88,436.12 84.57,437.07 85.25,437.69 85.93,438.11 86.62,438.38 87.3,438.54 87.98,438.61 88.66,438.62 89.35,438.58 90.03,438.54 90.71,438.5 91.39,438.5 92.08,438.5 92.76,438.49 93.44,438.47 94.12,438.42 94.81,438.33 95.49,438.21 96.17,438.03 96.85,437.79 97.54,437.48 98.22,437.08 98.9,436.58 99.59,435.97 100.27,435.26 100.95,434.45 101.63,433.54 102.32,432.52 103,431.41 103.68,430.22 104.36,428.96 105.05,427.64 105.73,426.26 106.41,424.84 107.09,423.38 107.78,421.88 108.46,420.28 109.14,418.57 109.82,416.81 110.51,415.03 111.19,413.27 111.87,411.57 112.56,409.97 113.24,408.51 113.92,407.19 114.6,406.01 115.29,404.92 115.97,403.92 116.65,402.97 117.33,402.09 118.02,401.45 118.7,401.08 119.38,400.95 120.06,400.89 120.75,400.91 121.43,400.99 122.11,401.16 122.79,401.41 123.48,401.72 124.16,402.03 124.84,402.39 125.53,402.83 126.21,403.4 126.89,404.15 127.57,405.12 128.26,406.53 128.94,408.35 129.62,410.34 130.3,412.29 130.99,413.97 131.67,415.44 132.35,416.89 133.03,418.24 133.72,419.44 134.4,420.4 135.08,421.06 135.76,421.41 136.45,421.52 137.13,421.47 137.81,421.31 138.5,421.14 139.18,421 139.86,420.98 140.54,421.08 141.23,421.18 141.91,421.31 142.59,421.46 143.27,421.66 143.96,421.93 144.64,422.28 145.32,422.74 146,423.39 146.69,424.18 147.37,425.04 148.05,425.88 148.73,426.63 149.42,427.21 150.1,427.53 150.78,427.64 151.47,427.61 152.15,427.48 152.83,427.25 153.51,426.98 154.2,426.68 154.88,426.39 155.56,426.13 156.24,425.93 156.93,425.74 157.61,425.55 158.29,425.34 158.97,425.14 159.66,424.94 160.34,424.73 161.02,424.54 161.7,424.34 162.39,424.16 163.07,423.98 163.75,423.84 164.44,423.73 165.12,423.65 165.8,423.57 166.48,423.49 167.17,423.39 167.85,423.26 168.53,423.09 169.21,422.86 169.9,422.55 170.58,422.1 171.26,421.43 171.94,420.61 172.63,419.69 173.31,418.76 173.99,417.82 174.67,416.81 175.36,415.76 176.04,414.69 176.72,413.64 177.41,412.63 178.09,411.66 178.77,410.66 179.45,409.71 180.14,408.85 180.82,408.15 181.5,407.62 182.18,407.16 182.87,406.81 183.55,406.56 184.23,406.45 184.91,406.48 185.6,406.69 186.28,407.08 186.96,407.64 187.64,408.37 188.33,409.25 189.01,410.33 189.69,411.64 190.38,413.1 191.06,414.6 191.74,416.06 192.42,417.37 193.11,418.59 193.79,419.89 194.47,421.18 195.15,422.41 195.84,423.48 196.52,424.33 197.2,424.87 197.88,424.97 198.57,424.31 199.25,423.15 199.93,421.8 200.61,420.55 201.3,419.64 201.98,418.81 202.66,418.01 203.35,417.27 204.03,416.64 204.71,416.15 205.39,415.85 206.08,415.75 206.76,415.81 207.44,416.01 208.12,416.31 208.81,416.68 209.49,417.21 210.17,417.85 210.85,418.54 211.54,419.21 212.22,419.8 212.9,420.22 213.58,420.46 214.27,420.61 214.95,420.81 215.63,421.18 216.32,421.85 217,422.81 217.68,423.94 218.36,425.13 219.05,426.26 219.73,427.2 220.41,427.89 221.09,428.47 221.78,428.97 222.46,429.42 223.14,429.82 223.82,430.21 224.51,430.59 225.19,430.98 225.87,431.41 226.55,431.88 227.24,432.35 227.92,432.81 228.6,433.29 229.29,433.76 229.97,434.23 230.65,434.71 231.33,435.18 232.02,435.66 232.7,436.14 233.38,436.65 234.06,437.18 234.75,437.69 235.43,438.16 236.11,438.56 236.79,438.95 237.48,439.35 238.16,439.7 238.84,439.95 239.52,440.05 240.21,439.93 240.89,439.46 241.57,438.71 242.26,437.85 242.94,437.06 243.62,436.34 244.3,435.55 244.99,434.74 245.67,433.98 246.35,433.3 247.03,432.76 247.72,432.41 248.4,432.18 249.08,432.05 249.76,431.99 250.45,432.01 251.13,432.08 251.81,432.21 252.49,432.36 253.18,432.55 253.86,432.85 254.54,433.25 255.23,433.72 255.91,434.22 256.59,434.73 257.27,435.2 257.96,435.59 258.64,435.88 259.32,436.03 260,436 260.69,435.75 261.37,435.31 262.05,434.7 262.73,433.97 263.42,433.16 264.1,432.3 264.78,431.44 265.46,430.61 266.15,429.84 266.83,429.04 267.51,428.17 268.2,427.27 268.88,426.35 269.56,425.46 270.24,424.61 270.93,423.84 271.61,423.17 272.29,422.63 272.97,422.32 273.66,422.39 274.34,422.74 275.02,423.24 275.7,423.78 276.39,424.29 277.07,424.9 277.75,425.58 278.43,426.3 279.12,427.02 279.8,427.5 279.8,499" fill="#ED7D31"/>
<polygon points="20.4,499 20.4,446 21.08,446.01 21.77,446.06 22.45,446.12 23.13,446.17 23.81,446.23 24.5,446.28 25.18,446.34 25.86,446.4 26.54,446.46 27.23,446.52 27.91,446.53 28.59,446.51 29.27,446.5 29.96,446.51 30.64,446.57 31.32,446.73 32,447 32.69,447.49 33.37,448.19 34.05,449 34.74,449.82 35.42,450.54 36.1,450.83 36.78,450.26 37.47,449.31 38.15,448.07 38.83,446.58 39.51,444.88 40.2,442.97 40.88,440.86 41.56,438.56 42.24,436.1 42.93,433.55 43.61,430.96 44.29,428.39 44.97,425.88 45.66,423.49 46.34,421.26 47.02,419.13 47.71,417.14 48.39,415.3 49.07,413.65 49.75,412.21 50.44,411.02 51.12,410.07 51.8,409.36 52.48,408.88 53.17,408.6 53.85,408.51 54.53,408.61 55.21,408.89 55.9,409.36 56.58,410.02 57.26,410.87 57.94,411.91 58.63,413.13 59.31,414.53 59.99,416.11 60.68,417.86 61.36,419.78 62.04,421.84 62.72,424.03 63.41,426.31 64.09,428.65 64.77,431.02 65.45,433.4 66.14,435.76 66.82,438.13 67.5,440.49 68.18,442.78 68.87,444.93 69.55,446.86 70.23,448.52 70.91,449.82 71.6,450.75 72.28,451.28 72.96,451.1 73.65,450.38 74.33,449.65 75.01,448.93 75.69,448.27 76.38,447.68 77.06,447.12 77.74,446.57 78.42,446.05 79.11,445.56 79.79,445.12 80.47,444.75 81.15,444.44 81.84,444.19 82.52,443.95 83.2,443.72 83.88,443.45 84.57,443.13 85.25,442.78 85.93,442.41 86.62,442.05 87.3,441.74 87.98,441.51 88.66,441.31 89.35,441.11 90.03,440.92 90.71,440.76 91.39,440.64 92.08,440.58 92.76,440.58 93.44,440.67 94.12,440.85 94.81,441.13 95.49,441.48 96.17,441.9 96.85,442.37 97.54,442.87 98.22,442.79 98.9,442.36 99.59,441.77 100.27,441.12 100.95,440.4 101.63,439.61 102.32,438.74 103,437.78 103.68,436.71 104.36,435.5 105.05,434.15 105.73,432.64 106.41,430.94 107.09,429.07 107.78,427.08 108.46,425.01 109.14,422.91 109.82,420.82 110.51,418.77 111.19,416.82 111.87,415 112.56,413.32 113.24,411.72 113.92,410.19 114.6,408.76 115.29,407.44 115.97,406.22 116.65,405.13 117.33,404.17 118.02,403.35 118.7,402.68 119.38,402.16 120.06,401.79 120.75,401.59 121.43,401.59 122.11,401.76 122.79,402.01 123.48,402.32 124.16,402.81 124.84,403.45 125.53,404.21 126.21,405.07 126.89,406.06 127.57,407.17 128.26,408.4 128.94,409.72 129.62,411.14 130.3,412.89 130.99,414.57 131.67,416.04 132.35,417.49 133.03,419.04 133.72,420.67 134.4,422.27 135.08,423.85 135.76,425.39 136.45,426.9 137.13,428.36 137.81,429.76 138.5,431.07 139.18,432.31 139.86,433.46 140.54,434.5 141.23,435.44 141.91,436.25 142.59,436.91 143.27,437.39 143.96,437.62 144.64,437.37 145.32,436.69 146,436 146.69,435.26 147.37,434.46 148.05,433.64 148.73,432.84 149.42,432.08 150.1,431.41 150.78,430.81 151.47,430.28 152.15,429.85 152.83,429.55 153.51,429.38 154.2,429.26 154.88,429.19 155.56,429.15 156.24,429.13 156.93,429.11 157.61,429.1 158.29,429.06 158.97,429 159.66,428.92 160.34,428.82 161.02,428.72 161.7,428.61 162.39,428.49 163.07,428.38 163.75,428.27 164.44,428.16 165.12,428.05 165.8,427.94 166.48,427.74 167.17,427.51 167.85,427.37 168.53,427.41 169.21,427.61 169.9,427.4 170.58,427.08 171.26,426.73 171.94,426.34 172.63,425.93 173.31,425.76 173.99,425.81 174.67,425.85 175.36,425.67 176.04,425.06 176.72,423.85 177.41,422.3 178.09,420.56 178.77,418.71 179.45,416.84 180.14,415.04 180.82,413.39 181.5,411.98 182.18,410.88 182.87,409.98 183.55,409.23 184.23,408.67 184.91,408.29 185.6,408.1 186.28,408.13 186.96,408.37 187.64,408.97 188.33,409.85 189.01,410.93 189.69,412.24 190.38,413.7 191.06,415.2 191.74,416.66 192.42,418.47 193.11,420.53 193.79,422.69 194.47,425.14 195.15,427.77 195.84,430.41 196.52,432.86 197.2,434.93 197.88,436.44 198.57,437.28 199.25,437.56 199.93,437.35 200.61,436.71 201.3,435.45 201.98,434.04 202.66,432.67 203.35,431.2 204.03,429.7 204.71,428.27 205.39,426.97 206.08,425.89 206.76,425.02 207.44,424.31 208.12,423.73 208.81,423.26 209.49,422.89 210.17,422.6 210.85,422.47 211.54,422.5 212.22,422.67 212.9,422.95 213.58,423.34 214.27,423.84 214.95,424.44 215.63,425.13 216.32,425.9 217,426.77 217.68,427.76 218.36,428.81 219.05,429.87 219.73,430.9 220.41,431.82 221.09,432.6 221.78,433.26 222.46,433.87 223.14,434.42 223.82,434.94 224.51,435.41 225.19,435.86 225.87,436.3 226.55,436.72 227.24,437.14 227.92,437.51 228.6,437.83 229.29,438.12 229.97,438.38 230.65,438.66 231.33,438.95 232.02,439.27 232.7,439.66 233.38,440.11 234.06,440.66 234.75,441.38 235.43,442.32 236.11,443.43 236.79,444.65 237.48,445.96 238.16,447.46 238.84,449.21 239.52,451 240.21,451.94 240.89,452.12 241.57,451.75 242.26,451.03 242.94,450.09 243.62,449.03 244.3,447.98 244.99,446.94 245.67,445.88 246.35,444.78 247.03,443.6 247.72,442.26 248.4,440.85 249.08,439.54 249.76,438.51 250.45,437.83 251.13,437.37 251.81,437.16 252.49,437.24 253.18,437.65 253.86,438.44 254.54,439.58 255.23,441.02 255.91,442.69 256.59,444.51 257.27,446.41 257.96,448.32 258.64,450.29 259.32,452.36 260,454.37 260.69,456.11 261.37,457.4 262.05,458.01 262.73,457.57 263.42,456.45 264.1,455.1 264.78,453.63 265.46,452.13 266.15,450.7 266.83,449.19 267.51,447.58 268.2,445.95 268.88,444.35 269.56,442.86 270.24,441.56 270.93,440.42 271.61,439.42 272.29,438.5 272.97,437.65 273.66,436.81 274.34,436.02 275.02,435.29 275.7,434.65 276.39,434.08 277.07,433.63 277.75,433.28 278.43,432.99 279.12,432.72 279.8,432.5 279.8,499" fill="#FFC61E"/>
<polygon points="20.4,499 20.4,446 21.08,446.01 21.77,446.06 22.45,446.12 23.13,446.17 23.81,446.23 24.5,446.28 25.18,446.34 25.86,446.4 26.54,446.46 27.23,446.52 27.91,446.53 28.59,446.51 29.27,446.5 29.96,446.51 30.64,446.57 31.32,446.73 32,447 32.69,447.49 33.37,448.19 34.05,449 34.74,449.82 35.42,450.54 36.1,451.06 36.78,451.46 37.47,451.82 38.15,452.11 38.83,452.33 39.51,452.45 40.2,452.47 40.88,452.36 41.56,452.1 42.24,451.73 42.93,451.26 43.61,450.74 44.29,450.2 44.97,449.67 45.66,449.2 46.34,448.81 47.02,448.43 47.71,448.06 48.39,447.73 49.07,447.46 49.75,447.25 50.44,447.14 51.12,447.11 51.8,447.15 52.48,447.23 53.17,447.35 53.85,447.47 54.53,447.6 55.21,447.72 55.9,447.86 56.58,448.01 57.26,448.17 57.94,448.34 58.63,448.54 59.31,448.76 59.99,449 60.68,449.28 61.36,449.61 62.04,449.96 62.72,450.34 63.41,450.72 64.09,451.1 64.77,451.45 65.45,451.77 66.14,452.05 66.82,452.34 67.5,452.65 68.18,452.92 68.87,453.11 69.55,453.18 70.23,453.09 70.91,452.8 71.6,452.35 72.28,451.77 72.96,451.1 73.65,450.38 74.33,449.65 75.01,448.93 75.69,448.27 76.38,447.68 77.06,447.12 77.74,446.57 78.42,446.05 79.11,445.56 79.79,445.12 80.47,444.75 81.15,444.44 81.84,444.19 82.52,443.95 83.2,443.72 83.88,443.45 84.57,443.13 85.25,442.78 85.93,442.41 86.62,442.05 87.3,441.74 87.98,441.51 88.66,441.31 89.35,441.11 90.03,440.92 90.71,440.76 91.39,440.64 92.08,440.58 92.76,440.58 93.44,440.67 94.12,440.85 94.81,441.13 95.49,441.48 96.17,441.9 96.85,442.37 97.54,442.88 98.22,443.4 98.9,443.93 99.59,444.49 100.27,445.14 100.95,445.85 101.63,446.59 102.32,447.33 103,448.04 103.68,448.69 104.36,449.25 105.05,449.69 105.73,449.98 106.41,450.09 107.09,450.02 107.78,449.81 108.46,449.5 109.14,449.11 109.82,448.69 110.51,448.27 111.19,447.88 111.87,447.55 112.56,447.28 113.24,447.01 113.92,446.73 114.6,446.44 115.29,446.16 115.97,445.89 116.65,445.63 117.33,445.39 118.02,445.16 118.7,444.97 119.38,444.8 120.06,444.68 120.75,444.58 121.43,444.52 122.11,444.49 122.79,444.47 123.48,444.47 124.16,444.48 124.84,444.49 125.53,444.5 126.21,444.5 126.89,444.52 127.57,444.56 128.26,444.62 128.94,444.68 129.62,444.74 130.3,444.79 130.99,444.83 131.67,444.85 132.35,444.84 133.03,444.8 133.72,444.7 134.4,444.54 135.08,444.33 135.76,444.07 136.45,443.77 137.13,443.43 137.81,443.05 138.5,442.61 139.18,442.13 139.86,441.62 140.54,441.08 141.23,440.51 141.91,439.92 142.59,439.31 143.27,438.68 143.96,438.03 144.64,437.37 145.32,436.69 146,436 146.69,435.26 147.37,434.46 148.05,433.64 148.73,432.84 149.42,432.08 150.1,431.41 150.78,430.81 151.47,430.28 152.15,429.85 152.83,429.55 153.51,429.38 154.2,429.26 154.88,429.19 155.56,429.15 156.24,429.13 156.93,429.11 157.61,429.1 158.29,429.06 158.97,429 159.66,428.92 160.34,428.82 161.02,428.72 161.7,428.61 162.39,428.49 163.07,428.38 163.75,428.27 164.44,428.16 165.12,428.05 165.8,427.94 166.48,427.74 167.17,427.51 167.85,427.37 168.53,427.41 169.21,427.73 169.9,428.32 170.58,429.1 171.26,430.03 171.94,431.09 172.63,432.22 173.31,433.67 173.99,435.38 174.67,437.12 175.36,438.64 176.04,439.7 176.72,440.13 177.41,440.16 178.09,439.92 178.77,439.49 179.45,438.94 180.14,438.33 180.82,437.75 181.5,437.26 182.18,436.92 182.87,436.64 183.55,436.34 184.23,436.06 184.91,435.78 185.6,435.54 186.28,435.32 186.96,435.16 187.64,435.04 188.33,435 189.01,435.03 189.69,435.19 190.38,435.46 191.06,435.82 191.74,436.24 192.42,436.72 193.11,437.21 193.79,437.74 194.47,438.52 195.15,439.47 195.84,440.41 196.52,441.18 197.2,441.62 197.88,441.56 198.57,440.94 199.25,439.88 199.93,438.51 200.61,436.99 201.3,435.45 201.98,434.04 202.66,432.67 203.35,431.2 204.03,429.7 204.71,428.27 205.39,426.97 206.08,425.89 206.76,425.02 207.44,424.31 208.12,423.73 208.81,423.26 209.49,422.89 210.17,422.6 210.85,422.47 211.54,422.5 212.22,422.67 212.9,422.95 213.58,423.34 214.27,423.84 214.95,424.44 215.63,425.13 216.32,425.9 217,426.77 217.68,427.76 218.36,428.81 219.05,429.87 219.73,430.9 220.41,431.82 221.09,432.6 221.78,433.26 222.46,433.87 223.14,434.42 223.82,434.94 224.51,435.41 225.19,435.86 225.87,436.3 226.55,436.72 227.24,437.14 227.92,437.51 228.6,437.83 229.29,438.12 229.97,438.38 230.65,438.66 231.33,438.95 232.02,439.27 232.7,439.66 233.38,440.11 234.06,440.66 234.75,441.38 235.43,442.32 236.11,443.43 236.79,444.65 237.48,445.96 238.16,447.46 238.84,449.21 239.52,451.01 240.21,452.64 240.89,453.91 241.57,454.85 242.26,455.59 242.94,456.18 243.62,456.71 244.3,457.24 244.99,457.74 245.67,458.17 246.35,458.44 247.03,458.5 247.72,458.25 248.4,457.75 249.08,457.16 249.76,456.64 250.45,456.26 251.13,455.87 251.81,455.5 252.49,455.2 253.18,455.02 253.86,455.01 254.54,455.18 255.23,455.47 255.91,455.84 256.59,456.24 257.27,456.64 257.96,456.98 258.64,457.36 259.32,457.87 260,458.36 260.69,458.7 261.37,458.75 262.05,458.38 262.73,457.57 263.42,456.45 264.1,455.1 264.78,453.63 265.46,452.13 266.15,450.7 266.83,449.19 267.51,447.58 268.2,445.95 268.88,444.35 269.56,442.86 270.24,441.56 270.93,440.42 271.61,439.42 272.29,438.5 272.97,437.65 273.66,436.81 274.34,436.02 275.02,435.29 275.7,434.65 276.39,434.08 277.07,433.63 277.75,433.28 278.43,432.99 279.12,432.72 279.8,432.5 279.8,499" fill="#4472C4"/>
<polygon points="20.4,499 20.4,484 21.08,484 21.77,484 22.45,484 23.13,484 23.81,484 24.5,484 25.18,484 25.86,484 26.54,484 27.23,484 27.91,484 28.59,484 29.27,484 29.96,484 30.64,484 31.32,484 32,484 32.69,484 33.37,484 34.05,484 34.74,484 35.42,484 36.1,484 36.78,484 37.47,484 38.15,484 38.83,484 39.51,484 40.2,484 40.88,484 41.56,484 42.24,484 42.93,484 43.61,484 44.29,484 44.97,484 45.66,484 46.34,484 47.02,484 47.71,484 48.39,484 49.07,484 49.75,484 50.44,484 51.12,484 51.8,484 52.48,484 53.17,484 53.85,484 54.53,484 55.21,484 55.9,484 56.58,484 57.26,484 57.94,484 58.63,484 59.31,484 59.99,484 60.68,484 61.36,484 62.04,484 62.72,484 63.41,484 64.09,484 64.77,484 65.45,484 66.14,484 66.82,484 67.5,484 68.18,484 68.87,484 69.55,484 70.23,484 70.91,484 71.6,484 72.28,484 72.96,484 73.65,484 74.33,484 75.01,484 75.69,484 76.38,484 77.06,484 77.74,484 78.42,484 79.11,484 79.79,484 80.47,484 81.15,484 81.84,484 82.52,484 83.2,484 83.88,484 84.57,483.75 85.25,481.19 85.93,478.63 86.62,476.5 87.3,476.5 87.98,476.5 88.66,476.5 89.35,476.5 90.03,476.5 90.71,476.5 91.39,476.5 92.08,476.5 92.76,476.5 93.44,476.5 94.12,476.5 94.81,476.5 95.49,476.5 96.17,476.5 96.85,476.5 97.54,476.5 98.22,476.5 98.9,476.5 99.59,476.5 100.27,476.5 100.95,476.5 101.63,476.5 102.32,476.5 103,476.5 103.68,476.5 104.36,476.5 105.05,476.5 105.73,476.5 106.41,476.5 107.09,476.5 107.78,476.5 108.46,476.5 109.14,476.5 109.82,476.5 110.51,476.5 111.19,476.5 111.87,476.5 112.56,476.5 113.24,476.5 113.92,476.5 114.6,476.5 115.29,476.5 115.97,476.5 116.65,476.5 117.33,476.5 118.02,476.5 118.7,476.5 119.38,476.5 120.06,476.5 120.75,476.5 121.43,476.5 122.11,476.5 122.79,476.5 123.48,476.5 124.16,476.5 124.84,476.5 125.53,476.5 126.21,476.5 126.89,476.5 127.57,476.5 128.26,476.5 128.94,476.5 129.62,476.5 130.3,476.5 130.99,476.5 131.67,476.5 132.35,476.5 133.03,476.5 133.72,476.5 134.4,476.5 135.08,476.5 135.76,476.5 136.45,476.5 137.13,476.5 137.81,476.5 138.5,476.5 139.18,476.5 139.86,476.5 140.54,476.5 141.23,476.5 141.91,476.5 142.59,476.5 143.27,476.5 143.96,476.5 144.64,476.5 145.32,476.5 146,476.5 146.69,476.5 147.37,476.5 148.05,476.53 148.73,476.87 149.42,477.21 150.1,477.55 150.78,477.89 151.47,478 152.15,478 152.83,478 153.51,478 154.2,478 154.88,478 155.56,478 156.24,478 156.93,478 157.61,478 158.29,478 158.97,478 159.66,478 160.34,478 161.02,478 161.7,478 162.39,478 163.07,478 163.75,478 164.44,478 165.12,478 165.8,478 166.48,478 167.17,478 167.85,478 168.53,478 169.21,478 169.9,478 170.58,478 171.26,478 171.94,478 172.63,478 173.31,478 173.99,478 174.67,478 175.36,478 176.04,478 176.72,478 177.41,478 178.09,478 178.77,478 179.45,478 180.14,478 180.82,478 181.5,478 182.18,478 182.87,478 183.55,478 184.23,478 184.91,478 185.6,478 186.28,478 186.96,478 187.64,478 188.33,478 189.01,478 189.69,478 190.38,478 191.06,478 191.74,478 192.42,478 193.11,478 193.79,478 194.47,478 195.15,478 195.84,478 196.52,478 197.2,478 197.88,478 198.57,478 199.25,478 199.93,478 200.61,478 201.3,478 201.98,478 202.66,478 203.35,478 204.03,478 204.71,478 205.39,478 206.08,478 206.76,478 207.44,478 208.12,478 208.81,478 209.49,478 210.17,478 210.85,478 211.54,478 212.22,478 212.9,478 213.58,478 214.27,478 214.95,478 215.63,478.42 216.32,480.61 217,482.79 217.68,484.98 218.36,486 219.05,486 219.73,486 220.41,486 221.09,486 221.78,486 222.46,486 223.14,486 223.82,486 224.51,486 225.19,486 225.87,486 226.55,486 227.24,486 227.92,486 228.6,486 229.29,486 229.97,486 230.65,486 231.33,486 232.02,486 232.7,486 233.38,486 234.06,486 234.75,486 235.43,486 236.11,486 236.79,486 237.48,486 238.16,486 238.84,486 239.52,486 240.21,486 240.89,486 241.57,486 242.26,486 242.94,486 243.62,486 244.3,486 244.99,486 245.67,486 246.35,486 247.03,486 247.72,486 248.4,486 249.08,486 249.76,486 250.45,486 251.13,486 251.81,486 252.49,486 253.18,486 253.86,486 254.54,486 255.23,486 255.91,486 256.59,486 257.27,486 257.96,486 258.64,486 259.32,486 260,486 260.69,486 261.37,486 262.05,486 262.73,486 263.42,486 264.1,486 264.78,486 265.46,486 266.15,486 266.83,486 267.51,486 268.2,486 268.88,486 269.56,486 270.24,486 270.93,486 271.61,486 272.29,486 272.97,486 273.66,486 274.34,486 275.02,486 275.7,486 276.39,486 277.07,486 277.75,486 278.43,486 279.12,486 279.8,486 279.8,499" fill="#70AD47"/>
<polyline points="20.4,390 21.08,390.6 21.77,391.92 22.45,393.27 23.13,394.6 23.81,395.83 24.5,396.88 25.18,397.69 25.86,398.38 26.54,398.99 27.23,399.49 27.91,399.87 28.59,400.1 29.27,400.15 29.96,400.02 30.64,399.68 31.32,399.17 32,398.48 32.69,397.64 33.37,396.66 34.05,395.53 34.74,394.27 35.42,392.88 36.1,391.32 36.78,389.61 37.47,387.77 38.15,385.8 38.83,383.73 39.51,381.58 40.2,379.34 40.88,376.82 41.56,374.04 42.24,371.15 42.93,368.27 43.61,365.54 44.29,363.09 44.97,361.07 45.66,359.52 46.34,358.41 47.02,357.71 47.71,357.38 48.39,357.38 49.07,357.71 49.75,358.48 50.44,359.6 51.12,360.9 51.8,362.25 52.48,363.49 53.17,364.47 53.85,365.05 54.53,365.19 55.21,364.98 55.9,364.54 56.58,364 57.26,363.45 57.94,363.03 58.63,362.72 59.31,362.42 59.99,362.13 60.68,361.84 61.36,361.54 62.04,361.22 62.72,360.9 63.41,360.64 64.09,360.23 64.77,359.44 65.45,358.42 66.14,357.3 66.82,356.12 67.5,354.93 68.18,353.79 68.87,352.73 69.55,351.81 70.23,351.06 70.91,350.41 71.6,349.83 72.28,349.35 72.96,349 73.65,348.81 74.33,348.8 75.01,349 75.69,349.46 76.38,350.22 77.06,351.27 77.74,352.65 78.42,354.36 79.11,356.47 79.79,359.22 80.47,362.41 81.15,365.82 81.84,369.22 82.52,372.64 83.2,376.41 83.88,380.13 84.57,383.38 85.25,385.8 85.93,387.82 86.62,389.62 87.3,391.23 87.98,392.66 88.66,393.93 89.35,395.05 90.03,396.04 90.71,396.89 91.39,397.58 92.08,398.12 92.76,398.5 93.44,398.74 94.12,398.83 94.81,398.79 95.49,398.62 96.17,398.35 96.85,397.95 97.54,397.4 98.22,396.68 98.9,395.75 99.59,394.58 100.27,393.15 100.95,391.38 101.63,389.32 102.32,387.05 103,384.64 103.68,382.16 104.36,379.71 105.05,377.34 105.73,374.94 106.41,372.43 107.09,369.86 107.78,367.31 108.46,364.85 109.14,362.56 109.82,360.49 110.51,358.69 111.19,357.13 111.87,355.84 112.56,354.82 113.24,354.09 113.92,353.69 114.6,353.81 115.29,354.38 115.97,355.21 116.65,356.09 117.33,356.91 118.02,357.99 118.7,359.14 119.38,360.07 120.06,360.52 120.75,360.56 121.43,360.42 122.11,360.14 122.79,359.77 123.48,359.36 124.16,358.94 124.84,358.57 125.53,358.25 126.21,357.88 126.89,357.49 127.57,357.09 128.26,356.72 128.94,356.39 129.62,356.12 130.3,355.98 130.99,356.26 131.67,356.61 132.35,356.6 133.03,355.96 133.72,355 134.4,353.86 135.08,352.68 135.76,351.62 136.45,350.69 137.13,349.67 137.81,348.62 138.5,347.65 139.18,346.88 139.86,346.39 140.54,346.31 141.23,346.62 141.91,347.26 142.59,348.24 143.27,349.56 143.96,351.23 144.64,353.26 145.32,356.19 146,359.87 146.69,363.77 147.37,367.39 148.05,370.41 148.73,373.15 149.42,375.76 150.1,378.39 150.78,381.21 151.47,384.13 152.15,386.98 152.83,389.6 153.51,391.84 154.2,393.64 154.88,395.26 155.56,396.71 156.24,397.99 156.93,399.08 157.61,399.98 158.29,400.66 158.97,401.13 159.66,401.4 160.34,401.48 161.02,401.35 161.7,401.02 162.39,400.48 163.07,399.73 163.75,398.75 164.44,397.48 165.12,395.92 165.8,394.12 166.48,392.13 167.17,390.03 167.85,387.86 168.53,385.69 169.21,383.49 169.9,381.09 170.58,378.55 171.26,375.97 171.94,373.42 172.63,370.99 173.31,368.78 173.99,366.86 174.67,365.25 175.36,363.91 176.04,362.8 176.72,361.88 177.41,361.1 178.09,360.53 178.77,360.35 179.45,360.56 180.14,361.15 180.82,362.08 181.5,363.26 182.18,364.56 182.87,365.87 183.55,367.08 184.23,368.06 184.91,368.7 185.6,368.95 186.28,368.9 186.96,368.63 187.64,368.2 188.33,367.68 189.01,367.15 189.69,366.68 190.38,366.3 191.06,365.95 191.74,365.59 192.42,365.19 193.11,364.73 193.79,364.19 194.47,363.52 195.15,362.61 195.84,361.36 196.52,359.68 197.2,357.64 197.88,355.46 198.57,353.38 199.25,351.61 199.93,350.38 200.61,349.7 201.3,349.28 201.98,349.08 202.66,349.06 203.35,349.17 204.03,349.35 204.71,349.57 205.39,349.77 206.08,349.83 206.76,349.66 207.44,349.43 208.12,349.27 208.81,349.35 209.49,349.81 210.17,350.82 210.85,352.53 211.54,356.08 212.22,362.56 212.9,370.01 213.58,376.36 214.27,380.59 214.95,384.2 215.63,387.34 216.32,390.03 217,392.31 217.68,394.22 218.36,395.82 219.05,397.14 219.73,398.23 220.41,399.11 221.09,399.84 221.78,400.45 222.46,400.97 223.14,401.43 223.82,401.8 224.51,402.05 225.19,402.15 225.87,402.07 226.55,401.79 227.24,401.27 227.92,400.48 228.6,399.42 229.29,398.12 229.97,396.62 230.65,394.96 231.33,393.18 232.02,391.33 232.7,389.43 233.38,387.15 234.06,384.57 234.75,381.89 235.43,379.36 236.11,377.17 236.79,375.21 237.48,373.37 238.16,371.65 238.84,370.08 239.52,368.67 240.21,367.45 240.89,366.39 241.57,365.51 242.26,364.81 242.94,364.32 243.62,364.03 244.3,363.99 244.99,364.22 245.67,364.65 246.35,365.22 247.03,365.86 247.72,366.53 248.4,367.55 249.08,368.71 249.76,369.62 250.45,370.06 251.13,370.42 251.81,370.71 252.49,370.93 253.18,371.05 253.86,371.07 254.54,370.95 255.23,370.71 255.91,370.45 256.59,370.19 257.27,369.87 257.96,369.45 258.64,368.9 259.32,368.16 260,367.2 260.69,365.97 261.37,364.31 262.05,361.77 262.73,358.62 263.42,355.23 264.1,351.98 264.78,349.23 265.46,347.37 266.15,346.47 266.83,346.24 267.51,346.5 268.2,347.09 268.88,347.84 269.56,348.59 270.24,349.21 270.93,349.87 271.61,350.67 272.29,351.6 272.97,352.65 273.66,353.83 274.34,355.24 275.02,357.02 275.7,359.06 276.39,361.24 277.07,363.81 277.75,367.55 278.43,372.3 279.12,377.44 279.8,381" fill="none" stroke="#0b2350" stroke-width="1.7" stroke-dasharray="0.1 3.25" stroke-linecap="round"/>
<polyline points="20.4,377.5 21.08,377.48 21.77,377.42 22.45,377.36 23.13,377.29 23.81,377.22 24.5,377.15 25.18,377.09 25.86,377.03 26.54,376.99 27.23,376.97 27.91,376.97 28.59,376.99 29.27,377.07 29.96,377.27 30.64,377.54 31.32,377.83 32,378.09 32.69,378.28 33.37,378.34 34.05,378.25 34.74,378.18 35.42,378.13 36.1,378.05 36.78,377.9 37.47,377.64 38.15,377.22 38.83,376.61 39.51,375.77 40.2,374.63 40.88,373.03 41.56,370.99 42.24,368.65 42.93,366.14 43.61,363.58 44.29,361.1 44.97,358.83 45.66,356.67 46.34,354.47 47.02,352.27 47.71,350.13 48.39,348.09 49.07,346.21 49.75,344.54 50.44,343.21 51.12,342.44 51.8,342.07 52.48,341.91 53.17,341.76 53.85,341.65 54.53,341.68 55.21,341.9 55.9,342.4 56.58,343.12 57.26,343.94 57.94,344.84 58.63,345.83 59.31,346.92 59.99,348.09 60.68,349.36 61.36,350.85 62.04,353.02 62.72,355.48 63.41,357.71 64.09,359.19 64.77,359.48 65.45,359.07 66.14,358.22 66.82,357.06 67.5,355.7 68.18,354.27 68.87,352.88 69.55,351.66 70.23,350.71 70.91,349.96 71.6,349.36 72.28,348.88 72.96,348.52 73.65,348.27 74.33,348.28 75.01,348.76 75.69,349.5 76.38,350.27 77.06,351.19 77.74,352.4 78.42,354.03 79.11,356.25 79.79,359.17 80.47,362.56 81.15,366.12 81.84,369.56 82.52,372.58 83.2,374.64 83.88,374.87 84.57,373.39 85.25,371.4 85.93,370.05 86.62,369.87 87.3,370.22 87.98,370.81 88.66,371.34 89.35,371.6 90.03,371.78 90.71,371.91 91.39,371.99 92.08,372.02 92.76,371.96 93.44,371.75 94.12,371.44 94.81,371.14 95.49,370.98 96.17,371.04 96.85,371.34 97.54,371.79 98.22,372.32 98.9,372.85 99.59,373.31 100.27,373.64 100.95,373.75 101.63,373.65 102.32,373.38 103,372.93 103.68,372.3 104.36,371.47 105.05,370.42 105.73,369.19 106.41,367.81 107.09,366.29 107.78,364.66 108.46,362.93 109.14,361.11 109.82,359.24 110.51,357.25 111.19,355.02 111.87,352.63 112.56,350.19 113.24,347.8 113.92,345.54 114.6,343.53 115.29,341.83 115.97,340.38 116.65,339.13 117.33,338.03 118.02,337.05 118.7,336.14 119.38,335.28 120.06,334.42 120.75,333.84 121.43,333.63 122.11,333.6 122.79,333.66 123.48,333.97 124.16,334.71 124.84,335.57 125.53,336.44 126.21,337.37 126.89,338.43 127.57,339.69 128.26,341.2 128.94,343.1 129.62,346.18 130.3,350.01 130.99,353.7 131.67,356.35 132.35,357.25 133.03,356.93 133.72,355.83 134.4,354.31 135.08,352.7 135.76,351.34 136.45,350.38 137.13,349.35 137.81,348.31 138.5,347.34 139.18,346.57 139.86,346.09 140.54,346.01 141.23,346.35 141.91,347.05 142.59,348.1 143.27,349.44 143.96,351.05 144.64,352.92 145.32,355.76 146,359.32 146.69,362.88 147.37,365.69 148.05,367.03 148.73,366.09 149.42,363.46 150.1,360.34 150.78,357.93 151.47,357.15 152.15,357.5 152.83,358.33 153.51,359.01 154.2,359.51 154.88,360.04 155.56,360.43 156.24,360.48 156.93,360.37 157.61,360.16 158.29,359.9 158.97,359.6 159.66,359.29 160.34,358.99 161.02,358.74 161.7,358.5 162.39,358.21 163.07,357.91 163.75,357.61 164.44,357.33 165.12,357.08 165.8,356.89 166.48,356.77 167.17,356.73 167.85,356.82 168.53,357.17 169.21,357.71 169.9,358.36 170.58,359.03 171.26,359.64 171.94,360.11 172.63,360.34 173.31,360.26 173.99,359.73 174.67,358.26 175.36,356.05 176.04,353.5 176.72,351.01 177.41,348.98 178.09,347.43 178.77,345.97 179.45,344.61 180.14,343.35 180.82,342.21 181.5,341.2 182.18,340.34 182.87,339.67 183.55,339.32 184.23,339.26 184.91,339.42 185.6,339.75 186.28,340.18 186.96,340.61 187.64,341.11 188.33,341.8 189.01,342.79 189.69,344.2 190.38,346.24 191.06,349.26 191.74,352.87 192.42,356.6 193.11,359.97 193.79,362.5 194.47,363.73 195.15,363.56 195.84,362.41 196.52,360.56 197.2,358.28 197.88,355.83 198.57,353.47 199.25,351.47 199.93,350.09 200.61,349.34 201.3,348.88 201.98,348.66 202.66,348.64 203.35,348.77 204.03,348.98 204.71,349.23 205.39,349.47 206.08,349.67 206.76,349.88 207.44,350.12 208.12,350.38 208.81,350.69 209.49,351.07 210.17,351.51 210.85,352.04 211.54,352.67 212.22,353.41 212.9,354.34 213.58,355.68 214.27,357.3 214.95,359.08 215.63,360.85 216.32,362.48 217,363.8 217.68,364.7 218.36,365.34 219.05,365.86 219.73,366.28 220.41,366.61 221.09,366.87 221.78,367.1 222.46,367.29 223.14,367.49 223.82,367.7 224.51,367.96 225.19,368.27 225.87,368.67 226.55,369.16 227.24,369.75 227.92,370.42 228.6,371.14 229.29,371.9 229.97,372.68 230.65,373.45 231.33,374.19 232.02,374.89 232.7,375.52 233.38,376.07 234.06,376.51 234.75,376.82 235.43,376.99 236.11,376.97 236.79,376.2 237.48,374.61 238.16,372.56 238.84,370.41 239.52,368.5 240.21,367.15 240.89,366.11 241.57,365.24 242.26,364.56 242.94,364.07 243.62,363.78 244.3,363.74 244.99,363.96 245.67,364.38 246.35,364.94 247.03,365.57 247.72,366.23 248.4,367.25 249.08,368.41 249.76,369.31 250.45,369.76 251.13,370.12 251.81,370.41 252.49,370.63 253.18,370.75 253.86,370.77 254.54,370.65 255.23,370.41 255.91,370.15 256.59,369.89 257.27,369.57 257.96,369.15 258.64,368.6 259.32,367.86 260,366.9 260.69,365.67 261.37,364.01 262.05,361.47 262.73,358.32 263.42,354.93 264.1,351.67 264.78,348.93 265.46,347.07 266.15,346.18 266.83,345.95 267.51,346.22 268.2,346.82 268.88,347.58 269.56,348.34 270.24,348.95 270.93,349.56 271.61,350.26 272.29,351.13 272.97,352.2 273.66,353.54 274.34,355.4 275.02,357.88 275.7,360.53 276.39,362.93 277.07,364.63 277.75,365.3 278.43,365.27 279.12,365.03 279.8,365" fill="none" stroke="#05080f" stroke-width="2.1" stroke-linejoin="round"/>
<line x1="20.4" y1="499" x2="279.8" y2="499" stroke="#3a4a3a" stroke-width="0.9"/>
<text x="21.1" y="510.1" text-anchor="middle" font-size="7.5" fill="#111">1</text>
<text x="34.75" y="510.1" text-anchor="middle" font-size="7.5" fill="#111">6</text>
<text x="48.41" y="510.1" text-anchor="middle" font-size="7.5" fill="#111">11</text>
<text x="62.06" y="510.1" text-anchor="middle" font-size="7.5" fill="#111">16</text>
<text x="75.71" y="510.1" text-anchor="middle" font-size="7.5" fill="#111">21</text>
<text x="89.36" y="510.1" text-anchor="middle" font-size="7.5" fill="#111">26</text>
<text x="103.02" y="510.1" text-anchor="middle" font-size="7.5" fill="#111">31</text>
<text x="116.67" y="510.1" text-anchor="middle" font-size="7.5" fill="#111">36</text>
<text x="130.32" y="510.1" text-anchor="middle" font-size="7.5" fill="#111">41</text>
<text x="143.97" y="510.1" text-anchor="middle" font-size="7.5" fill="#111">46</text>
<text x="157.63" y="510.1" text-anchor="middle" font-size="7.5" fill="#111">51</text>
<text x="171.28" y="510.1" text-anchor="middle" font-size="7.5" fill="#111">56</text>
<text x="184.93" y="510.1" text-anchor="middle" font-size="7.5" fill="#111">61</text>
<text x="198.58" y="510.1" text-anchor="middle" font-size="7.5" fill="#111">66</text>
<text x="212.24" y="510.1" text-anchor="middle" font-size="7.5" fill="#111">71</text>
<text x="225.89" y="510.1" text-anchor="middle" font-size="7.5" fill="#111">76</text>
<text x="239.54" y="510.1" text-anchor="middle" font-size="7.5" fill="#111">81</text>
<text x="253.19" y="510.1" text-anchor="middle" font-size="7.5" fill="#111">86</text>
<text x="266.85" y="510.1" text-anchor="middle" font-size="7.5" fill="#111">91</text>
<text x="280.5" y="510.1" text-anchor="middle" font-size="7.5" fill="#111">96</text>
<text x="150.3" y="520.6" text-anchor="middle" font-size="7.8" fill="#111">h</text>
<text transform="translate(18,414) rotate(-90)" font-size="9.1" fill="#222" textLength="12.8" lengthAdjust="spacingAndGlyphs">GW</text>
<line x1="297.5" y1="376.4" x2="317.6" y2="376.4" stroke="#5B9BD5" stroke-width="3.1"/>
<text x="320.8" y="379.1" font-size="7.5" fill="#111" stroke="#111" stroke-width="0.12">煤电(亚超临界)</text>
<line x1="297.5" y1="388.73" x2="317.6" y2="388.73" stroke="#ED7D31" stroke-width="3.1"/>
<text x="320.8" y="391.43" font-size="7.5" fill="#111" stroke="#111" stroke-width="0.12">煤电(超超临界)</text>
<line x1="297.5" y1="401.06" x2="317.6" y2="401.06" stroke="#FFC61E" stroke-width="3.1"/>
<text x="320.8" y="403.76" font-size="7.5" fill="#111" stroke="#111" stroke-width="0.12">光伏</text>
<line x1="297.5" y1="413.39" x2="317.6" y2="413.39" stroke="#4472C4" stroke-width="3.1"/>
<text x="320.8" y="416.09" font-size="7.5" fill="#111" stroke="#111" stroke-width="0.12">风电</text>
<line x1="297.5" y1="425.72" x2="317.6" y2="425.72" stroke="#70AD47" stroke-width="3.1"/>
<text x="320.8" y="428.42" font-size="7.5" fill="#111" stroke="#111" stroke-width="0.12">水电</text>
<line x1="297.5" y1="438.05" x2="317.6" y2="438.05" stroke="#A5A5A5" stroke-width="3.1"/>
<text x="320.8" y="440.75" font-size="7.5" fill="#111" stroke="#111" stroke-width="0.12">气电</text>
<line x1="297.5" y1="450.38" x2="317.6" y2="450.38" stroke="#111" stroke-width="1.6" stroke-dasharray="0.1 2.85" stroke-linecap="round"/>
<text x="320.8" y="453.08" font-size="7.5" fill="#111" stroke="#111" stroke-width="0.12">电力负荷</text>
<line x1="297.5" y1="462.71" x2="317.6" y2="462.71" stroke="#111" stroke-width="1.8"/>
<text x="320.8" y="465.41" font-size="7.5" fill="#111" stroke="#111" stroke-width="0.12">电力负荷(加外送)</text>
<line x1="448.4" y1="315.8" x2="448.4" y2="504.5" stroke="#3c3c3c" stroke-width="0.8"/>
<line x1="448.4" y1="504.5" x2="656.4" y2="504.5" stroke="#3c3c3c" stroke-width="0.8"/>
<line x1="448.4" y1="504.5" x2="450.6" y2="504.5" stroke="#3c3c3c" stroke-width="0.7"/>
<text x="441.5" y="507.8" text-anchor="end" font-size="9.6" fill="#151515">0</text>
<line x1="448.4" y1="485.63" x2="450.6" y2="485.63" stroke="#3c3c3c" stroke-width="0.7"/>
<text x="441.5" y="488.93" text-anchor="end" font-size="9.6" fill="#151515">5</text>
<line x1="448.4" y1="466.76" x2="450.6" y2="466.76" stroke="#3c3c3c" stroke-width="0.7"/>
<text x="441.5" y="470.06" text-anchor="end" font-size="9.6" fill="#151515">10</text>
<line x1="448.4" y1="447.89" x2="450.6" y2="447.89" stroke="#3c3c3c" stroke-width="0.7"/>
<text x="441.5" y="451.19" text-anchor="end" font-size="9.6" fill="#151515">15</text>
<line x1="448.4" y1="429.02" x2="450.6" y2="429.02" stroke="#3c3c3c" stroke-width="0.7"/>
<text x="441.5" y="432.32" text-anchor="end" font-size="9.6" fill="#151515">20</text>
<line x1="448.4" y1="410.15" x2="450.6" y2="410.15" stroke="#3c3c3c" stroke-width="0.7"/>
<text x="441.5" y="413.45" text-anchor="end" font-size="9.6" fill="#151515">25</text>
<line x1="448.4" y1="391.28" x2="450.6" y2="391.28" stroke="#3c3c3c" stroke-width="0.7"/>
<text x="441.5" y="394.58" text-anchor="end" font-size="9.6" fill="#151515">30</text>
<line x1="448.4" y1="372.41" x2="450.6" y2="372.41" stroke="#3c3c3c" stroke-width="0.7"/>
<text x="441.5" y="375.71" text-anchor="end" font-size="9.6" fill="#151515">35</text>
<line x1="448.4" y1="353.54" x2="450.6" y2="353.54" stroke="#3c3c3c" stroke-width="0.7"/>
<text x="441.5" y="356.84" text-anchor="end" font-size="9.6" fill="#151515">40</text>
<line x1="448.4" y1="334.67" x2="450.6" y2="334.67" stroke="#3c3c3c" stroke-width="0.7"/>
<text x="441.5" y="337.97" text-anchor="end" font-size="9.6" fill="#151515">45</text>
<line x1="448.4" y1="315.8" x2="450.6" y2="315.8" stroke="#3c3c3c" stroke-width="0.7"/>
<text x="441.5" y="319.1" text-anchor="end" font-size="9.6" fill="#151515">50</text>
<line x1="448.4" y1="504.5" x2="448.4" y2="502.3" stroke="#3c3c3c" stroke-width="0.7"/>
<text transform="translate(451.6,510.6) rotate(-90)" text-anchor="end" font-size="8.9" fill="#111">2018</text>
<line x1="454.9" y1="504.5" x2="454.9" y2="502.3" stroke="#3c3c3c" stroke-width="0.7"/>
<line x1="461.4" y1="504.5" x2="461.4" y2="502.3" stroke="#3c3c3c" stroke-width="0.7"/>
<text transform="translate(464.6,510.6) rotate(-90)" text-anchor="end" font-size="8.9" fill="#111">2020</text>
<line x1="467.9" y1="504.5" x2="467.9" y2="502.3" stroke="#3c3c3c" stroke-width="0.7"/>
<line x1="474.4" y1="504.5" x2="474.4" y2="502.3" stroke="#3c3c3c" stroke-width="0.7"/>
<text transform="translate(477.6,510.6) rotate(-90)" text-anchor="end" font-size="8.9" fill="#111">2022</text>
<line x1="480.9" y1="504.5" x2="480.9" y2="502.3" stroke="#3c3c3c" stroke-width="0.7"/>
<line x1="487.4" y1="504.5" x2="487.4" y2="502.3" stroke="#3c3c3c" stroke-width="0.7"/>
<text transform="translate(490.6,510.6) rotate(-90)" text-anchor="end" font-size="8.9" fill="#111">2024</text>
<line x1="493.9" y1="504.5" x2="493.9" y2="502.3" stroke="#3c3c3c" stroke-width="0.7"/>
<line x1="500.4" y1="504.5" x2="500.4" y2="502.3" stroke="#3c3c3c" stroke-width="0.7"/>
<text transform="translate(503.6,510.6) rotate(-90)" text-anchor="end" font-size="8.9" fill="#111">2026</text>
<line x1="506.9" y1="504.5" x2="506.9" y2="502.3" stroke="#3c3c3c" stroke-width="0.7"/>
<line x1="513.4" y1="504.5" x2="513.4" y2="502.3" stroke="#3c3c3c" stroke-width="0.7"/>
<text transform="translate(516.6,510.6) rotate(-90)" text-anchor="end" font-size="8.9" fill="#111">2028</text>
<line x1="519.9" y1="504.5" x2="519.9" y2="502.3" stroke="#3c3c3c" stroke-width="0.7"/>
<line x1="526.4" y1="504.5" x2="526.4" y2="502.3" stroke="#3c3c3c" stroke-width="0.7"/>
<text transform="translate(529.6,510.6) rotate(-90)" text-anchor="end" font-size="8.9" fill="#111">2030</text>
<line x1="532.9" y1="504.5" x2="532.9" y2="502.3" stroke="#3c3c3c" stroke-width="0.7"/>
<line x1="539.4" y1="504.5" x2="539.4" y2="502.3" stroke="#3c3c3c" stroke-width="0.7"/>
<text transform="translate(542.6,510.6) rotate(-90)" text-anchor="end" font-size="8.9" fill="#111">2032</text>
<line x1="545.9" y1="504.5" x2="545.9" y2="502.3" stroke="#3c3c3c" stroke-width="0.7"/>
<line x1="552.4" y1="504.5" x2="552.4" y2="502.3" stroke="#3c3c3c" stroke-width="0.7"/>
<text transform="translate(555.6,510.6) rotate(-90)" text-anchor="end" font-size="8.9" fill="#111">2034</text>
<line x1="558.9" y1="504.5" x2="558.9" y2="502.3" stroke="#3c3c3c" stroke-width="0.7"/>
<line x1="565.4" y1="504.5" x2="565.4" y2="502.3" stroke="#3c3c3c" stroke-width="0.7"/>
<text transform="translate(568.6,510.6) rotate(-90)" text-anchor="end" font-size="8.9" fill="#111">2036</text>
<line x1="571.9" y1="504.5" x2="571.9" y2="502.3" stroke="#3c3c3c" stroke-width="0.7"/>
<line x1="578.4" y1="504.5" x2="578.4" y2="502.3" stroke="#3c3c3c" stroke-width="0.7"/>
<text transform="translate(581.6,510.6) rotate(-90)" text-anchor="end" font-size="8.9" fill="#111">2038</text>
<line x1="584.9" y1="504.5" x2="584.9" y2="502.3" stroke="#3c3c3c" stroke-width="0.7"/>
<line x1="591.4" y1="504.5" x2="591.4" y2="502.3" stroke="#3c3c3c" stroke-width="0.7"/>
<text transform="translate(594.6,510.6) rotate(-90)" text-anchor="end" font-size="8.9" fill="#111">2040</text>
<line x1="597.9" y1="504.5" x2="597.9" y2="502.3" stroke="#3c3c3c" stroke-width="0.7"/>
<line x1="604.4" y1="504.5" x2="604.4" y2="502.3" stroke="#3c3c3c" stroke-width="0.7"/>
<text transform="translate(607.6,510.6) rotate(-90)" text-anchor="end" font-size="8.9" fill="#111">2042</text>
<line x1="610.9" y1="504.5" x2="610.9" y2="502.3" stroke="#3c3c3c" stroke-width="0.7"/>
<line x1="617.4" y1="504.5" x2="617.4" y2="502.3" stroke="#3c3c3c" stroke-width="0.7"/>
<text transform="translate(620.6,510.6) rotate(-90)" text-anchor="end" font-size="8.9" fill="#111">2044</text>
<line x1="623.9" y1="504.5" x2="623.9" y2="502.3" stroke="#3c3c3c" stroke-width="0.7"/>
<line x1="630.4" y1="504.5" x2="630.4" y2="502.3" stroke="#3c3c3c" stroke-width="0.7"/>
<text transform="translate(633.6,510.6) rotate(-90)" text-anchor="end" font-size="8.9" fill="#111">2046</text>
<line x1="636.9" y1="504.5" x2="636.9" y2="502.3" stroke="#3c3c3c" stroke-width="0.7"/>
<line x1="643.4" y1="504.5" x2="643.4" y2="502.3" stroke="#3c3c3c" stroke-width="0.7"/>
<text transform="translate(646.6,510.6) rotate(-90)" text-anchor="end" font-size="8.9" fill="#111">2048</text>
<line x1="649.9" y1="504.5" x2="649.9" y2="502.3" stroke="#3c3c3c" stroke-width="0.7"/>
<line x1="656.4" y1="504.5" x2="656.4" y2="502.3" stroke="#3c3c3c" stroke-width="0.7"/>
<text transform="translate(659.6,510.6) rotate(-90)" text-anchor="end" font-size="8.9" fill="#111">2050</text>
<text transform="translate(425.7,463) rotate(-90)" font-size="8.3" fill="#1a1a1a" textLength="102" lengthAdjust="spacing">电力行业碳排放量（亿吨）</text>
<line x1="526.5" y1="326" x2="526.5" y2="496.5" stroke="#1a1a1a" stroke-width="0.9"/>
<polyline points="448.4,356.18 454.9,355.43 461.4,352.79 474.4,348.63 487.4,342.97 493.9,340.33 500.4,338.44 506.9,338.44 513.4,337.69 519.9,337.69 526.4,339.58 539.4,344.11 552.4,349.77 565.4,356.56 578.4,364.86 591.4,372.41 604.4,379.96 617.4,387.51 623.9,391.28 630.4,396.19 643.4,406.38 656.4,415.81" fill="none" stroke="#E2D66C" stroke-width="0.95" stroke-linejoin="round"/>
<polyline points="448.4,356.18 454.9,355.43 461.4,352.79 474.4,350.14 480.9,350.14 487.4,350.9 500.4,352.79 513.4,355.43 526.4,357.69 539.4,361.09 552.4,366.75 565.4,375.05 578.4,382.6 591.4,389.39 604.4,395.81 617.4,402.6 630.4,410.15 643.4,419.58 656.4,429.02" fill="none" stroke="#6E5CB8" stroke-width="0.95" stroke-linejoin="round"/>
<polyline points="526.4,357.69 539.4,364.86 552.4,372.41 565.4,381.85 578.4,398.83 591.4,417.7 597.9,427.13 604.4,434.68 617.4,447.89 623.9,457.32 630.4,466.76 636.9,476.19 643.4,483.74 649.9,491.29 656.4,495.06" fill="none" stroke="#3568A8" stroke-width="0.95" stroke-linejoin="round" stroke-dasharray="2 1.4"/>
<polyline points="448.4,356.18 454.9,355.43 461.4,352.79 474.4,350.14 480.9,350.14 487.4,350.9 500.4,352.79 513.4,355.43 526.4,357.69 539.4,361.84 552.4,367.5 565.4,376.18 571.9,381.85 578.4,387.51 584.9,402.6 591.4,419.58 597.9,432.79 604.4,442.23 610.9,447.89 617.4,453.55 623.9,464.87 630.4,474.31 636.9,481.86 643.4,491.29 649.9,497.71 656.4,500.73" fill="none" stroke="#2C6C98" stroke-width="0.95" stroke-linejoin="round"/>
<polyline points="526.4,357.69 532.9,379.96 539.4,396.94 545.9,404.49 552.4,415.81 558.9,427.13 565.4,438.45 571.9,449.78 578.4,455.44 584.9,461.1 591.4,465.63 597.9,470.53 604.4,474.31 610.9,478.08 617.4,479.97 623.9,483.74 630.4,493.18 636.9,498.84 643.4,501.86 656.4,503.37" fill="none" stroke="#86BC88" stroke-width="0.95" stroke-linejoin="round" stroke-dasharray="2 1.4"/>
<polyline points="448.4,356.18 454.9,355.43 461.4,352.79 474.4,350.14 480.9,350.14 487.4,350.9 500.4,352.79 513.4,355.43 526.4,357.69 532.9,364.86 539.4,374.3 545.9,391.28 552.4,404.49 558.9,417.7 565.4,429.02 571.9,442.23 578.4,451.66 584.9,461.1 591.4,468.65 597.9,478.08 604.4,483.74 610.9,493.93 617.4,496.95 623.9,498.84 630.4,503.75 656.4,504.5" fill="none" stroke="#7F8F7F" stroke-width="0.95" stroke-linejoin="round"/>
<line x1="672.6" y1="371.2" x2="688.4" y2="371.2" stroke="#E2D66C" stroke-width="1.0" opacity="0.85"/>
<text x="689.4" y="374.3" font-size="8.7" fill="#151515" stroke="#151515" stroke-width="0.15">政策情景</text>
<line x1="672.6" y1="390.2" x2="688.4" y2="390.2" stroke="#6E5CB8" stroke-width="1.0" opacity="0.85"/>
<text x="689.4" y="393.3" font-size="8.7" fill="#151515" stroke="#151515" stroke-width="0.15">强化减排情景</text>
<line x1="672.6" y1="411.1" x2="688.4" y2="411.1" stroke="#2C6C98" stroke-width="1.0" opacity="0.85"/>
<text x="689.4" y="414.2" font-size="8.7" fill="#151515" stroke="#151515" stroke-width="0.15"><tspan font-size="9.9">2</tspan>℃情景（使用<tspan font-size="9.9">CCS</tspan>）</text>
<line x1="672.6" y1="430.2" x2="688.4" y2="430.2" stroke="#3568A8" stroke-width="1.0" opacity="0.85" stroke-dasharray="2 1.4"/>
<text x="689.4" y="433.3" font-size="8.7" fill="#151515" stroke="#151515" stroke-width="0.15"><tspan font-size="9.9">2</tspan>℃情景（不使用<tspan font-size="9.9">CCS</tspan>）</text>
<line x1="672.6" y1="450.2" x2="688.4" y2="450.2" stroke="#7F8F7F" stroke-width="1.0" opacity="0.85"/>
<text x="689.4" y="453.3" font-size="8.7" fill="#151515" stroke="#151515" stroke-width="0.15"><tspan font-size="9.9">1.5</tspan>℃情景（使用<tspan font-size="9.9">CCS</tspan>）</text>
<line x1="672.6" y1="469.3" x2="688.4" y2="469.3" stroke="#86BC88" stroke-width="1.0" opacity="0.85" stroke-dasharray="2 1.4"/>
<text x="689.4" y="472.4" font-size="8.7" fill="#151515" stroke="#151515" stroke-width="0.15"><tspan font-size="9.9">1.5</tspan>℃情景（不使用<tspan font-size="9.9">CCS</tspan>）</text>
</svg>
</body></html>
